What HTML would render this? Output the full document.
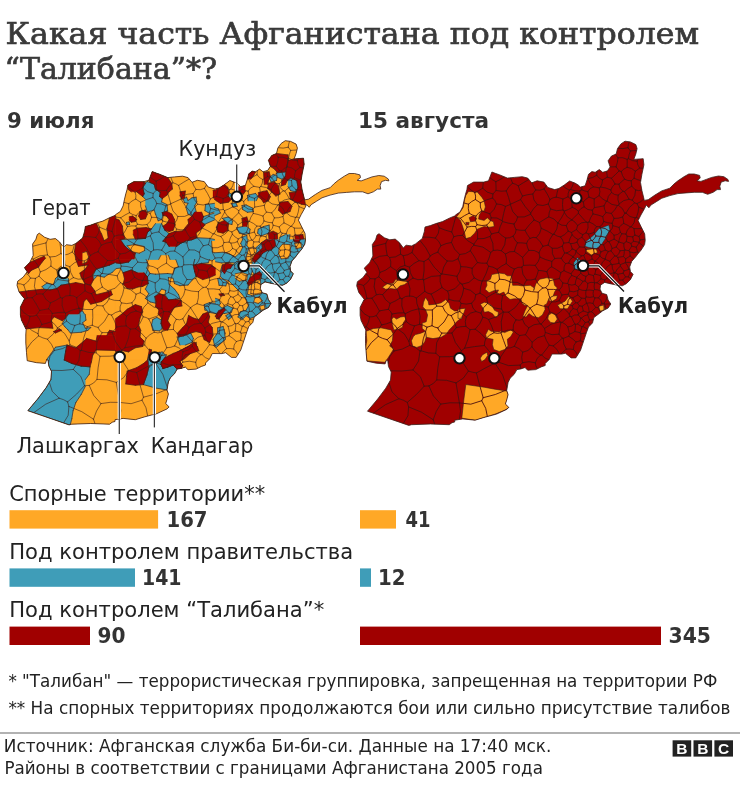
<!DOCTYPE html>
<html lang="ru"><head><meta charset="utf-8"><title>Какая часть Афганистана под контролем «Талибана»</title>
<style>html,body{margin:0;padding:0;background:#fff}svg{display:block}</style></head><body>
<svg width="740" height="786" viewBox="0 0 740 786">
<rect width="740" height="786" fill="#fff"/>
<text x="5.6" y="44.4" font-family="'DejaVu Serif', 'Liberation Serif', serif" font-size="30" font-weight="normal" fill="#3a3a3a" text-anchor="start" textLength="693.5" lengthAdjust="spacingAndGlyphs" stroke="#3a3a3a" stroke-width="0.7">Какая часть Афганистана под контролем</text>
<text x="4.6" y="79.2" font-family="'DejaVu Serif', 'Liberation Serif', serif" font-size="30" font-weight="normal" fill="#3a3a3a" text-anchor="start" textLength="212.5" lengthAdjust="spacingAndGlyphs" stroke="#3a3a3a" stroke-width="0.7">“Талибана”*?</text>
<text x="7" y="127.6" font-family="'DejaVu Sans', 'Liberation Sans', sans-serif" font-size="22" font-weight="bold" fill="#333" text-anchor="start" textLength="87.5" lengthAdjust="spacingAndGlyphs">9 июля</text>
<text x="358" y="127.6" font-family="'DejaVu Sans', 'Liberation Sans', sans-serif" font-size="22" font-weight="bold" fill="#333" text-anchor="start" textLength="131" lengthAdjust="spacingAndGlyphs">15 августа</text>
<clipPath id="cl"><polygon points="115.0,215.4 116.4,214.1 120.4,211.4 123.1,205.9 124.5,199.2 125.8,193.8 127.2,189.1 127.8,185.0 133.9,181.6 144.1,181.6 148.8,180.3 152.2,171.5 155.5,172.8 159.6,174.2 167.7,177.6 174.5,176.9 182.6,176.2 188.0,177.6 192.0,182.3 197.4,180.3 204.2,181.6 208.2,187.0 215.0,189.1 219.1,188.0 224.5,184.6 229.9,180.5 235.3,182.6 238.6,184.6 240.7,186.6 245.4,185.3 247.4,179.2 248.8,173.8 252.2,171.1 255.5,171.8 259.6,169.1 263.0,171.8 267.7,170.4 270.4,166.4 268.4,160.3 271.8,155.5 276.5,153.5 277.8,148.1 281.2,143.4 285.3,140.7 290.7,141.4 296.1,144.1 297.4,148.1 296.1,153.5 294.1,158.9 303.5,158.2 304.2,164.3 302.2,173.8 300.8,181.9 302.2,190.0 304.2,198.1 304.5,199.9 308.5,199.2 315.3,194.5 322.0,190.4 330.1,187.7 334.2,183.6 338.2,180.3 344.3,176.2 349.1,173.5 354.5,173.5 359.9,174.9 360.5,177.6 357.2,180.3 361.2,180.9 366.6,178.9 372.0,176.9 378.8,175.5 384.2,176.2 388.2,178.9 388.9,180.9 385.5,180.3 381.5,181.6 380.1,185.7 380.8,189.1 377.4,189.1 373.4,191.8 368.0,193.8 362.6,191.8 354.5,191.8 346.4,192.4 338.2,193.1 330.1,195.1 322.0,197.8 316.6,201.2 311.2,204.6 309.2,207.3 306.5,204.6 305.0,207.8 301.2,214.5 298.4,220.1 301.2,225.8 305.0,233.4 305.5,240.0 304.9,244.1 301.5,249.5 298.1,253.5 296.1,256.2 292.0,260.9 290.0,266.4 290.7,271.1 293.4,273.8 290.7,279.2 286.6,283.2 282.6,285.3 277.2,284.6 270.4,283.2 265.0,281.9 260.9,284.6 260.3,288.6 262.3,292.7 267.0,294.1 268.4,299.5 271.1,303.5 268.4,307.6 263.0,310.3 259.6,313.0 254.2,317.0 252.8,322.4 248.8,326.5 246.8,331.9 244.1,340.0 240.8,349.9 236.1,357.4 231.4,357.4 225.7,352.7 221.9,353.6 212.3,353.5 209.6,358.9 205.5,363.0 205.5,365.0 201.5,366.4 196.1,369.1 188.0,369.7 185.3,367.0 181.2,368.4 177.2,369.1 174.5,373.8 170.4,377.8 168.4,381.9 167.0,390.0 168.4,394.1 167.0,399.5 165.7,403.5 169.1,406.9 167.0,408.9 156.9,413.6 144.1,417.0 135.3,419.7 123.1,418.4 115.0,419.7 115.0,421.5 112.3,422.2 109.6,424.2 90.7,423.5 71.8,424.2 69.1,424.9 27.8,410.7 38.0,398.5 46.1,387.7 50.8,379.6 51.5,371.5 48.8,366.1 48.1,360.7 46.8,359.3 45.4,363.4 36.6,362.7 27.2,360.7 26.5,352.6 25.8,343.1 25.8,335.0 26.1,329.5 21.4,320.0 20.4,315.0 20.4,306.9 24.5,298.8 19.1,292.0 17.0,285.3 17.7,281.2 23.1,277.2 27.2,271.8 24.5,267.7 29.9,262.3 33.2,255.5 32.6,244.1 35.9,239.3 37.3,234.6 39.3,233.2 44.7,237.3 50.1,239.3 55.5,238.6 59.6,242.0 63.6,247.4 66.4,244.7 71.8,245.4 75.8,243.4 82.6,238.0 84.6,231.2 85.3,226.5 90.7,225.1 96.1,223.1 102.8,221.1 109.6,217.7"/></clipPath>
<polygon points="115.0,215.4 116.4,214.1 120.4,211.4 123.1,205.9 124.5,199.2 125.8,193.8 127.2,189.1 127.8,185.0 133.9,181.6 144.1,181.6 148.8,180.3 152.2,171.5 155.5,172.8 159.6,174.2 167.7,177.6 174.5,176.9 182.6,176.2 188.0,177.6 192.0,182.3 197.4,180.3 204.2,181.6 208.2,187.0 215.0,189.1 219.1,188.0 224.5,184.6 229.9,180.5 235.3,182.6 238.6,184.6 240.7,186.6 245.4,185.3 247.4,179.2 248.8,173.8 252.2,171.1 255.5,171.8 259.6,169.1 263.0,171.8 267.7,170.4 270.4,166.4 268.4,160.3 271.8,155.5 276.5,153.5 277.8,148.1 281.2,143.4 285.3,140.7 290.7,141.4 296.1,144.1 297.4,148.1 296.1,153.5 294.1,158.9 303.5,158.2 304.2,164.3 302.2,173.8 300.8,181.9 302.2,190.0 304.2,198.1 304.5,199.9 308.5,199.2 315.3,194.5 322.0,190.4 330.1,187.7 334.2,183.6 338.2,180.3 344.3,176.2 349.1,173.5 354.5,173.5 359.9,174.9 360.5,177.6 357.2,180.3 361.2,180.9 366.6,178.9 372.0,176.9 378.8,175.5 384.2,176.2 388.2,178.9 388.9,180.9 385.5,180.3 381.5,181.6 380.1,185.7 380.8,189.1 377.4,189.1 373.4,191.8 368.0,193.8 362.6,191.8 354.5,191.8 346.4,192.4 338.2,193.1 330.1,195.1 322.0,197.8 316.6,201.2 311.2,204.6 309.2,207.3 306.5,204.6 305.0,207.8 301.2,214.5 298.4,220.1 301.2,225.8 305.0,233.4 305.5,240.0 304.9,244.1 301.5,249.5 298.1,253.5 296.1,256.2 292.0,260.9 290.0,266.4 290.7,271.1 293.4,273.8 290.7,279.2 286.6,283.2 282.6,285.3 277.2,284.6 270.4,283.2 265.0,281.9 260.9,284.6 260.3,288.6 262.3,292.7 267.0,294.1 268.4,299.5 271.1,303.5 268.4,307.6 263.0,310.3 259.6,313.0 254.2,317.0 252.8,322.4 248.8,326.5 246.8,331.9 244.1,340.0 240.8,349.9 236.1,357.4 231.4,357.4 225.7,352.7 221.9,353.6 212.3,353.5 209.6,358.9 205.5,363.0 205.5,365.0 201.5,366.4 196.1,369.1 188.0,369.7 185.3,367.0 181.2,368.4 177.2,369.1 174.5,373.8 170.4,377.8 168.4,381.9 167.0,390.0 168.4,394.1 167.0,399.5 165.7,403.5 169.1,406.9 167.0,408.9 156.9,413.6 144.1,417.0 135.3,419.7 123.1,418.4 115.0,419.7 115.0,421.5 112.3,422.2 109.6,424.2 90.7,423.5 71.8,424.2 69.1,424.9 27.8,410.7 38.0,398.5 46.1,387.7 50.8,379.6 51.5,371.5 48.8,366.1 48.1,360.7 46.8,359.3 45.4,363.4 36.6,362.7 27.2,360.7 26.5,352.6 25.8,343.1 25.8,335.0 26.1,329.5 21.4,320.0 20.4,315.0 20.4,306.9 24.5,298.8 19.1,292.0 17.0,285.3 17.7,281.2 23.1,277.2 27.2,271.8 24.5,267.7 29.9,262.3 33.2,255.5 32.6,244.1 35.9,239.3 37.3,234.6 39.3,233.2 44.7,237.3 50.1,239.3 55.5,238.6 59.6,242.0 63.6,247.4 66.4,244.7 71.8,245.4 75.8,243.4 82.6,238.0 84.6,231.2 85.3,226.5 90.7,225.1 96.1,223.1 102.8,221.1 109.6,217.7" fill="#FFA826"/>
<g clip-path="url(#cl)" stroke-linejoin="round">
<g fill="#3F9DB8" stroke="#3b1f1a" stroke-width="1.3">
<polygon points="144.3,183.8 150.0,180.0 150.0,204.6 146.2,198.9 144.3,191.4"/>
<polygon points="119.7,240.5 131.1,236.8 146.2,234.9 150.0,236.8 150.0,244.3 142.4,246.2 131.1,245.3 123.5,246.2 118.8,244.3"/>
<polygon points="93.2,275.5 98.9,274.6 108.4,268.9 117.8,268.0 123.5,269.9 131.1,272.7 142.4,272.7 150.0,268.9 150.0,245.3 142.4,251.9 134.9,255.7 131.1,261.4 119.7,263.2 108.4,264.2 98.9,268.9 93.2,274.6"/>
<polygon points="43.1,287.8 53.5,283.1 57.3,276.5 66.8,278.4 74.3,283.1 84.7,283.1 66.8,285.0 53.5,288.2"/>
<polygon points="66.8,320.0 72.4,312.4 83.8,310.5 87.6,314.3 85.7,320.0"/>
<polygon points="62.0,325.7 66.8,320.0 85.7,320.0 86.6,325.7 89.5,328.5 81.9,332.3 72.4,333.2 66.8,329.5"/>
<polygon points="54.5,347.4 64.9,345.5 63.9,360.7 72.4,366.4 90.4,364.5 89.5,374.9 84.7,386.2 72.4,412.7 70.5,423.7 66.8,424.1 28.0,408.9 49.7,382.4 53.5,374.9 50.7,367.3 47.8,361.6"/>
<polygon points="149.1,360.7 150.0,360.7 150.0,387.2 143.4,386.2 146.2,376.8"/>
<polygon points="123.5,355.9 128.2,355.0 127.3,362.6 124.5,362.6"/>
<polygon points="150.0,183.4 155.7,189.1 161.4,196.6 165.1,198.5 168.9,204.2 167.0,210.8 163.2,213.6 157.6,209.9 153.8,210.8 150.0,209.9"/>
<polygon points="150.0,228.8 157.6,228.8 163.2,221.2 165.1,228.8 170.8,230.7 164.2,238.2 167.0,243.9 174.6,246.8 185.0,242.0 193.5,238.2 197.3,238.2 212.4,240.1 213.4,253.4 212.4,262.8 199.2,263.2 192.6,266.6 187.8,268.5 176.5,268.5 175.5,260.9 168.9,255.3 161.4,256.2 157.6,253.4 150.0,256.2"/>
<polygon points="187.8,197.6 196.4,196.6 197.3,208.0 190.7,209.9 187.8,204.2"/>
<polygon points="203.9,204.2 214.3,203.2 217.2,211.8 214.3,216.5 204.9,215.5"/>
<polygon points="224.7,218.4 232.3,219.3 233.2,224.1 228.5,223.1"/>
<polygon points="247.4,194.7 256.9,193.8 257.8,199.5 248.4,199.5"/>
<polygon points="243.6,206.1 252.2,206.1 253.1,211.8 244.6,211.8"/>
<polygon points="271.1,173.9 278.6,173.9 279.6,181.5 273.0,181.5"/>
<polygon points="234.2,227.8 240.8,226.9 248.4,230.7 255.9,234.5 263.5,240.1 261.6,247.7 255.9,253.4 253.1,260.0 248.4,260.9 244.6,255.3 240.8,257.2 238.9,245.8 242.7,240.1 235.1,234.5"/>
<polygon points="233.2,260.9 240.8,257.2 248.4,260.9 257.8,260.9 263.5,255.3 271.1,249.6 278.6,257.2 290.0,257.2 290.0,287.4 278.6,287.4 263.5,285.5 260.7,271.4 252.2,273.2 247.4,284.6 240.8,287.4 235.1,279.9 233.2,272.3 233.2,268.5"/>
<polygon points="150.0,276.1 161.4,278.0 176.5,278.0 176.5,268.5 187.8,268.5 192.6,266.6 196.4,276.1 193.5,287.4 187.8,295.0 165.1,295.0 164.2,288.4 157.6,289.3 150.0,287.4"/>
<polygon points="214.3,278.0 221.9,276.1 229.5,278.0 233.2,287.4 225.7,295.0 216.2,295.0"/>
<polygon points="238.9,287.4 247.4,285.5 248.4,295.0 240.8,295.0"/>
<polygon points="150.0,295.0 155.7,295.0 154.7,302.6 150.0,302.6"/>
<polygon points="151.9,319.6 157.6,317.7 163.2,330.9 157.6,330.9 151.9,329.1"/>
<polygon points="204.9,306.4 214.3,302.6 220.0,306.4 215.3,313.9 206.8,312.0"/>
<polygon points="178.4,338.5 187.8,333.8 192.6,340.4 190.7,344.2 180.3,346.1"/>
<polygon points="213.4,340.4 220.0,330.0 225.7,330.9 224.7,339.5 216.2,347.0"/>
<polygon points="220.0,295.0 231.4,295.0 233.2,300.7 225.7,306.4 220.9,302.6"/>
<polygon points="231.4,304.5 238.9,303.5 240.8,310.1 233.2,311.1"/>
<polygon points="238.9,313.9 248.4,313.0 249.3,318.6 239.9,320.5"/>
<polygon points="250.3,298.8 271.1,300.7 268.2,308.2 257.8,310.1 252.2,306.4"/>
<polygon points="150.0,359.3 153.8,363.1 161.4,366.9 168.9,367.8 178.4,369.7 176.5,374.5 170.8,378.2 168.0,385.8 167.0,389.6 150.0,388.6"/>
<polygon points="159.5,352.7 166.1,353.6 162.3,360.3 158.5,359.3"/>
<polygon points="270.0,174.7 275.7,175.7 276.6,180.4 270.0,182.3"/>
<polygon points="277.6,172.8 284.2,171.9 284.2,176.6 278.5,177.6"/>
<polygon points="288.0,180.4 294.6,177.6 298.4,182.3 298.4,189.9 292.7,192.7 288.9,189.9"/>
<polygon points="275.7,240.9 281.4,237.2 288.9,234.3 290.8,240.0 287.0,244.7 279.5,246.6"/>
<polygon points="270.0,248.5 274.7,246.6 279.5,246.6 278.5,256.1 288.9,258.0 288.9,248.5 298.4,248.5 305.9,244.7 301.2,250.4 298.4,256.1 294.6,261.8 293.6,267.4 288.9,275.0 270.0,275.0"/>
<polygon points="230.0,251.4 239.5,249.5 241.4,240.0 261.2,243.8 260.3,249.5 254.6,253.2 252.7,258.0 258.4,255.1 263.1,251.4 270.7,250.4 276.4,245.7 279.2,251.4 286.8,255.1 296.2,257.0 292.4,264.6 293.4,270.3 290.5,277.8 286.8,282.6 281.1,285.4 273.5,282.6 264.1,280.7 261.2,283.5 260.3,289.2 265.9,294.9 266.9,300.5 270.7,305.3 266.9,310.0 260.3,311.9 252.7,314.7 245.1,315.7 241.4,311.9 235.7,302.4 233.8,293.0 230.0,289.2"/>
<polygon points="286.8,240.0 292.4,240.0 293.4,245.7 288.6,246.6"/>
<polygon points="296.2,245.7 303.8,243.8 302.8,250.4 298.1,251.4"/>
<polygon points="195.4,208.0 204.9,207.0 205.8,216.5 197.3,217.4"/>
</g>
<g fill="#3F9DB8" stroke="#3F9DB8" stroke-width="0.25">
<polygon points="144.3,183.8 150.0,180.0 150.0,204.6 146.2,198.9 144.3,191.4"/>
<polygon points="119.7,240.5 131.1,236.8 146.2,234.9 150.0,236.8 150.0,244.3 142.4,246.2 131.1,245.3 123.5,246.2 118.8,244.3"/>
<polygon points="93.2,275.5 98.9,274.6 108.4,268.9 117.8,268.0 123.5,269.9 131.1,272.7 142.4,272.7 150.0,268.9 150.0,245.3 142.4,251.9 134.9,255.7 131.1,261.4 119.7,263.2 108.4,264.2 98.9,268.9 93.2,274.6"/>
<polygon points="43.1,287.8 53.5,283.1 57.3,276.5 66.8,278.4 74.3,283.1 84.7,283.1 66.8,285.0 53.5,288.2"/>
<polygon points="66.8,320.0 72.4,312.4 83.8,310.5 87.6,314.3 85.7,320.0"/>
<polygon points="62.0,325.7 66.8,320.0 85.7,320.0 86.6,325.7 89.5,328.5 81.9,332.3 72.4,333.2 66.8,329.5"/>
<polygon points="54.5,347.4 64.9,345.5 63.9,360.7 72.4,366.4 90.4,364.5 89.5,374.9 84.7,386.2 72.4,412.7 70.5,423.7 66.8,424.1 28.0,408.9 49.7,382.4 53.5,374.9 50.7,367.3 47.8,361.6"/>
<polygon points="149.1,360.7 150.0,360.7 150.0,387.2 143.4,386.2 146.2,376.8"/>
<polygon points="123.5,355.9 128.2,355.0 127.3,362.6 124.5,362.6"/>
<polygon points="150.0,183.4 155.7,189.1 161.4,196.6 165.1,198.5 168.9,204.2 167.0,210.8 163.2,213.6 157.6,209.9 153.8,210.8 150.0,209.9"/>
<polygon points="150.0,228.8 157.6,228.8 163.2,221.2 165.1,228.8 170.8,230.7 164.2,238.2 167.0,243.9 174.6,246.8 185.0,242.0 193.5,238.2 197.3,238.2 212.4,240.1 213.4,253.4 212.4,262.8 199.2,263.2 192.6,266.6 187.8,268.5 176.5,268.5 175.5,260.9 168.9,255.3 161.4,256.2 157.6,253.4 150.0,256.2"/>
<polygon points="187.8,197.6 196.4,196.6 197.3,208.0 190.7,209.9 187.8,204.2"/>
<polygon points="203.9,204.2 214.3,203.2 217.2,211.8 214.3,216.5 204.9,215.5"/>
<polygon points="224.7,218.4 232.3,219.3 233.2,224.1 228.5,223.1"/>
<polygon points="247.4,194.7 256.9,193.8 257.8,199.5 248.4,199.5"/>
<polygon points="243.6,206.1 252.2,206.1 253.1,211.8 244.6,211.8"/>
<polygon points="271.1,173.9 278.6,173.9 279.6,181.5 273.0,181.5"/>
<polygon points="234.2,227.8 240.8,226.9 248.4,230.7 255.9,234.5 263.5,240.1 261.6,247.7 255.9,253.4 253.1,260.0 248.4,260.9 244.6,255.3 240.8,257.2 238.9,245.8 242.7,240.1 235.1,234.5"/>
<polygon points="233.2,260.9 240.8,257.2 248.4,260.9 257.8,260.9 263.5,255.3 271.1,249.6 278.6,257.2 290.0,257.2 290.0,287.4 278.6,287.4 263.5,285.5 260.7,271.4 252.2,273.2 247.4,284.6 240.8,287.4 235.1,279.9 233.2,272.3 233.2,268.5"/>
<polygon points="150.0,276.1 161.4,278.0 176.5,278.0 176.5,268.5 187.8,268.5 192.6,266.6 196.4,276.1 193.5,287.4 187.8,295.0 165.1,295.0 164.2,288.4 157.6,289.3 150.0,287.4"/>
<polygon points="214.3,278.0 221.9,276.1 229.5,278.0 233.2,287.4 225.7,295.0 216.2,295.0"/>
<polygon points="238.9,287.4 247.4,285.5 248.4,295.0 240.8,295.0"/>
<polygon points="150.0,295.0 155.7,295.0 154.7,302.6 150.0,302.6"/>
<polygon points="151.9,319.6 157.6,317.7 163.2,330.9 157.6,330.9 151.9,329.1"/>
<polygon points="204.9,306.4 214.3,302.6 220.0,306.4 215.3,313.9 206.8,312.0"/>
<polygon points="178.4,338.5 187.8,333.8 192.6,340.4 190.7,344.2 180.3,346.1"/>
<polygon points="213.4,340.4 220.0,330.0 225.7,330.9 224.7,339.5 216.2,347.0"/>
<polygon points="220.0,295.0 231.4,295.0 233.2,300.7 225.7,306.4 220.9,302.6"/>
<polygon points="231.4,304.5 238.9,303.5 240.8,310.1 233.2,311.1"/>
<polygon points="238.9,313.9 248.4,313.0 249.3,318.6 239.9,320.5"/>
<polygon points="250.3,298.8 271.1,300.7 268.2,308.2 257.8,310.1 252.2,306.4"/>
<polygon points="150.0,359.3 153.8,363.1 161.4,366.9 168.9,367.8 178.4,369.7 176.5,374.5 170.8,378.2 168.0,385.8 167.0,389.6 150.0,388.6"/>
<polygon points="159.5,352.7 166.1,353.6 162.3,360.3 158.5,359.3"/>
<polygon points="270.0,174.7 275.7,175.7 276.6,180.4 270.0,182.3"/>
<polygon points="277.6,172.8 284.2,171.9 284.2,176.6 278.5,177.6"/>
<polygon points="288.0,180.4 294.6,177.6 298.4,182.3 298.4,189.9 292.7,192.7 288.9,189.9"/>
<polygon points="275.7,240.9 281.4,237.2 288.9,234.3 290.8,240.0 287.0,244.7 279.5,246.6"/>
<polygon points="270.0,248.5 274.7,246.6 279.5,246.6 278.5,256.1 288.9,258.0 288.9,248.5 298.4,248.5 305.9,244.7 301.2,250.4 298.4,256.1 294.6,261.8 293.6,267.4 288.9,275.0 270.0,275.0"/>
<polygon points="230.0,251.4 239.5,249.5 241.4,240.0 261.2,243.8 260.3,249.5 254.6,253.2 252.7,258.0 258.4,255.1 263.1,251.4 270.7,250.4 276.4,245.7 279.2,251.4 286.8,255.1 296.2,257.0 292.4,264.6 293.4,270.3 290.5,277.8 286.8,282.6 281.1,285.4 273.5,282.6 264.1,280.7 261.2,283.5 260.3,289.2 265.9,294.9 266.9,300.5 270.7,305.3 266.9,310.0 260.3,311.9 252.7,314.7 245.1,315.7 241.4,311.9 235.7,302.4 233.8,293.0 230.0,289.2"/>
<polygon points="286.8,240.0 292.4,240.0 293.4,245.7 288.6,246.6"/>
<polygon points="296.2,245.7 303.8,243.8 302.8,250.4 298.1,251.4"/>
<polygon points="195.4,208.0 204.9,207.0 205.8,216.5 197.3,217.4"/>
</g>
<g fill="#A00000" stroke="#3b1f1a" stroke-width="1.3">
<polygon points="128.2,184.7 134.9,181.9 142.4,183.8 144.3,191.4 140.5,196.1 131.1,191.4"/>
<polygon points="139.6,211.2 145.3,210.3 147.2,215.9 142.4,218.8 139.6,216.9"/>
<polygon points="130.1,216.9 135.8,215.0 138.6,218.8 133.0,222.6"/>
<polygon points="109.3,217.8 115.9,215.9 121.6,219.7 123.5,234.9 115.9,238.6 108.4,234.9 106.5,225.4"/>
<polygon points="85.7,226.4 95.1,224.5 98.9,233.0 102.7,240.5 108.4,236.8 115.9,239.6 123.5,236.8 131.1,244.3 134.9,255.7 131.1,261.4 119.7,263.2 108.4,264.2 98.9,268.9 93.2,274.6 87.6,278.4 81.9,274.6 80.0,268.9 85.7,265.1 87.6,259.5 81.9,265.1 76.2,265.1 74.3,255.7 74.3,248.1 78.1,242.4 84.7,236.8"/>
<polygon points="24.2,268.0 28.9,263.2 34.6,259.5 44.1,257.6 42.2,263.2 32.7,270.8 27.0,272.7"/>
<polygon points="18.5,291.6 42.2,288.8 53.5,287.8 66.8,285.0 84.7,283.1 89.5,278.4 95.1,285.9 95.1,293.5 85.7,298.2 83.8,308.6 72.4,312.4 66.8,320.0 20.4,320.0 19.5,310.5 24.2,301.1"/>
<polygon points="88.5,298.2 95.1,294.5 108.4,291.6 112.2,295.4 106.5,301.1 89.5,304.9"/>
<polygon points="125.4,270.8 133.0,272.7 144.3,274.6 146.2,285.9 140.5,291.6 131.1,293.5 123.5,287.8 124.5,278.4"/>
<polygon points="127.3,308.6 138.6,304.9 142.4,312.4 140.5,320.0 121.6,320.0 123.5,312.4"/>
<polygon points="133.9,230.1 142.4,227.3 150.0,229.2 150.0,234.9 142.4,238.6 134.9,236.8"/>
<polygon points="22.3,320.0 49.7,320.0 50.7,327.6 38.4,327.6 26.1,329.5"/>
<polygon points="64.9,345.5 72.4,348.4 85.7,340.8 96.1,339.9 95.1,350.3 91.4,351.2 90.4,364.5 72.4,366.4 63.9,360.7"/>
<polygon points="96.1,339.9 106.5,333.2 112.2,327.6 117.8,320.0 142.4,320.0 140.5,327.6 146.2,337.0 142.4,346.5 134.9,351.2 127.3,348.4 125.4,354.1 115.9,353.1 115.9,350.3 95.1,350.3"/>
<polygon points="131.1,368.2 142.4,362.6 149.1,360.7 146.2,376.8 143.4,386.2 125.4,383.4 127.3,373.0"/>
<polygon points="54.5,330.4 61.1,328.5 62.0,332.3 55.4,333.2"/>
<polygon points="150.0,173.0 153.8,171.1 161.4,174.9 170.8,178.6 171.8,186.2 168.0,192.8 165.1,198.5 161.4,196.6 155.7,189.1 150.0,183.4"/>
<polygon points="179.3,191.9 185.0,190.9 185.9,197.6 181.2,199.5"/>
<polygon points="164.2,213.6 168.9,210.8 173.6,215.5 174.6,225.0 170.8,230.7 165.1,228.8 163.2,221.2"/>
<polygon points="187.8,219.3 195.4,211.8 203.0,211.8 203.9,219.3 199.2,225.0 193.5,229.7 187.8,236.4 185.0,242.0 174.6,246.8 167.0,243.9 164.2,238.2 170.8,232.6 180.3,230.7 185.0,230.7"/>
<polygon points="213.4,190.9 220.0,186.2 225.7,183.4 230.4,188.1 231.4,192.8 230.4,200.4 224.7,202.3 216.2,199.5"/>
<polygon points="238.9,186.2 244.6,186.2 243.6,195.7 240.8,196.6"/>
<polygon points="216.2,225.9 222.8,220.3 228.5,223.1 229.5,228.8 225.7,231.6 218.1,230.7"/>
<polygon points="241.8,217.4 247.4,217.4 247.4,226.9 242.7,227.8"/>
<polygon points="268.2,158.8 273.0,155.0 290.0,155.0 290.0,166.4 286.2,173.9 289.1,189.1 282.4,189.1 280.5,181.5 274.9,179.6 271.1,173.9 268.2,168.2 271.1,162.6"/>
<polygon points="264.5,183.4 273.0,181.5 278.6,187.2 274.9,192.8 267.3,190.9"/>
<polygon points="248.4,172.0 254.1,170.1 255.0,175.8 250.3,179.6"/>
<polygon points="263.5,191.9 269.2,190.9 270.1,199.5 265.4,200.4"/>
<polygon points="278.6,203.2 290.0,201.4 290.0,211.8 280.5,213.6 275.8,209.9"/>
<polygon points="268.2,233.5 273.9,230.7 276.8,236.4 275.8,243.9 271.1,249.6 263.5,255.3 257.8,260.9 253.1,260.0 255.9,253.4 261.6,247.7 263.5,240.1"/>
<polygon points="192.6,266.6 199.2,263.2 210.5,264.7 212.4,276.1 204.9,278.9 196.4,276.1"/>
<polygon points="221.9,262.8 231.4,262.8 233.2,268.5 225.7,272.3 221.9,268.5"/>
<polygon points="252.2,273.2 260.7,271.4 259.7,279.9 253.1,285.5 247.4,284.6"/>
<polygon points="157.6,289.3 164.2,288.4 165.1,295.0 158.5,295.0"/>
<polygon points="155.7,295.0 178.4,295.0 181.2,302.6 172.7,308.2 170.8,313.9 167.0,319.6 163.2,330.9 157.6,327.2 158.5,315.8 154.7,308.2"/>
<polygon points="184.1,315.8 190.7,313.9 197.3,319.6 203.0,317.7 204.9,312.0 208.6,313.0 209.6,319.6 206.8,326.2 212.4,330.9 213.4,340.4 206.8,342.3 203.0,336.6 204.9,330.0 201.1,327.2 195.4,332.8 191.6,340.4 187.8,335.7 182.2,335.7 176.5,337.6 178.4,331.9 185.9,327.2 187.8,321.5"/>
<polygon points="178.4,348.0 195.4,341.4 199.2,346.1 197.3,351.8 184.1,353.6 183.1,359.3 185.0,367.8 178.4,369.7 168.9,367.8 161.4,366.9 162.3,360.3 168.9,355.5"/>
<polygon points="216.2,311.1 225.7,308.2 220.9,315.8 217.2,317.7"/>
<polygon points="270.0,154.9 275.7,153.0 281.4,154.9 288.9,155.8 288.0,161.5 283.2,165.3 286.1,169.1 281.4,172.8 275.7,170.9 270.0,172.8"/>
<polygon points="288.9,163.4 295.5,158.6 303.1,157.7 304.1,163.4 302.2,172.8 301.2,182.3 298.4,180.4 294.6,177.6 288.9,179.5 285.1,188.0 281.4,186.1 284.2,176.6 287.0,169.1"/>
<polygon points="298.4,182.3 301.2,182.3 302.2,191.8 305.0,200.3 305.0,205.0 298.4,199.3 292.7,195.5 288.9,191.8 296.5,191.8"/>
<polygon points="270.0,182.3 275.7,182.3 279.5,189.9 277.6,197.4 270.0,191.8"/>
<polygon points="277.6,204.1 287.0,201.2 290.8,205.9 288.9,211.6 280.4,213.5 276.6,209.7"/>
<polygon points="270.0,231.5 275.7,230.5 277.6,237.2 274.7,246.6 270.0,248.5"/>
<polygon points="290.8,234.3 300.3,233.4 304.1,239.1 298.4,240.9 291.8,240.0"/>
<polygon points="261.2,243.8 265.9,240.0 275.4,240.0 276.4,245.7 270.7,250.4 263.1,251.4 258.4,255.1 252.7,258.0 254.6,253.2 260.3,249.5"/>
<polygon points="248.9,277.8 253.6,273.1 260.3,271.2 258.4,277.8 254.6,282.6 248.9,282.6"/>
</g>
<g fill="#A00000" stroke="#A00000" stroke-width="0.25">
<polygon points="128.2,184.7 134.9,181.9 142.4,183.8 144.3,191.4 140.5,196.1 131.1,191.4"/>
<polygon points="139.6,211.2 145.3,210.3 147.2,215.9 142.4,218.8 139.6,216.9"/>
<polygon points="130.1,216.9 135.8,215.0 138.6,218.8 133.0,222.6"/>
<polygon points="109.3,217.8 115.9,215.9 121.6,219.7 123.5,234.9 115.9,238.6 108.4,234.9 106.5,225.4"/>
<polygon points="85.7,226.4 95.1,224.5 98.9,233.0 102.7,240.5 108.4,236.8 115.9,239.6 123.5,236.8 131.1,244.3 134.9,255.7 131.1,261.4 119.7,263.2 108.4,264.2 98.9,268.9 93.2,274.6 87.6,278.4 81.9,274.6 80.0,268.9 85.7,265.1 87.6,259.5 81.9,265.1 76.2,265.1 74.3,255.7 74.3,248.1 78.1,242.4 84.7,236.8"/>
<polygon points="24.2,268.0 28.9,263.2 34.6,259.5 44.1,257.6 42.2,263.2 32.7,270.8 27.0,272.7"/>
<polygon points="18.5,291.6 42.2,288.8 53.5,287.8 66.8,285.0 84.7,283.1 89.5,278.4 95.1,285.9 95.1,293.5 85.7,298.2 83.8,308.6 72.4,312.4 66.8,320.0 20.4,320.0 19.5,310.5 24.2,301.1"/>
<polygon points="88.5,298.2 95.1,294.5 108.4,291.6 112.2,295.4 106.5,301.1 89.5,304.9"/>
<polygon points="125.4,270.8 133.0,272.7 144.3,274.6 146.2,285.9 140.5,291.6 131.1,293.5 123.5,287.8 124.5,278.4"/>
<polygon points="127.3,308.6 138.6,304.9 142.4,312.4 140.5,320.0 121.6,320.0 123.5,312.4"/>
<polygon points="133.9,230.1 142.4,227.3 150.0,229.2 150.0,234.9 142.4,238.6 134.9,236.8"/>
<polygon points="22.3,320.0 49.7,320.0 50.7,327.6 38.4,327.6 26.1,329.5"/>
<polygon points="64.9,345.5 72.4,348.4 85.7,340.8 96.1,339.9 95.1,350.3 91.4,351.2 90.4,364.5 72.4,366.4 63.9,360.7"/>
<polygon points="96.1,339.9 106.5,333.2 112.2,327.6 117.8,320.0 142.4,320.0 140.5,327.6 146.2,337.0 142.4,346.5 134.9,351.2 127.3,348.4 125.4,354.1 115.9,353.1 115.9,350.3 95.1,350.3"/>
<polygon points="131.1,368.2 142.4,362.6 149.1,360.7 146.2,376.8 143.4,386.2 125.4,383.4 127.3,373.0"/>
<polygon points="54.5,330.4 61.1,328.5 62.0,332.3 55.4,333.2"/>
<polygon points="150.0,173.0 153.8,171.1 161.4,174.9 170.8,178.6 171.8,186.2 168.0,192.8 165.1,198.5 161.4,196.6 155.7,189.1 150.0,183.4"/>
<polygon points="179.3,191.9 185.0,190.9 185.9,197.6 181.2,199.5"/>
<polygon points="164.2,213.6 168.9,210.8 173.6,215.5 174.6,225.0 170.8,230.7 165.1,228.8 163.2,221.2"/>
<polygon points="187.8,219.3 195.4,211.8 203.0,211.8 203.9,219.3 199.2,225.0 193.5,229.7 187.8,236.4 185.0,242.0 174.6,246.8 167.0,243.9 164.2,238.2 170.8,232.6 180.3,230.7 185.0,230.7"/>
<polygon points="213.4,190.9 220.0,186.2 225.7,183.4 230.4,188.1 231.4,192.8 230.4,200.4 224.7,202.3 216.2,199.5"/>
<polygon points="238.9,186.2 244.6,186.2 243.6,195.7 240.8,196.6"/>
<polygon points="216.2,225.9 222.8,220.3 228.5,223.1 229.5,228.8 225.7,231.6 218.1,230.7"/>
<polygon points="241.8,217.4 247.4,217.4 247.4,226.9 242.7,227.8"/>
<polygon points="268.2,158.8 273.0,155.0 290.0,155.0 290.0,166.4 286.2,173.9 289.1,189.1 282.4,189.1 280.5,181.5 274.9,179.6 271.1,173.9 268.2,168.2 271.1,162.6"/>
<polygon points="264.5,183.4 273.0,181.5 278.6,187.2 274.9,192.8 267.3,190.9"/>
<polygon points="248.4,172.0 254.1,170.1 255.0,175.8 250.3,179.6"/>
<polygon points="263.5,191.9 269.2,190.9 270.1,199.5 265.4,200.4"/>
<polygon points="278.6,203.2 290.0,201.4 290.0,211.8 280.5,213.6 275.8,209.9"/>
<polygon points="268.2,233.5 273.9,230.7 276.8,236.4 275.8,243.9 271.1,249.6 263.5,255.3 257.8,260.9 253.1,260.0 255.9,253.4 261.6,247.7 263.5,240.1"/>
<polygon points="192.6,266.6 199.2,263.2 210.5,264.7 212.4,276.1 204.9,278.9 196.4,276.1"/>
<polygon points="221.9,262.8 231.4,262.8 233.2,268.5 225.7,272.3 221.9,268.5"/>
<polygon points="252.2,273.2 260.7,271.4 259.7,279.9 253.1,285.5 247.4,284.6"/>
<polygon points="157.6,289.3 164.2,288.4 165.1,295.0 158.5,295.0"/>
<polygon points="155.7,295.0 178.4,295.0 181.2,302.6 172.7,308.2 170.8,313.9 167.0,319.6 163.2,330.9 157.6,327.2 158.5,315.8 154.7,308.2"/>
<polygon points="184.1,315.8 190.7,313.9 197.3,319.6 203.0,317.7 204.9,312.0 208.6,313.0 209.6,319.6 206.8,326.2 212.4,330.9 213.4,340.4 206.8,342.3 203.0,336.6 204.9,330.0 201.1,327.2 195.4,332.8 191.6,340.4 187.8,335.7 182.2,335.7 176.5,337.6 178.4,331.9 185.9,327.2 187.8,321.5"/>
<polygon points="178.4,348.0 195.4,341.4 199.2,346.1 197.3,351.8 184.1,353.6 183.1,359.3 185.0,367.8 178.4,369.7 168.9,367.8 161.4,366.9 162.3,360.3 168.9,355.5"/>
<polygon points="216.2,311.1 225.7,308.2 220.9,315.8 217.2,317.7"/>
<polygon points="270.0,154.9 275.7,153.0 281.4,154.9 288.9,155.8 288.0,161.5 283.2,165.3 286.1,169.1 281.4,172.8 275.7,170.9 270.0,172.8"/>
<polygon points="288.9,163.4 295.5,158.6 303.1,157.7 304.1,163.4 302.2,172.8 301.2,182.3 298.4,180.4 294.6,177.6 288.9,179.5 285.1,188.0 281.4,186.1 284.2,176.6 287.0,169.1"/>
<polygon points="298.4,182.3 301.2,182.3 302.2,191.8 305.0,200.3 305.0,205.0 298.4,199.3 292.7,195.5 288.9,191.8 296.5,191.8"/>
<polygon points="270.0,182.3 275.7,182.3 279.5,189.9 277.6,197.4 270.0,191.8"/>
<polygon points="277.6,204.1 287.0,201.2 290.8,205.9 288.9,211.6 280.4,213.5 276.6,209.7"/>
<polygon points="270.0,231.5 275.7,230.5 277.6,237.2 274.7,246.6 270.0,248.5"/>
<polygon points="290.8,234.3 300.3,233.4 304.1,239.1 298.4,240.9 291.8,240.0"/>
<polygon points="261.2,243.8 265.9,240.0 275.4,240.0 276.4,245.7 270.7,250.4 263.1,251.4 258.4,255.1 252.7,258.0 254.6,253.2 260.3,249.5"/>
<polygon points="248.9,277.8 253.6,273.1 260.3,271.2 258.4,277.8 254.6,282.6 248.9,282.6"/>
</g>
<g fill="#FFA826" stroke="#3b1f1a" stroke-width="1.3">
<polygon points="278.6,245.8 290.0,243.9 290.0,257.2 278.6,257.2"/>
<polygon points="248.4,262.8 253.1,260.9 254.1,268.5 249.3,268.5"/>
<polygon points="233.8,275.9 241.4,273.1 248.0,275.9 247.0,282.6 237.6,283.5"/>
<polygon points="248.9,284.5 258.4,282.6 260.3,289.2 258.4,296.8 250.8,298.6 247.0,293.0"/>
<polygon points="280.1,247.6 286.8,244.7 292.4,247.6 290.5,255.1 284.9,258.9 280.1,255.1"/>
<polygon points="230.0,294.9 237.6,296.8 243.2,302.4 241.4,310.0 233.8,308.1 230.0,304.3"/>
<polygon points="275.8,173.0 282.4,171.1 285.3,175.8 282.4,181.5 280.5,186.2 276.8,183.4"/>
</g>
<g fill="#FFA826" stroke="#FFA826" stroke-width="0.25">
<polygon points="278.6,245.8 290.0,243.9 290.0,257.2 278.6,257.2"/>
<polygon points="248.4,262.8 253.1,260.9 254.1,268.5 249.3,268.5"/>
<polygon points="233.8,275.9 241.4,273.1 248.0,275.9 247.0,282.6 237.6,283.5"/>
<polygon points="248.9,284.5 258.4,282.6 260.3,289.2 258.4,296.8 250.8,298.6 247.0,293.0"/>
<polygon points="280.1,247.6 286.8,244.7 292.4,247.6 290.5,255.1 284.9,258.9 280.1,255.1"/>
<polygon points="230.0,294.9 237.6,296.8 243.2,302.4 241.4,310.0 233.8,308.1 230.0,304.3"/>
<polygon points="275.8,173.0 282.4,171.1 285.3,175.8 282.4,181.5 280.5,186.2 276.8,183.4"/>
</g>
<g fill="#3F9DB8" stroke="#3b1f1a" stroke-width="1.3">
<polygon points="271.5,173.9 276.4,173.2 277.9,181.1 273.0,181.5"/>
</g>
<g fill="#3F9DB8" stroke="#3F9DB8" stroke-width="0.25">
<polygon points="271.5,173.9 276.4,173.2 277.9,181.1 273.0,181.5"/>
</g>
<g fill="#A00000" stroke="#3b1f1a" stroke-width="1.3">
</g>
<g fill="#A00000" stroke="#A00000" stroke-width="0.25">
</g>
<polygon points="115.0,160.0 215.0,160.0 215.0,260.0 115.0,260.0" fill="#FFA826" stroke="#FFA826" stroke-width="0.3"/>
<polygon points="144.1,183.6 147.4,181.6 154.2,184.3 155.5,189.1 160.3,192.4 159.6,196.5 162.3,198.5 161.6,201.9 167.0,204.6 167.7,210.7 162.3,212.7 163.0,215.4 161.6,219.5 158.2,220.8 155.5,214.1 154.2,210.0 147.4,212.0 145.4,205.9 145.4,199.2 142.7,196.5 144.1,193.8 142.7,187.7" fill="#3F9DB8" stroke="#3F9DB8" stroke-width="0.3"/>
<path d="M144.1 183.6L147.4 181.6M147.4 181.6L154.2 184.3M154.2 184.3L155.5 189.1M155.5 189.1L160.3 192.4M160.3 192.4L159.6 196.5M159.6 196.5L162.3 198.5M162.3 198.5L161.6 201.9M161.6 201.9L167.0 204.6M167.0 204.6L167.7 210.7M167.7 210.7L162.3 212.7M162.3 212.7L163.0 215.4M163.0 215.4L161.6 219.5M161.6 219.5L158.2 220.8M158.2 220.8L155.5 214.1M155.5 214.1L154.2 210.0M154.2 210.0L147.4 212.0M147.4 212.0L145.4 205.9M145.4 199.2L142.7 196.5M142.7 196.5L144.1 193.8M144.1 193.8L142.7 187.7M142.7 187.7L144.1 183.6" fill="none" stroke="#3b1f1a" stroke-width="0.65" stroke-linecap="round"/>
<polygon points="183.2,199.2 186.6,197.2 188.0,200.5 192.0,197.8 196.1,197.2 196.8,201.9 194.7,205.9 196.1,211.4 192.0,216.1 188.0,214.1 185.9,207.3 188.0,203.2 184.6,202.6" fill="#3F9DB8" stroke="#3F9DB8" stroke-width="0.3"/>
<path d="M183.2 199.2L186.6 197.2M186.6 197.2L188.0 200.5M188.0 200.5L192.0 197.8M192.0 197.8L196.1 197.2M196.1 197.2L196.8 201.9M196.8 201.9L194.7 205.9M194.7 205.9L196.1 211.4M196.1 211.4L192.0 216.1M192.0 216.1L188.0 214.1M188.0 214.1L185.9 207.3M185.9 207.3L188.0 203.2M188.0 203.2L184.6 202.6M184.6 202.6L183.2 199.2" fill="none" stroke="#3b1f1a" stroke-width="0.65" stroke-linecap="round"/>
<polygon points="205.5,204.6 215.5,203.2 215.5,211.4 209.6,213.4 204.9,210.7" fill="#3F9DB8" stroke="#3F9DB8" stroke-width="0.3"/>
<path d="M205.5 204.6L215.5 203.2M215.5 211.4L209.6 213.4M209.6 213.4L204.9 210.7M204.9 210.7L205.5 204.6" fill="none" stroke="#3b1f1a" stroke-width="0.65" stroke-linecap="round"/>
<polygon points="202.8,216.8 215.5,212.7 215.5,219.5 204.9,224.2 201.5,222.2" fill="#3F9DB8" stroke="#3F9DB8" stroke-width="0.3"/>
<path d="M202.8 216.8L215.5 212.7M215.5 219.5L204.9 224.2M204.9 224.2L201.5 222.2M201.5 222.2L202.8 216.8" fill="none" stroke="#3b1f1a" stroke-width="0.65" stroke-linecap="round"/>
<polygon points="119.1,239.7 145.4,238.4 147.4,232.3 151.5,228.9 155.5,223.5 161.6,223.5 163.0,226.2 165.0,230.3 169.1,233.6 165.7,237.7 163.0,241.1 166.4,242.4 169.1,246.5 176.5,246.5 179.9,243.8 185.3,241.1 192.0,239.7 196.8,237.7 209.6,238.4 215.5,239.7 215.5,260.5 135.3,260.5 135.3,253.2 129.9,250.5 125.1,246.5 120.4,241.1" fill="#3F9DB8" stroke="#3F9DB8" stroke-width="0.3"/>
<path d="M119.1 239.7L145.4 238.4M145.4 238.4L147.4 232.3M147.4 232.3L151.5 228.9M151.5 228.9L155.5 223.5M161.6 223.5L163.0 226.2M163.0 226.2L165.0 230.3M165.0 230.3L169.1 233.6M169.1 233.6L165.7 237.7M165.7 237.7L163.0 241.1M163.0 241.1L166.4 242.4M166.4 242.4L169.1 246.5M176.5 246.5L179.9 243.8M179.9 243.8L185.3 241.1M185.3 241.1L192.0 239.7M192.0 239.7L196.8 237.7M196.8 237.7L209.6 238.4M209.6 238.4L215.5 239.7M135.3 253.2L129.9 250.5M129.9 250.5L125.1 246.5M125.1 246.5L120.4 241.1M120.4 241.1L119.1 239.7" fill="none" stroke="#3b1f1a" stroke-width="0.65" stroke-linecap="round"/>
<polygon points="126.5,222.4 129.2,221.9 129.6,224.6 126.9,224.9" fill="#3F9DB8" stroke="#3F9DB8" stroke-width="0.3"/>
<path d="M126.5 222.4L129.2 221.9M129.2 221.9L129.6 224.6M129.6 224.6L126.9 224.9M126.9 224.9L126.5 222.4" fill="none" stroke="#3b1f1a" stroke-width="0.65" stroke-linecap="round"/>
<polygon points="127.2,245.8 135.3,244.5 144.1,246.5 144.7,250.5 139.3,253.2 132.6,251.9" fill="#FFA826" stroke="#FFA826" stroke-width="0.3"/>
<path d="M127.2 245.8L135.3 244.5M135.3 244.5L144.1 246.5M144.1 246.5L144.7 250.5M144.7 250.5L139.3 253.2M139.3 253.2L132.6 251.9M132.6 251.9L127.2 245.8" fill="none" stroke="#3b1f1a" stroke-width="0.65" stroke-linecap="round"/>
<polygon points="158.2,260.5 160.9,255.3 168.4,255.3 170.4,260.5" fill="#FFA826" stroke="#FFA826" stroke-width="0.3"/>
<path d="M158.2 260.5L160.9 255.3M168.4 255.3L170.4 260.5" fill="none" stroke="#3b1f1a" stroke-width="0.65" stroke-linecap="round"/>
<polygon points="211.6,241.1 215.5,241.1 215.5,253.2 212.3,251.9" fill="#FFA826" stroke="#FFA826" stroke-width="0.3"/>
<path d="M215.5 253.2L212.3 251.9M212.3 251.9L211.6 241.1" fill="none" stroke="#3b1f1a" stroke-width="0.65" stroke-linecap="round"/>
<polygon points="127.8,185.0 133.9,181.6 144.1,181.6 145.4,183.6 142.7,187.7 144.1,193.8 142.7,196.5 136.6,191.8 131.2,191.8 127.8,189.1" fill="#A00000" stroke="#A00000" stroke-width="0.3"/>
<path d="M127.8 185.0L133.9 181.6M144.1 181.6L145.4 183.6M145.4 183.6L142.7 187.7M142.7 187.7L144.1 193.8M144.1 193.8L142.7 196.5M142.7 196.5L136.6 191.8M131.2 191.8L127.8 189.1" fill="none" stroke="#3b1f1a" stroke-width="0.65" stroke-linecap="round"/>
<polygon points="148.8,180.3 152.2,171.5 155.5,172.8 159.6,174.2 167.7,177.6 171.8,183.6 172.4,189.1 169.1,191.8 167.0,195.1 162.3,198.5 159.6,196.5 160.3,192.4 155.5,189.1 154.2,184.3 150.1,182.3" fill="#A00000" stroke="#A00000" stroke-width="0.3"/>
<path d="M148.8 180.3L152.2 171.5M152.2 171.5L155.5 172.8M155.5 172.8L159.6 174.2M159.6 174.2L167.7 177.6M167.7 177.6L171.8 183.6M171.8 183.6L172.4 189.1M172.4 189.1L169.1 191.8M169.1 191.8L167.0 195.1M167.0 195.1L162.3 198.5M162.3 198.5L159.6 196.5M159.6 196.5L160.3 192.4M160.3 192.4L155.5 189.1M155.5 189.1L154.2 184.3M154.2 184.3L150.1 182.3M150.1 182.3L148.8 180.3" fill="none" stroke="#3b1f1a" stroke-width="0.65" stroke-linecap="round"/>
<polygon points="179.9,191.8 185.3,191.1 184.6,197.8 181.9,199.2 179.9,195.8" fill="#A00000" stroke="#A00000" stroke-width="0.3"/>
<path d="M179.9 191.8L185.3 191.1M185.3 191.1L184.6 197.8M184.6 197.8L181.9 199.2M181.9 199.2L179.9 195.8" fill="none" stroke="#3b1f1a" stroke-width="0.65" stroke-linecap="round"/>
<polygon points="140.0,211.4 145.4,210.0 147.4,214.1 145.4,218.8 140.7,219.5 138.6,216.1" fill="#A00000" stroke="#A00000" stroke-width="0.3"/>
<path d="M140.0 211.4L145.4 210.0M145.4 210.0L147.4 214.1M147.4 214.1L145.4 218.8M145.4 218.8L140.7 219.5M140.7 219.5L138.6 216.1M138.6 216.1L140.0 211.4" fill="none" stroke="#3b1f1a" stroke-width="0.65" stroke-linecap="round"/>
<polygon points="129.2,216.8 132.6,216.1 135.3,218.1 136.6,219.5 135.3,221.5 131.2,222.2 129.2,220.1" fill="#A00000" stroke="#A00000" stroke-width="0.3"/>
<path d="M129.2 216.8L132.6 216.1M132.6 216.1L135.3 218.1M135.3 218.1L136.6 219.5M136.6 219.5L135.3 221.5M135.3 221.5L131.2 222.2M131.2 222.2L129.2 220.1" fill="none" stroke="#3b1f1a" stroke-width="0.65" stroke-linecap="round"/>
<polygon points="114.5,218.1 119.1,220.1 122.4,226.2 123.1,233.0 125.1,238.4 120.4,239.7 114.5,239.7" fill="#A00000" stroke="#A00000" stroke-width="0.3"/>
<path d="M114.5 218.1L119.1 220.1M119.1 220.1L122.4 226.2M122.4 226.2L123.1 233.0M123.1 233.0L125.1 238.4M125.1 238.4L120.4 239.7" fill="none" stroke="#3b1f1a" stroke-width="0.65" stroke-linecap="round"/>
<polygon points="133.2,230.3 137.3,228.2 146.1,227.6 151.5,228.9 147.4,232.3 145.4,238.4 135.3,239.1 133.2,234.3" fill="#A00000" stroke="#A00000" stroke-width="0.3"/>
<path d="M133.2 230.3L137.3 228.2M137.3 228.2L146.1 227.6M146.1 227.6L151.5 228.9M151.5 228.9L147.4 232.3M147.4 232.3L145.4 238.4M145.4 238.4L135.3 239.1M135.3 239.1L133.2 234.3" fill="none" stroke="#3b1f1a" stroke-width="0.65" stroke-linecap="round"/>
<polygon points="162.3,212.7 167.0,211.4 171.8,214.1 174.5,219.5 175.1,224.9 173.1,230.3 169.1,231.6 165.0,230.3 163.0,226.2 167.0,223.5 169.1,219.5 166.4,216.1 163.0,215.4" fill="#A00000" stroke="#A00000" stroke-width="0.3"/>
<path d="M162.3 212.7L167.0 211.4M167.0 211.4L171.8 214.1M171.8 214.1L174.5 219.5M174.5 219.5L175.1 224.9M175.1 224.9L173.1 230.3M173.1 230.3L169.1 231.6M169.1 231.6L165.0 230.3M165.0 230.3L163.0 226.2M163.0 226.2L167.0 223.5M167.0 223.5L169.1 219.5M169.1 219.5L166.4 216.1M166.4 216.1L163.0 215.4M163.0 215.4L162.3 212.7" fill="none" stroke="#3b1f1a" stroke-width="0.65" stroke-linecap="round"/>
<polygon points="194.7,212.0 201.5,212.0 203.5,216.8 201.5,222.2 204.9,224.9 201.5,228.9 196.1,233.0 196.8,237.7 192.0,239.7 185.3,241.1 179.9,243.8 176.5,246.5 169.1,246.5 166.4,242.4 163.0,241.1 165.7,237.7 169.1,233.6 174.5,231.6 182.6,230.9 185.3,227.6 188.6,223.5 188.0,219.5 192.0,216.1" fill="#A00000" stroke="#A00000" stroke-width="0.3"/>
<path d="M201.5 212.0L203.5 216.8M203.5 216.8L201.5 222.2M201.5 222.2L204.9 224.9M204.9 224.9L201.5 228.9M201.5 228.9L196.1 233.0M196.1 233.0L196.8 237.7M196.8 237.7L192.0 239.7M192.0 239.7L185.3 241.1M185.3 241.1L179.9 243.8M179.9 243.8L176.5 246.5M169.1 246.5L166.4 242.4M166.4 242.4L163.0 241.1M163.0 241.1L165.7 237.7M165.7 237.7L169.1 233.6M169.1 233.6L174.5 231.6M174.5 231.6L182.6 230.9M182.6 230.9L185.3 227.6M185.3 227.6L188.6 223.5M188.6 223.5L188.0 219.5M188.0 219.5L192.0 216.1M192.0 216.1L194.7 212.0" fill="none" stroke="#3b1f1a" stroke-width="0.65" stroke-linecap="round"/>
<polygon points="114.5,239.5 120.4,239.5 125.1,246.5 129.9,250.5 135.3,253.2 133.9,260.5 114.5,260.5" fill="#A00000" stroke="#A00000" stroke-width="0.3"/>
<path d="M120.4 239.5L125.1 246.5M125.1 246.5L129.9 250.5M129.9 250.5L135.3 253.2M135.3 253.2L133.9 260.5" fill="none" stroke="#3b1f1a" stroke-width="0.65" stroke-linecap="round"/>
<polygon points="213.0,190.4 215.5,189.7 215.5,198.5 213.0,197.8" fill="#A00000" stroke="#A00000" stroke-width="0.3"/>
<path d="M213.0 190.4L215.5 189.7M215.5 198.5L213.0 197.8" fill="none" stroke="#3b1f1a" stroke-width="0.65" stroke-linecap="round"/>
<polygon points="215.0,140.0 315.0,140.0 315.0,240.0 215.0,240.0" fill="#FFA826" stroke="#FFA826" stroke-width="0.3"/>
<polygon points="269.1,177.8 273.1,174.5 277.2,175.8 276.5,180.5 271.1,181.9" fill="#3F9DB8" stroke="#3F9DB8" stroke-width="0.3"/>
<path d="M269.1 177.8L273.1 174.5M273.1 174.5L277.2 175.8M277.2 175.8L276.5 180.5M276.5 180.5L271.1 181.9M271.1 181.9L269.1 177.8" fill="none" stroke="#3b1f1a" stroke-width="0.65" stroke-linecap="round"/>
<polygon points="276.5,173.1 285.3,171.8 285.3,176.5 281.9,179.2 277.2,177.2" fill="#3F9DB8" stroke="#3F9DB8" stroke-width="0.3"/>
<path d="M276.5 173.1L285.3 171.8M285.3 176.5L281.9 179.2M281.9 179.2L277.2 177.2M277.2 177.2L276.5 173.1" fill="none" stroke="#3b1f1a" stroke-width="0.65" stroke-linecap="round"/>
<polygon points="288.0,180.5 290.7,177.8 296.8,180.5 298.1,187.3 296.1,192.0 290.7,190.7 288.0,186.6" fill="#3F9DB8" stroke="#3F9DB8" stroke-width="0.3"/>
<path d="M288.0 180.5L290.7 177.8M290.7 177.8L296.8 180.5M296.8 180.5L298.1 187.3M298.1 187.3L296.1 192.0M296.1 192.0L290.7 190.7M290.7 190.7L288.0 186.6" fill="none" stroke="#3b1f1a" stroke-width="0.65" stroke-linecap="round"/>
<polygon points="247.4,195.4 255.5,193.4 258.2,196.8 256.2,200.8 248.1,200.8" fill="#3F9DB8" stroke="#3F9DB8" stroke-width="0.3"/>
<path d="M247.4 195.4L255.5 193.4M255.5 193.4L258.2 196.8M258.2 196.8L256.2 200.8M248.1 200.8L247.4 195.4" fill="none" stroke="#3b1f1a" stroke-width="0.65" stroke-linecap="round"/>
<polygon points="242.0,205.5 246.1,204.9 252.8,208.2 253.5,211.6 247.4,212.3 242.7,209.6" fill="#3F9DB8" stroke="#3F9DB8" stroke-width="0.3"/>
<path d="M242.0 205.5L246.1 204.9M246.1 204.9L252.8 208.2M252.8 208.2L253.5 211.6M253.5 211.6L247.4 212.3M247.4 212.3L242.7 209.6M242.7 209.6L242.0 205.5" fill="none" stroke="#3b1f1a" stroke-width="0.65" stroke-linecap="round"/>
<polygon points="227.8,194.1 231.2,193.4 231.2,196.8 228.5,196.8" fill="#3F9DB8" stroke="#3F9DB8" stroke-width="0.3"/>
<path d="M227.8 194.1L231.2 193.4M228.5 196.8L227.8 194.1" fill="none" stroke="#3b1f1a" stroke-width="0.65" stroke-linecap="round"/>
<polygon points="231.2,203.5 235.9,202.8 237.3,206.2 233.2,206.9" fill="#3F9DB8" stroke="#3F9DB8" stroke-width="0.3"/>
<path d="M231.2 203.5L235.9 202.8M235.9 202.8L237.3 206.2M237.3 206.2L233.2 206.9M233.2 206.9L231.2 203.5" fill="none" stroke="#3b1f1a" stroke-width="0.65" stroke-linecap="round"/>
<polygon points="214.5,207.6 218.4,208.9 220.4,213.0 214.5,215.7" fill="#3F9DB8" stroke="#3F9DB8" stroke-width="0.3"/>
<path d="M214.5 207.6L218.4 208.9M218.4 208.9L220.4 213.0M220.4 213.0L214.5 215.7" fill="none" stroke="#3b1f1a" stroke-width="0.65" stroke-linecap="round"/>
<polygon points="222.4,218.4 228.5,217.0 232.6,221.1 231.9,224.5 228.5,223.8 224.5,220.4" fill="#3F9DB8" stroke="#3F9DB8" stroke-width="0.3"/>
<path d="M222.4 218.4L228.5 217.0M228.5 217.0L232.6 221.1M232.6 221.1L231.9 224.5M231.9 224.5L228.5 223.8M228.5 223.8L224.5 220.4M224.5 220.4L222.4 218.4" fill="none" stroke="#3b1f1a" stroke-width="0.65" stroke-linecap="round"/>
<polygon points="236.6,227.8 242.7,226.5 246.8,226.5 250.1,229.2 249.5,233.2 244.7,234.6 239.3,233.2" fill="#3F9DB8" stroke="#3F9DB8" stroke-width="0.3"/>
<path d="M236.6 227.8L242.7 226.5M246.8 226.5L250.1 229.2M250.1 229.2L249.5 233.2M249.5 233.2L244.7 234.6M244.7 234.6L239.3 233.2M239.3 233.2L236.6 227.8" fill="none" stroke="#3b1f1a" stroke-width="0.65" stroke-linecap="round"/>
<polygon points="258.2,229.2 263.6,226.5 269.1,225.1 269.7,231.9 268.4,233.2 260.9,235.9 257.6,233.2" fill="#3F9DB8" stroke="#3F9DB8" stroke-width="0.3"/>
<path d="M258.2 229.2L263.6 226.5M263.6 226.5L269.1 225.1M269.1 225.1L269.7 231.9M269.7 231.9L268.4 233.2M268.4 233.2L260.9 235.9M260.9 235.9L257.6 233.2M257.6 233.2L258.2 229.2" fill="none" stroke="#3b1f1a" stroke-width="0.65" stroke-linecap="round"/>
<polygon points="279.9,237.3 285.3,234.6 290.0,234.6 289.3,240.5 279.9,240.5" fill="#3F9DB8" stroke="#3F9DB8" stroke-width="0.3"/>
<path d="M279.9 237.3L285.3 234.6M290.0 234.6L289.3 240.5" fill="none" stroke="#3b1f1a" stroke-width="0.65" stroke-linecap="round"/>
<polygon points="242.0,237.3 246.8,235.3 247.4,240.5 242.7,240.5" fill="#3F9DB8" stroke="#3F9DB8" stroke-width="0.3"/>
<path d="M242.0 237.3L246.8 235.3M246.8 235.3L247.4 240.5M242.7 240.5L242.0 237.3" fill="none" stroke="#3b1f1a" stroke-width="0.65" stroke-linecap="round"/>
<polygon points="214.5,190.7 219.1,188.0 224.5,184.6 227.8,187.3 229.2,192.7 227.2,195.4 231.2,199.5 228.5,202.2 220.4,203.5 216.4,200.8 214.5,199.5" fill="#A00000" stroke="#A00000" stroke-width="0.3"/>
<path d="M214.5 190.7L219.1 188.0M219.1 188.0L224.5 184.6M224.5 184.6L227.8 187.3M227.8 187.3L229.2 192.7M229.2 192.7L227.2 195.4M227.2 195.4L231.2 199.5M231.2 199.5L228.5 202.2M228.5 202.2L220.4 203.5M220.4 203.5L216.4 200.8M216.4 200.8L214.5 199.5" fill="none" stroke="#3b1f1a" stroke-width="0.65" stroke-linecap="round"/>
<polygon points="237.3,186.6 240.7,186.6 245.4,185.3 245.4,191.4 243.4,194.1 237.3,192.7" fill="#A00000" stroke="#A00000" stroke-width="0.3"/>
<path d="M240.7 186.6L245.4 185.3M245.4 191.4L243.4 194.1M243.4 194.1L237.3 192.7" fill="none" stroke="#3b1f1a" stroke-width="0.65" stroke-linecap="round"/>
<polygon points="247.4,179.2 248.8,173.8 252.2,171.1 255.5,171.8 253.5,175.8 250.8,179.2" fill="#A00000" stroke="#A00000" stroke-width="0.3"/>
<path d="M247.4 179.2L248.8 173.8M248.8 173.8L252.2 171.1M252.2 171.1L255.5 171.8M255.5 171.8L253.5 175.8M253.5 175.8L250.8 179.2" fill="none" stroke="#3b1f1a" stroke-width="0.65" stroke-linecap="round"/>
<polygon points="268.4,160.3 271.8,155.5 276.5,153.5 288.0,154.9 288.6,160.3 286.6,167.0 285.9,171.8 277.2,172.4 274.5,169.1 270.4,166.4" fill="#A00000" stroke="#A00000" stroke-width="0.3"/>
<path d="M268.4 160.3L271.8 155.5M271.8 155.5L276.5 153.5M276.5 153.5L288.0 154.9M288.0 154.9L288.6 160.3M288.6 160.3L286.6 167.0M286.6 167.0L285.9 171.8M285.9 171.8L277.2 172.4M277.2 172.4L274.5 169.1M274.5 169.1L270.4 166.4M270.4 166.4L268.4 160.3" fill="none" stroke="#3b1f1a" stroke-width="0.65" stroke-linecap="round"/>
<polygon points="288.6,160.3 294.1,158.9 303.5,158.2 304.2,164.3 302.2,173.8 300.8,181.9 302.2,190.0 304.2,198.1 305.5,204.9 301.5,204.2 296.1,202.2 290.7,199.5 289.3,192.7 296.1,192.0 298.1,187.3 296.8,180.5 290.7,177.8 287.3,180.5 285.3,184.6 281.2,185.9 281.9,180.5 285.3,176.5 286.6,167.0" fill="#A00000" stroke="#A00000" stroke-width="0.3"/>
<path d="M288.6 160.3L294.1 158.9M294.1 158.9L303.5 158.2M303.5 158.2L304.2 164.3M304.2 164.3L302.2 173.8M302.2 173.8L300.8 181.9M300.8 181.9L302.2 190.0M302.2 190.0L304.2 198.1M304.2 198.1L305.5 204.9M305.5 204.9L301.5 204.2M301.5 204.2L296.1 202.2M296.1 202.2L290.7 199.5M290.7 199.5L289.3 192.7M289.3 192.7L296.1 192.0M296.1 192.0L298.1 187.3M298.1 187.3L296.8 180.5M296.8 180.5L290.7 177.8M290.7 177.8L287.3 180.5M287.3 180.5L285.3 184.6M285.3 184.6L281.2 185.9M281.2 185.9L281.9 180.5M281.9 180.5L285.3 176.5M285.3 176.5L286.6 167.0M286.6 167.0L288.6 160.3" fill="none" stroke="#3b1f1a" stroke-width="0.65" stroke-linecap="round"/>
<polygon points="263.6,172.4 269.1,171.8 270.4,176.5 268.4,180.5 267.7,184.6 264.3,184.6" fill="#A00000" stroke="#A00000" stroke-width="0.3"/>
<path d="M263.6 172.4L269.1 171.8M269.1 171.8L270.4 176.5M270.4 176.5L268.4 180.5M268.4 180.5L267.7 184.6M264.3 184.6L263.6 172.4" fill="none" stroke="#3b1f1a" stroke-width="0.65" stroke-linecap="round"/>
<polygon points="268.4,183.2 274.5,181.9 278.5,185.9 279.9,194.1 275.8,196.1 271.1,191.4 267.7,188.6" fill="#A00000" stroke="#A00000" stroke-width="0.3"/>
<path d="M268.4 183.2L274.5 181.9M274.5 181.9L278.5 185.9M278.5 185.9L279.9 194.1M279.9 194.1L275.8 196.1M275.8 196.1L271.1 191.4M271.1 191.4L267.7 188.6M267.7 188.6L268.4 183.2" fill="none" stroke="#3b1f1a" stroke-width="0.65" stroke-linecap="round"/>
<polygon points="258.2,192.7 263.0,191.4 267.0,190.7 270.4,196.8 268.4,200.8 263.6,202.8 261.6,199.5 258.2,196.8" fill="#A00000" stroke="#A00000" stroke-width="0.3"/>
<path d="M258.2 192.7L263.0 191.4M263.0 191.4L267.0 190.7M267.0 190.7L270.4 196.8M270.4 196.8L268.4 200.8M268.4 200.8L263.6 202.8M263.6 202.8L261.6 199.5M261.6 199.5L258.2 196.8" fill="none" stroke="#3b1f1a" stroke-width="0.65" stroke-linecap="round"/>
<polygon points="279.9,202.2 288.0,201.5 292.0,206.2 290.0,211.6 282.6,214.3 278.5,210.3" fill="#A00000" stroke="#A00000" stroke-width="0.3"/>
<path d="M279.9 202.2L288.0 201.5M288.0 201.5L292.0 206.2M292.0 206.2L290.0 211.6M290.0 211.6L282.6 214.3M282.6 214.3L278.5 210.3M278.5 210.3L279.9 202.2" fill="none" stroke="#3b1f1a" stroke-width="0.65" stroke-linecap="round"/>
<polygon points="242.0,218.4 246.8,217.0 248.1,221.1 246.8,226.5 242.7,226.5" fill="#A00000" stroke="#A00000" stroke-width="0.3"/>
<path d="M242.0 218.4L246.8 217.0M246.8 217.0L248.1 221.1M248.1 221.1L246.8 226.5M242.7 226.5L242.0 218.4" fill="none" stroke="#3b1f1a" stroke-width="0.65" stroke-linecap="round"/>
<polygon points="218.4,223.1 224.5,220.4 228.5,223.8 227.8,230.5 223.1,233.2 217.7,231.9 216.4,227.2" fill="#A00000" stroke="#A00000" stroke-width="0.3"/>
<path d="M218.4 223.1L224.5 220.4M224.5 220.4L228.5 223.8M228.5 223.8L227.8 230.5M227.8 230.5L223.1 233.2M223.1 233.2L217.7 231.9M217.7 231.9L216.4 227.2M216.4 227.2L218.4 223.1" fill="none" stroke="#3b1f1a" stroke-width="0.65" stroke-linecap="round"/>
<polygon points="268.4,233.2 273.1,231.2 277.2,233.2 277.8,240.5 269.1,240.5" fill="#A00000" stroke="#A00000" stroke-width="0.3"/>
<path d="M268.4 233.2L273.1 231.2M273.1 231.2L277.2 233.2M277.2 233.2L277.8 240.5M269.1 240.5L268.4 233.2" fill="none" stroke="#3b1f1a" stroke-width="0.65" stroke-linecap="round"/>
<polygon points="294.7,235.3 302.8,234.6 304.2,240.5 295.4,240.5" fill="#A00000" stroke="#A00000" stroke-width="0.3"/>
<path d="M294.7 235.3L302.8 234.6M302.8 234.6L304.2 240.5M295.4 240.5L294.7 235.3" fill="none" stroke="#3b1f1a" stroke-width="0.65" stroke-linecap="round"/>
<polygon points="215.0,240.0 315.0,240.0 315.0,340.0 215.0,340.0" fill="#FFA826" stroke="#FFA826" stroke-width="0.3"/>
<polygon points="214.5,252.8 223.1,252.2 229.9,254.2 235.3,256.9 240.0,252.8 242.7,247.4 240.7,243.4 242.7,239.5 248.1,239.5 246.8,245.4 248.8,248.1 246.8,254.9 245.4,260.3 238.0,261.6 235.3,263.0 228.5,262.3 221.8,263.0 214.5,261.6" fill="#3F9DB8" stroke="#3F9DB8" stroke-width="0.3"/>
<path d="M214.5 252.8L223.1 252.2M223.1 252.2L229.9 254.2M229.9 254.2L235.3 256.9M235.3 256.9L240.0 252.8M240.0 252.8L242.7 247.4M242.7 247.4L240.7 243.4M240.7 243.4L242.7 239.5M248.1 239.5L246.8 245.4M246.8 245.4L248.8 248.1M248.8 248.1L246.8 254.9M246.8 254.9L245.4 260.3M245.4 260.3L238.0 261.6M238.0 261.6L235.3 263.0M235.3 263.0L228.5 262.3M228.5 262.3L221.8 263.0M221.8 263.0L214.5 261.6" fill="none" stroke="#3b1f1a" stroke-width="0.65" stroke-linecap="round"/>
<polygon points="255.5,248.1 261.6,242.7 266.4,239.5 305.5,239.5 304.9,244.1 301.5,249.5 298.1,253.5 296.1,256.2 292.0,260.9 290.0,266.4 290.7,271.1 293.4,273.8 290.7,279.2 286.6,283.2 282.6,285.3 277.2,284.6 270.4,283.2 265.0,281.9 260.9,284.6 260.3,280.5 261.6,274.5 259.6,271.8 254.2,274.5 252.2,271.1 250.8,267.0 252.8,261.6 254.9,262.3 259.6,257.6 262.3,253.5 258.2,252.2 255.5,253.5" fill="#3F9DB8" stroke="#3F9DB8" stroke-width="0.3"/>
<path d="M255.5 248.1L261.6 242.7M261.6 242.7L266.4 239.5M305.5 239.5L304.9 244.1M304.9 244.1L301.5 249.5M301.5 249.5L298.1 253.5M298.1 253.5L296.1 256.2M296.1 256.2L292.0 260.9M292.0 260.9L290.0 266.4M290.0 266.4L290.7 271.1M290.7 271.1L293.4 273.8M293.4 273.8L290.7 279.2M290.7 279.2L286.6 283.2M286.6 283.2L282.6 285.3M282.6 285.3L277.2 284.6M277.2 284.6L270.4 283.2M270.4 283.2L265.0 281.9M265.0 281.9L260.9 284.6M260.9 284.6L260.3 280.5M260.3 280.5L261.6 274.5M261.6 274.5L259.6 271.8M259.6 271.8L254.2 274.5M254.2 274.5L252.2 271.1M252.2 271.1L250.8 267.0M250.8 267.0L252.8 261.6M252.8 261.6L254.9 262.3M254.9 262.3L259.6 257.6M259.6 257.6L262.3 253.5M262.3 253.5L258.2 252.2M258.2 252.2L255.5 253.5" fill="none" stroke="#3b1f1a" stroke-width="0.65" stroke-linecap="round"/>
<polygon points="220.4,271.1 222.4,265.0 232.6,265.0 236.6,261.6 245.4,260.3 250.8,267.0 252.2,271.1 250.1,277.8 247.4,283.2 248.8,285.3 247.4,294.1 242.0,294.1 238.0,290.0 232.6,284.6 228.5,280.5 223.1,279.2 220.4,276.5" fill="#3F9DB8" stroke="#3F9DB8" stroke-width="0.3"/>
<path d="M220.4 271.1L222.4 265.0M232.6 265.0L236.6 261.6M236.6 261.6L245.4 260.3M245.4 260.3L250.8 267.0M250.8 267.0L252.2 271.1M252.2 271.1L250.1 277.8M250.1 277.8L247.4 283.2M247.4 283.2L248.8 285.3M248.8 285.3L247.4 294.1M242.0 294.1L238.0 290.0M238.0 290.0L232.6 284.6M232.6 284.6L228.5 280.5M228.5 280.5L223.1 279.2M223.1 279.2L220.4 276.5" fill="none" stroke="#3b1f1a" stroke-width="0.65" stroke-linecap="round"/>
<polygon points="242.0,294.1 247.4,294.1 251.5,295.4 259.6,294.1 262.3,292.7 267.0,294.1 268.4,299.5 271.1,303.5 268.4,307.6 263.0,310.3 259.6,313.0 254.2,317.0 250.1,318.4 246.1,315.7 242.0,319.7 238.0,317.0 240.7,311.6 246.1,310.3 248.8,304.9 246.1,299.5" fill="#3F9DB8" stroke="#3F9DB8" stroke-width="0.3"/>
<path d="M247.4 294.1L251.5 295.4M251.5 295.4L259.6 294.1M259.6 294.1L262.3 292.7M262.3 292.7L267.0 294.1M267.0 294.1L268.4 299.5M268.4 299.5L271.1 303.5M271.1 303.5L268.4 307.6M268.4 307.6L263.0 310.3M263.0 310.3L259.6 313.0M259.6 313.0L254.2 317.0M254.2 317.0L250.1 318.4M250.1 318.4L246.1 315.7M246.1 315.7L242.0 319.7M242.0 319.7L238.0 317.0M238.0 317.0L240.7 311.6M240.7 311.6L246.1 310.3M246.1 310.3L248.8 304.9M248.8 304.9L246.1 299.5M246.1 299.5L242.0 294.1" fill="none" stroke="#3b1f1a" stroke-width="0.65" stroke-linecap="round"/>
<polygon points="217.7,278.5 223.1,279.2 227.2,281.9 225.8,285.9 219.1,285.3" fill="#3F9DB8" stroke="#3F9DB8" stroke-width="0.3"/>
<path d="M217.7 278.5L223.1 279.2M223.1 279.2L227.2 281.9M227.2 281.9L225.8 285.9M225.8 285.9L219.1 285.3M219.1 285.3L217.7 278.5" fill="none" stroke="#3b1f1a" stroke-width="0.65" stroke-linecap="round"/>
<polygon points="217.7,327.8 223.1,326.5 225.1,333.2 223.1,340.5 217.0,340.5" fill="#3F9DB8" stroke="#3F9DB8" stroke-width="0.3"/>
<path d="M217.7 327.8L223.1 326.5M223.1 326.5L225.1 333.2M225.1 333.2L223.1 340.5M217.0 340.5L217.7 327.8" fill="none" stroke="#3b1f1a" stroke-width="0.65" stroke-linecap="round"/>
<polygon points="214.5,298.1 219.1,299.5 220.4,303.5 217.7,307.6 214.5,306.9" fill="#3F9DB8" stroke="#3F9DB8" stroke-width="0.3"/>
<path d="M214.5 298.1L219.1 299.5M219.1 299.5L220.4 303.5M220.4 303.5L217.7 307.6M217.7 307.6L214.5 306.9" fill="none" stroke="#3b1f1a" stroke-width="0.65" stroke-linecap="round"/>
<polygon points="225.8,315.7 229.9,313.0 231.9,317.0 228.5,319.7" fill="#3F9DB8" stroke="#3F9DB8" stroke-width="0.3"/>
<path d="M225.8 315.7L229.9 313.0M229.9 313.0L231.9 317.0M231.9 317.0L228.5 319.7M228.5 319.7L225.8 315.7" fill="none" stroke="#3b1f1a" stroke-width="0.65" stroke-linecap="round"/>
<polygon points="248.8,248.1 253.5,246.8 256.9,250.1 255.5,254.2 250.8,254.9" fill="#FFA826" stroke="#FFA826" stroke-width="0.3"/>
<path d="M248.8 248.1L253.5 246.8M253.5 246.8L256.9 250.1M256.9 250.1L255.5 254.2M255.5 254.2L250.8 254.9M250.8 254.9L248.8 248.1" fill="none" stroke="#3b1f1a" stroke-width="0.65" stroke-linecap="round"/>
<polygon points="279.2,248.1 282.6,244.1 290.0,244.7 290.7,252.2 288.0,258.2 281.2,258.9 278.5,253.5" fill="#FFA826" stroke="#FFA826" stroke-width="0.3"/>
<path d="M279.2 248.1L282.6 244.1M282.6 244.1L290.0 244.7M290.0 244.7L290.7 252.2M290.7 252.2L288.0 258.2M288.0 258.2L281.2 258.9M281.2 258.9L278.5 253.5M278.5 253.5L279.2 248.1" fill="none" stroke="#3b1f1a" stroke-width="0.65" stroke-linecap="round"/>
<polygon points="294.7,243.4 300.8,242.7 301.5,247.4 296.1,248.8" fill="#FFA826" stroke="#FFA826" stroke-width="0.3"/>
<path d="M294.7 243.4L300.8 242.7M300.8 242.7L301.5 247.4M301.5 247.4L296.1 248.8M296.1 248.8L294.7 243.4" fill="none" stroke="#3b1f1a" stroke-width="0.65" stroke-linecap="round"/>
<polygon points="235.3,273.8 242.0,272.4 247.4,274.5 246.8,279.9 239.3,281.2 235.3,278.5" fill="#FFA826" stroke="#FFA826" stroke-width="0.3"/>
<path d="M235.3 273.8L242.0 272.4M242.0 272.4L247.4 274.5M247.4 274.5L246.8 279.9M246.8 279.9L239.3 281.2M239.3 281.2L235.3 278.5" fill="none" stroke="#3b1f1a" stroke-width="0.65" stroke-linecap="round"/>
<polygon points="246.1,256.9 250.8,256.2 251.5,262.3 247.4,263.0" fill="#FFA826" stroke="#FFA826" stroke-width="0.3"/>
<path d="M246.1 256.9L250.8 256.2M250.8 256.2L251.5 262.3M251.5 262.3L247.4 263.0M247.4 263.0L246.1 256.9" fill="none" stroke="#3b1f1a" stroke-width="0.65" stroke-linecap="round"/>
<polygon points="251.5,284.6 255.5,281.9 260.9,284.6 261.6,292.7 255.5,294.1 250.8,293.4" fill="#FFA826" stroke="#FFA826" stroke-width="0.3"/>
<path d="M251.5 284.6L255.5 281.9M255.5 281.9L260.9 284.6M260.9 284.6L261.6 292.7M261.6 292.7L255.5 294.1M255.5 294.1L250.8 293.4M250.8 293.4L251.5 284.6" fill="none" stroke="#3b1f1a" stroke-width="0.65" stroke-linecap="round"/>
<polygon points="254.2,298.1 259.6,296.8 262.3,300.8 258.2,303.5 254.2,302.2" fill="#FFA826" stroke="#FFA826" stroke-width="0.3"/>
<path d="M254.2 298.1L259.6 296.8M259.6 296.8L262.3 300.8M262.3 300.8L258.2 303.5M258.2 303.5L254.2 302.2" fill="none" stroke="#3b1f1a" stroke-width="0.65" stroke-linecap="round"/>
<polygon points="259.6,306.2 264.3,304.9 265.0,308.9 260.9,310.3" fill="#FFA826" stroke="#FFA826" stroke-width="0.3"/>
<path d="M259.6 306.2L264.3 304.9M264.3 304.9L265.0 308.9M265.0 308.9L260.9 310.3M260.9 310.3L259.6 306.2" fill="none" stroke="#3b1f1a" stroke-width="0.65" stroke-linecap="round"/>
<polygon points="261.6,242.7 266.4,239.5 274.5,239.5 275.8,245.4 271.8,249.5 267.0,250.8 262.3,253.5 259.6,257.6 254.9,262.3 252.2,260.3 254.2,255.5 258.2,252.2 262.3,248.1" fill="#A00000" stroke="#A00000" stroke-width="0.3"/>
<path d="M261.6 242.7L266.4 239.5M274.5 239.5L275.8 245.4M275.8 245.4L271.8 249.5M271.8 249.5L267.0 250.8M267.0 250.8L262.3 253.5M262.3 253.5L259.6 257.6M259.6 257.6L254.9 262.3M254.9 262.3L252.2 260.3M252.2 260.3L254.2 255.5M254.2 255.5L258.2 252.2M258.2 252.2L262.3 248.1M262.3 248.1L261.6 242.7" fill="none" stroke="#3b1f1a" stroke-width="0.65" stroke-linecap="round"/>
<polygon points="222.4,265.0 227.2,263.0 232.6,265.0 230.5,268.4 227.2,269.1 224.5,273.8 221.8,270.4" fill="#A00000" stroke="#A00000" stroke-width="0.3"/>
<path d="M222.4 265.0L227.2 263.0M227.2 263.0L232.6 265.0M232.6 265.0L230.5 268.4M230.5 268.4L227.2 269.1M227.2 269.1L224.5 273.8M224.5 273.8L221.8 270.4M221.8 270.4L222.4 265.0" fill="none" stroke="#3b1f1a" stroke-width="0.65" stroke-linecap="round"/>
<polygon points="247.4,283.2 250.1,277.8 254.2,274.5 259.6,271.8 261.6,274.5 259.6,279.2 255.5,280.5 251.5,283.9 248.8,285.3" fill="#A00000" stroke="#A00000" stroke-width="0.3"/>
<path d="M247.4 283.2L250.1 277.8M250.1 277.8L254.2 274.5M254.2 274.5L259.6 271.8M259.6 271.8L261.6 274.5M261.6 274.5L259.6 279.2M259.6 279.2L255.5 280.5M255.5 280.5L251.5 283.9M251.5 283.9L248.8 285.3M248.8 285.3L247.4 283.2" fill="none" stroke="#3b1f1a" stroke-width="0.65" stroke-linecap="round"/>
<polygon points="219.1,294.1 223.1,293.4 224.5,295.4 220.4,296.1" fill="#A00000" stroke="#A00000" stroke-width="0.3"/>
<path d="M219.1 294.1L223.1 293.4M223.1 293.4L224.5 295.4M224.5 295.4L220.4 296.1M220.4 296.1L219.1 294.1" fill="none" stroke="#3b1f1a" stroke-width="0.65" stroke-linecap="round"/>
<polygon points="216.4,315.7 220.4,310.3 225.1,308.2 225.8,310.3 221.8,315.0 219.1,319.1 216.4,318.4" fill="#A00000" stroke="#A00000" stroke-width="0.3"/>
<path d="M216.4 315.7L220.4 310.3M220.4 310.3L225.1 308.2M225.1 308.2L225.8 310.3M225.8 310.3L221.8 315.0M221.8 315.0L219.1 319.1M219.1 319.1L216.4 318.4" fill="none" stroke="#3b1f1a" stroke-width="0.65" stroke-linecap="round"/>
<polygon points="293.4,239.5 300.1,239.5 298.8,242.7 294.7,242.0" fill="#A00000" stroke="#A00000" stroke-width="0.3"/>
<path d="M300.1 239.5L298.8 242.7M298.8 242.7L294.7 242.0M294.7 242.0L293.4 239.5" fill="none" stroke="#3b1f1a" stroke-width="0.65" stroke-linecap="round"/>
<polygon points="115.0,260.0 215.0,260.0 215.0,360.0 115.0,360.0" fill="#FFA826" stroke="#FFA826" stroke-width="0.3"/>
<polygon points="120.4,263.4 128.5,262.0 131.2,259.5 146.1,259.5 148.1,264.1 146.8,268.1 150.1,273.5 147.4,276.9 144.1,272.8 137.3,272.8 131.2,270.1 123.1,272.8 120.4,268.1" fill="#3F9DB8" stroke="#3F9DB8" stroke-width="0.3"/>
<path d="M120.4 263.4L128.5 262.0M128.5 262.0L131.2 259.5M146.1 259.5L148.1 264.1M148.1 264.1L146.8 268.1M146.8 268.1L150.1 273.5M150.1 273.5L147.4 276.9M147.4 276.9L144.1 272.8M137.3 272.8L131.2 270.1M131.2 270.1L123.1 272.8M123.1 272.8L120.4 268.1" fill="none" stroke="#3b1f1a" stroke-width="0.65" stroke-linecap="round"/>
<polygon points="150.1,273.5 155.5,274.2 167.7,273.5 173.1,274.2 173.1,278.2 168.4,277.6 169.1,284.3 174.5,289.1 178.5,294.5 179.9,298.5 175.8,299.2 168.4,299.9 165.0,294.5 165.7,290.4 161.6,289.1 158.2,293.8 154.9,296.5 155.5,303.2 150.1,301.9 145.4,298.5 148.8,293.8 145.4,289.1 148.1,283.6 147.4,276.9" fill="#3F9DB8" stroke="#3F9DB8" stroke-width="0.3"/>
<path d="M150.1 273.5L155.5 274.2M155.5 274.2L167.7 273.5M167.7 273.5L173.1 274.2M173.1 278.2L168.4 277.6M168.4 277.6L169.1 284.3M169.1 284.3L174.5 289.1M174.5 289.1L178.5 294.5M178.5 294.5L179.9 298.5M179.9 298.5L175.8 299.2M175.8 299.2L168.4 299.9M168.4 299.9L165.0 294.5M165.0 294.5L165.7 290.4M165.7 290.4L161.6 289.1M161.6 289.1L158.2 293.8M158.2 293.8L154.9 296.5M154.9 296.5L155.5 303.2M155.5 303.2L150.1 301.9M150.1 301.9L145.4 298.5M145.4 298.5L148.8 293.8M148.8 293.8L145.4 289.1M145.4 289.1L148.1 283.6M148.1 283.6L147.4 276.9M147.4 276.9L150.1 273.5" fill="none" stroke="#3b1f1a" stroke-width="0.65" stroke-linecap="round"/>
<polygon points="173.1,274.2 174.5,268.1 178.5,266.8 175.8,259.5 194.7,259.5 193.4,265.4 194.7,271.5 196.1,276.2 192.0,280.3 188.0,285.0 179.9,285.7 174.5,283.6 173.1,278.2" fill="#3F9DB8" stroke="#3F9DB8" stroke-width="0.3"/>
<path d="M173.1 274.2L174.5 268.1M174.5 268.1L178.5 266.8M178.5 266.8L175.8 259.5M194.7 259.5L193.4 265.4M193.4 265.4L194.7 271.5M194.7 271.5L196.1 276.2M196.1 276.2L192.0 280.3M192.0 280.3L188.0 285.0M188.0 285.0L179.9 285.7M179.9 285.7L174.5 283.6M174.5 283.6L173.1 278.2" fill="none" stroke="#3b1f1a" stroke-width="0.65" stroke-linecap="round"/>
<polygon points="114.5,262.7 120.4,263.4 120.4,268.1 114.5,268.8" fill="#3F9DB8" stroke="#3F9DB8" stroke-width="0.3"/>
<path d="M114.5 262.7L120.4 263.4M120.4 268.1L114.5 268.8" fill="none" stroke="#3b1f1a" stroke-width="0.65" stroke-linecap="round"/>
<polygon points="152.8,319.5 156.9,317.4 161.6,320.1 163.0,327.6 159.6,330.9 152.8,330.3 151.5,324.9" fill="#3F9DB8" stroke="#3F9DB8" stroke-width="0.3"/>
<path d="M152.8 319.5L156.9 317.4M156.9 317.4L161.6 320.1M161.6 320.1L163.0 327.6M163.0 327.6L159.6 330.9M159.6 330.9L152.8 330.3M152.8 330.3L151.5 324.9M151.5 324.9L152.8 319.5" fill="none" stroke="#3b1f1a" stroke-width="0.65" stroke-linecap="round"/>
<polygon points="177.2,337.0 183.9,335.7 190.7,333.0 193.4,338.4 192.0,342.4 185.3,345.1 179.9,345.1" fill="#3F9DB8" stroke="#3F9DB8" stroke-width="0.3"/>
<path d="M177.2 337.0L183.9 335.7M183.9 335.7L190.7 333.0M190.7 333.0L193.4 338.4M193.4 338.4L192.0 342.4M192.0 342.4L185.3 345.1M179.9 345.1L177.2 337.0" fill="none" stroke="#3b1f1a" stroke-width="0.65" stroke-linecap="round"/>
<polygon points="204.2,304.6 209.6,302.6 215.5,303.2 215.5,312.7 209.6,312.0 204.9,310.0" fill="#3F9DB8" stroke="#3F9DB8" stroke-width="0.3"/>
<path d="M204.2 304.6L209.6 302.6M209.6 302.6L215.5 303.2M215.5 312.7L209.6 312.0M209.6 312.0L204.9 310.0M204.9 310.0L204.2 304.6" fill="none" stroke="#3b1f1a" stroke-width="0.65" stroke-linecap="round"/>
<polygon points="156.9,353.2 162.3,351.9 165.0,354.6 163.6,360.5 158.2,360.5" fill="#3F9DB8" stroke="#3F9DB8" stroke-width="0.3"/>
<path d="M156.9 353.2L162.3 351.9M162.3 351.9L165.0 354.6M165.0 354.6L163.6 360.5M158.2 360.5L156.9 353.2" fill="none" stroke="#3b1f1a" stroke-width="0.65" stroke-linecap="round"/>
<polygon points="194.7,259.5 209.6,259.5 208.2,262.7 201.5,263.4 193.4,265.4" fill="#3F9DB8" stroke="#3F9DB8" stroke-width="0.3"/>
<path d="M209.6 259.5L208.2 262.7M208.2 262.7L201.5 263.4M201.5 263.4L193.4 265.4M193.4 265.4L194.7 259.5" fill="none" stroke="#3b1f1a" stroke-width="0.65" stroke-linecap="round"/>
<polygon points="123.1,272.8 131.2,270.1 137.3,272.8 144.1,272.8 147.4,276.9 148.1,283.6 142.7,286.4 138.0,287.0 132.6,289.1 127.2,288.4 123.1,284.3 124.5,278.9" fill="#A00000" stroke="#A00000" stroke-width="0.3"/>
<path d="M123.1 272.8L131.2 270.1M131.2 270.1L137.3 272.8M144.1 272.8L147.4 276.9M147.4 276.9L148.1 283.6M148.1 283.6L142.7 286.4M142.7 286.4L138.0 287.0M138.0 287.0L132.6 289.1M132.6 289.1L127.2 288.4M127.2 288.4L123.1 284.3M123.1 284.3L124.5 278.9M124.5 278.9L123.1 272.8" fill="none" stroke="#3b1f1a" stroke-width="0.65" stroke-linecap="round"/>
<polygon points="114.5,259.5 131.2,259.5 128.5,262.0 120.4,263.4 114.5,262.7" fill="#A00000" stroke="#A00000" stroke-width="0.3"/>
<path d="M131.2 259.5L128.5 262.0M128.5 262.0L120.4 263.4M120.4 263.4L114.5 262.7" fill="none" stroke="#3b1f1a" stroke-width="0.65" stroke-linecap="round"/>
<polygon points="154.9,296.5 159.6,293.8 164.3,295.1 168.4,299.9 175.8,299.2 181.2,300.5 181.9,305.9 174.5,307.3 171.8,311.4 169.1,316.8 167.7,320.8 170.4,324.9 167.7,330.3 163.6,330.3 160.9,323.5 161.6,318.1 158.2,314.1 158.9,310.0 155.5,306.6 156.2,301.9" fill="#A00000" stroke="#A00000" stroke-width="0.3"/>
<path d="M154.9 296.5L159.6 293.8M159.6 293.8L164.3 295.1M164.3 295.1L168.4 299.9M168.4 299.9L175.8 299.2M175.8 299.2L181.2 300.5M181.2 300.5L181.9 305.9M181.9 305.9L174.5 307.3M174.5 307.3L171.8 311.4M171.8 311.4L169.1 316.8M169.1 316.8L167.7 320.8M167.7 320.8L170.4 324.9M170.4 324.9L167.7 330.3M163.6 330.3L160.9 323.5M160.9 323.5L161.6 318.1M161.6 318.1L158.2 314.1M158.2 314.1L158.9 310.0M158.9 310.0L155.5 306.6M155.5 306.6L156.2 301.9M156.2 301.9L154.9 296.5" fill="none" stroke="#3b1f1a" stroke-width="0.65" stroke-linecap="round"/>
<polygon points="114.5,319.5 121.8,314.1 127.2,309.3 135.3,304.6 141.4,306.6 142.7,312.0 140.0,318.1 138.6,324.9 140.7,330.3 140.0,337.0 144.1,341.1 142.7,346.5 135.3,347.8 128.5,351.9 121.8,350.5 114.5,351.9" fill="#A00000" stroke="#A00000" stroke-width="0.3"/>
<path d="M114.5 319.5L121.8 314.1M121.8 314.1L127.2 309.3M127.2 309.3L135.3 304.6M135.3 304.6L141.4 306.6M141.4 306.6L142.7 312.0M142.7 312.0L140.0 318.1M140.0 318.1L138.6 324.9M138.6 324.9L140.7 330.3M140.7 330.3L140.0 337.0M140.0 337.0L144.1 341.1M144.1 341.1L142.7 346.5M142.7 346.5L135.3 347.8M135.3 347.8L128.5 351.9M128.5 351.9L121.8 350.5M121.8 350.5L114.5 351.9" fill="none" stroke="#3b1f1a" stroke-width="0.65" stroke-linecap="round"/>
<polygon points="193.4,265.4 201.5,263.4 210.9,264.7 215.5,268.1 215.5,274.9 209.6,277.6 202.8,279.6 196.1,276.2 194.7,271.5" fill="#A00000" stroke="#A00000" stroke-width="0.3"/>
<path d="M193.4 265.4L201.5 263.4M201.5 263.4L210.9 264.7M210.9 264.7L215.5 268.1M215.5 274.9L209.6 277.6M209.6 277.6L202.8 279.6M202.8 279.6L196.1 276.2M196.1 276.2L194.7 271.5M194.7 271.5L193.4 265.4" fill="none" stroke="#3b1f1a" stroke-width="0.65" stroke-linecap="round"/>
<polygon points="188.6,315.4 193.4,318.1 198.8,319.5 202.8,314.1 208.2,312.0 209.6,316.8 208.2,322.2 212.3,327.6 213.0,335.7 209.6,342.4 204.2,339.7 201.5,333.0 196.1,331.6 190.7,333.0 183.9,335.7 178.5,337.0 177.2,333.6 182.6,327.6 186.6,323.5" fill="#A00000" stroke="#A00000" stroke-width="0.3"/>
<path d="M188.6 315.4L193.4 318.1M193.4 318.1L198.8 319.5M198.8 319.5L202.8 314.1M202.8 314.1L208.2 312.0M208.2 312.0L209.6 316.8M209.6 316.8L208.2 322.2M208.2 322.2L212.3 327.6M212.3 327.6L213.0 335.7M213.0 335.7L209.6 342.4M209.6 342.4L204.2 339.7M204.2 339.7L201.5 333.0M201.5 333.0L196.1 331.6M196.1 331.6L190.7 333.0M190.7 333.0L183.9 335.7M183.9 335.7L178.5 337.0M178.5 337.0L177.2 333.6M177.2 333.6L182.6 327.6M182.6 327.6L186.6 323.5M186.6 323.5L188.6 315.4" fill="none" stroke="#3b1f1a" stroke-width="0.65" stroke-linecap="round"/>
<polygon points="177.8,351.9 185.3,347.8 190.7,345.1 196.1,342.4 196.8,347.8 190.7,353.2 182.6,360.5 166.4,360.5 169.1,355.9 174.5,354.6" fill="#A00000" stroke="#A00000" stroke-width="0.3"/>
<path d="M177.8 351.9L185.3 347.8M185.3 347.8L190.7 345.1M190.7 345.1L196.1 342.4M196.1 342.4L196.8 347.8M196.8 347.8L190.7 353.2M190.7 353.2L182.6 360.5M166.4 360.5L169.1 355.9M169.1 355.9L174.5 354.6M174.5 354.6L177.8 351.9" fill="none" stroke="#3b1f1a" stroke-width="0.65" stroke-linecap="round"/>
<polygon points="147.4,360.5 149.5,349.2 151.5,349.9 150.8,360.5" fill="#A00000" stroke="#A00000" stroke-width="0.3"/>
<path d="M147.4 360.5L149.5 349.2M149.5 349.2L151.5 349.9M151.5 349.9L150.8 360.5" fill="none" stroke="#3b1f1a" stroke-width="0.65" stroke-linecap="round"/>
<polygon points="115.0,360.0 215.0,360.0 215.0,440.0 115.0,440.0" fill="#FFA826" stroke="#FFA826" stroke-width="0.3"/>
<polygon points="148.8,359.5 148.1,359.5 148.8,367.0 146.8,375.1 143.4,384.6 155.5,388.0 167.0,390.0 168.4,381.9 170.4,377.8 174.5,373.8 177.2,369.1 173.1,365.0 167.7,367.0 163.0,368.4 160.9,364.3 161.6,361.6 162.3,359.5" fill="#3F9DB8" stroke="#3F9DB8" stroke-width="0.3"/>
<path d="M148.1 359.5L148.8 367.0M148.8 367.0L146.8 375.1M146.8 375.1L143.4 384.6M143.4 384.6L155.5 388.0M155.5 388.0L167.0 390.0M167.0 390.0L168.4 381.9M168.4 381.9L170.4 377.8M170.4 377.8L174.5 373.8M174.5 373.8L177.2 369.1M177.2 369.1L173.1 365.0M173.1 365.0L167.7 367.0M167.7 367.0L163.0 368.4M163.0 368.4L160.9 364.3M160.9 364.3L161.6 361.6M161.6 361.6L162.3 359.5" fill="none" stroke="#3b1f1a" stroke-width="0.65" stroke-linecap="round"/>
<polygon points="127.2,371.1 136.6,367.7 143.4,363.6 148.1,359.5 148.8,367.0 146.8,375.1 143.4,384.6 135.3,385.3 125.8,383.9 126.5,376.5" fill="#A00000" stroke="#A00000" stroke-width="0.3"/>
<path d="M127.2 371.1L136.6 367.7M136.6 367.7L143.4 363.6M143.4 363.6L148.1 359.5M148.1 359.5L148.8 367.0M148.8 367.0L146.8 375.1M146.8 375.1L143.4 384.6M143.4 384.6L135.3 385.3M135.3 385.3L125.8 383.9M125.8 383.9L126.5 376.5M126.5 376.5L127.2 371.1" fill="none" stroke="#3b1f1a" stroke-width="0.65" stroke-linecap="round"/>
<polygon points="161.6,361.6 162.3,359.5 182.6,359.5 179.9,361.6 182.6,365.7 181.2,368.4 177.2,369.1 173.1,365.0 167.7,367.0 163.0,368.4 160.9,364.3" fill="#A00000" stroke="#A00000" stroke-width="0.3"/>
<path d="M161.6 361.6L162.3 359.5M182.6 359.5L179.9 361.6M179.9 361.6L182.6 365.7M182.6 365.7L181.2 368.4M181.2 368.4L177.2 369.1M177.2 369.1L173.1 365.0M173.1 365.0L167.7 367.0M167.7 367.0L163.0 368.4M163.0 368.4L160.9 364.3M160.9 364.3L161.6 361.6" fill="none" stroke="#3b1f1a" stroke-width="0.65" stroke-linecap="round"/>
<polygon points="148.8,354.9 159.6,352.2 161.6,355.5 166.4,354.9 165.0,357.6 161.6,361.6 160.9,364.3 155.5,363.0 148.8,367.0 148.1,359.5" fill="#3F9DB8" stroke="#3F9DB8" stroke-width="0.3"/>
<path d="M148.8 354.9L159.6 352.2M159.6 352.2L161.6 355.5M161.6 355.5L166.4 354.9M166.4 354.9L165.0 357.6M165.0 357.6L161.6 361.6M161.6 361.6L160.9 364.3M160.9 364.3L155.5 363.0M155.5 363.0L148.8 367.0M148.8 367.0L148.1 359.5M148.1 359.5L148.8 354.9" fill="none" stroke="#3b1f1a" stroke-width="0.65" stroke-linecap="round"/>
<polygon points="161.6,361.6 165.0,357.6 173.1,353.5 179.9,350.8 188.0,346.8 194.1,342.0 197.4,346.8 198.8,350.8 190.7,353.5 185.3,354.9 182.6,358.9 179.9,361.6 182.6,365.7 181.2,368.4 177.2,369.1 173.1,365.0 167.7,367.0 163.0,368.4 160.9,364.3" fill="#A00000" stroke="#A00000" stroke-width="0.3"/>
<path d="M161.6 361.6L165.0 357.6M165.0 357.6L173.1 353.5M173.1 353.5L179.9 350.8M179.9 350.8L188.0 346.8M188.0 346.8L194.1 342.0M194.1 342.0L197.4 346.8M197.4 346.8L198.8 350.8M198.8 350.8L190.7 353.5M190.7 353.5L185.3 354.9M185.3 354.9L182.6 358.9M182.6 358.9L179.9 361.6M179.9 361.6L182.6 365.7M182.6 365.7L181.2 368.4M181.2 368.4L177.2 369.1M177.2 369.1L173.1 365.0M173.1 365.0L167.7 367.0M167.7 367.0L163.0 368.4M163.0 368.4L160.9 364.3M160.9 364.3L161.6 361.6" fill="none" stroke="#3b1f1a" stroke-width="0.65" stroke-linecap="round"/>
<polygon points="15.0,215.0 115.0,215.0 115.0,315.0 15.0,315.0" fill="#FFA826" stroke="#FFA826" stroke-width="0.3"/>
<polygon points="42.0,286.6 46.8,283.2 53.5,284.6 55.5,278.5 58.2,275.8 61.6,278.5 68.4,278.5 69.1,283.9 60.9,285.3 56.9,288.6 50.1,290.0 44.1,289.1" fill="#3F9DB8" stroke="#3F9DB8" stroke-width="0.3"/>
<path d="M42.0 286.6L46.8 283.2M46.8 283.2L53.5 284.6M53.5 284.6L55.5 278.5M55.5 278.5L58.2 275.8M58.2 275.8L61.6 278.5M68.4 278.5L69.1 283.9M69.1 283.9L60.9 285.3M60.9 285.3L56.9 288.6M56.9 288.6L50.1 290.0M50.1 290.0L44.1 289.1M44.1 289.1L42.0 286.6" fill="none" stroke="#3b1f1a" stroke-width="0.65" stroke-linecap="round"/>
<polygon points="93.4,274.5 96.1,269.1 102.8,267.0 109.6,265.0 115.5,262.3 115.5,269.1 112.3,272.4 108.2,274.5 104.2,277.2 97.4,275.8 93.4,279.9" fill="#3F9DB8" stroke="#3F9DB8" stroke-width="0.3"/>
<path d="M93.4 274.5L96.1 269.1M96.1 269.1L102.8 267.0M102.8 267.0L109.6 265.0M109.6 265.0L115.5 262.3M115.5 269.1L112.3 272.4M112.3 272.4L108.2 274.5M108.2 274.5L104.2 277.2M104.2 277.2L97.4 275.8M97.4 275.8L93.4 279.9" fill="none" stroke="#3b1f1a" stroke-width="0.65" stroke-linecap="round"/>
<polygon points="73.1,315.5 75.8,311.6 82.6,310.9 85.3,315.5" fill="#3F9DB8" stroke="#3F9DB8" stroke-width="0.3"/>
<path d="M73.1 315.5L75.8 311.6M75.8 311.6L82.6 310.9M82.6 310.9L85.3 315.5" fill="none" stroke="#3b1f1a" stroke-width="0.65" stroke-linecap="round"/>
<polygon points="84.6,231.2 85.3,226.5 90.7,225.1 96.1,223.1 101.5,233.9 104.2,240.7 108.2,238.0 106.9,228.5 109.6,217.7 115.5,214.5 115.5,262.3 109.6,265.0 102.8,267.0 96.1,269.1 92.7,274.5 93.4,279.9 90.7,285.3 85.3,283.9 81.2,277.2 79.9,273.1 85.3,269.1 88.0,265.0 82.6,265.7 78.5,266.4 75.8,259.6 74.5,251.5 75.8,243.4 82.6,238.0" fill="#A00000" stroke="#A00000" stroke-width="0.3"/>
<path d="M84.6 231.2L85.3 226.5M85.3 226.5L90.7 225.1M90.7 225.1L96.1 223.1M96.1 223.1L101.5 233.9M101.5 233.9L104.2 240.7M104.2 240.7L108.2 238.0M108.2 238.0L106.9 228.5M106.9 228.5L109.6 217.7M109.6 217.7L115.5 214.5M115.5 262.3L109.6 265.0M109.6 265.0L102.8 267.0M102.8 267.0L96.1 269.1M96.1 269.1L92.7 274.5M92.7 274.5L93.4 279.9M93.4 279.9L90.7 285.3M90.7 285.3L85.3 283.9M85.3 283.9L81.2 277.2M81.2 277.2L79.9 273.1M79.9 273.1L85.3 269.1M85.3 269.1L88.0 265.0M88.0 265.0L82.6 265.7M82.6 265.7L78.5 266.4M78.5 266.4L75.8 259.6M75.8 259.6L74.5 251.5M74.5 251.5L75.8 243.4M75.8 243.4L82.6 238.0M82.6 238.0L84.6 231.2" fill="none" stroke="#3b1f1a" stroke-width="0.65" stroke-linecap="round"/>
<polygon points="24.5,267.7 29.9,262.3 38.0,258.9 44.1,256.2 45.4,258.2 42.0,262.3 38.6,267.0 31.2,270.4 28.5,273.8 27.2,271.8" fill="#A00000" stroke="#A00000" stroke-width="0.3"/>
<path d="M24.5 267.7L29.9 262.3M29.9 262.3L38.0 258.9M38.0 258.9L44.1 256.2M44.1 256.2L45.4 258.2M45.4 258.2L42.0 262.3M42.0 262.3L38.6 267.0M38.6 267.0L31.2 270.4M31.2 270.4L28.5 273.8M28.5 273.8L27.2 271.8M27.2 271.8L24.5 267.7" fill="none" stroke="#3b1f1a" stroke-width="0.65" stroke-linecap="round"/>
<polygon points="19.1,292.0 28.5,290.7 42.0,289.3 50.1,290.0 56.9,288.6 60.9,285.3 69.1,283.9 75.8,282.6 82.6,283.9 85.3,283.9 90.7,285.3 94.7,290.7 96.1,294.7 106.9,292.0 110.9,290.7 112.3,294.7 101.5,301.5 90.7,304.2 86.6,298.8 83.9,301.5 82.6,309.6 77.2,315.5 20.4,315.5 20.4,306.9 24.5,298.8" fill="#A00000" stroke="#A00000" stroke-width="0.3"/>
<path d="M19.1 292.0L28.5 290.7M28.5 290.7L42.0 289.3M42.0 289.3L50.1 290.0M50.1 290.0L56.9 288.6M56.9 288.6L60.9 285.3M60.9 285.3L69.1 283.9M69.1 283.9L75.8 282.6M75.8 282.6L82.6 283.9M85.3 283.9L90.7 285.3M90.7 285.3L94.7 290.7M94.7 290.7L96.1 294.7M96.1 294.7L106.9 292.0M106.9 292.0L110.9 290.7M110.9 290.7L112.3 294.7M112.3 294.7L101.5 301.5M101.5 301.5L90.7 304.2M90.7 304.2L86.6 298.8M86.6 298.8L83.9 301.5M83.9 301.5L82.6 309.6M82.6 309.6L77.2 315.5M20.4 306.9L24.5 298.8M24.5 298.8L19.1 292.0" fill="none" stroke="#3b1f1a" stroke-width="0.65" stroke-linecap="round"/>
<polygon points="82.6,252.8 86.6,251.5 88.6,256.9 86.6,262.3 82.6,263.6" fill="#FFA826" stroke="#FFA826" stroke-width="0.3"/>
<path d="M82.6 252.8L86.6 251.5M86.6 251.5L88.6 256.9M88.6 256.9L86.6 262.3M86.6 262.3L82.6 263.6" fill="none" stroke="#3b1f1a" stroke-width="0.65" stroke-linecap="round"/>
<polygon points="15.0,335.0 115.0,335.0 115.0,435.0 15.0,435.0" fill="#FFA826" stroke="#FFA826" stroke-width="0.3"/>
<polygon points="46.8,359.3 50.8,353.9 55.5,347.2 67.0,345.1 65.7,351.2 64.3,360.0 71.8,363.4 81.2,366.1 90.0,366.8 89.3,374.2 85.3,379.6 85.3,386.4 81.2,394.5 75.8,402.6 73.1,410.7 71.8,418.8 70.4,424.2 69.1,424.9 27.8,410.7 38.0,398.5 46.1,387.7 50.8,379.6 51.5,371.5 48.8,366.1 48.1,360.7" fill="#3F9DB8" stroke="#3F9DB8" stroke-width="0.3"/>
<path d="M46.8 359.3L50.8 353.9M50.8 353.9L55.5 347.2M55.5 347.2L67.0 345.1M67.0 345.1L65.7 351.2M65.7 351.2L64.3 360.0M64.3 360.0L71.8 363.4M71.8 363.4L81.2 366.1M81.2 366.1L90.0 366.8M90.0 366.8L89.3 374.2M89.3 374.2L85.3 379.6M85.3 386.4L81.2 394.5M81.2 394.5L75.8 402.6M75.8 402.6L73.1 410.7M73.1 410.7L71.8 418.8M71.8 418.8L70.4 424.2M70.4 424.2L69.1 424.9M69.1 424.9L27.8 410.7M27.8 410.7L38.0 398.5M38.0 398.5L46.1 387.7M46.1 387.7L50.8 379.6M50.8 379.6L51.5 371.5M51.5 371.5L48.8 366.1M48.8 366.1L48.1 360.7M48.1 360.7L46.8 359.3" fill="none" stroke="#3b1f1a" stroke-width="0.65" stroke-linecap="round"/>
<polygon points="67.0,345.1 75.8,347.8 83.9,341.1 86.6,338.4 96.1,341.1 97.4,334.5 115.5,334.5 115.5,350.5 96.1,349.9 92.7,355.3 91.4,362.0 90.0,366.8 81.2,366.1 71.8,363.4 64.3,360.0 65.7,351.2" fill="#A00000" stroke="#A00000" stroke-width="0.3"/>
<path d="M67.0 345.1L75.8 347.8M75.8 347.8L83.9 341.1M83.9 341.1L86.6 338.4M86.6 338.4L96.1 341.1M96.1 341.1L97.4 334.5M115.5 350.5L96.1 349.9M96.1 349.9L92.7 355.3M92.7 355.3L91.4 362.0M91.4 362.0L90.0 366.8M90.0 366.8L81.2 366.1M81.2 366.1L71.8 363.4M71.8 363.4L64.3 360.0M64.3 360.0L65.7 351.2M65.7 351.2L67.0 345.1" fill="none" stroke="#3b1f1a" stroke-width="0.65" stroke-linecap="round"/>
<polygon points="15.0,315.0 115.0,315.0 115.0,335.0 15.0,335.0" fill="#FFA826" stroke="#FFA826" stroke-width="0.3"/>
<polygon points="14.5,314.5 68.4,314.5 65.0,318.8 62.3,320.8 54.2,316.8 51.5,320.1 52.8,328.2 39.3,327.6 25.8,328.9 23.1,322.8 14.5,322.8" fill="#A00000" stroke="#A00000" stroke-width="0.3"/>
<path d="M68.4 314.5L65.0 318.8M65.0 318.8L62.3 320.8M62.3 320.8L54.2 316.8M54.2 316.8L51.5 320.1M51.5 320.1L52.8 328.2M52.8 328.2L39.3 327.6M39.3 327.6L25.8 328.9M25.8 328.9L23.1 322.8" fill="none" stroke="#3b1f1a" stroke-width="0.65" stroke-linecap="round"/>
<polygon points="65.7,318.1 68.4,314.5 85.3,314.5 85.9,320.1 82.6,322.8 85.3,328.2 90.7,327.6 88.0,330.3 81.2,332.3 70.4,333.0 67.7,329.6 65.0,326.9 62.3,323.5" fill="#3F9DB8" stroke="#3F9DB8" stroke-width="0.3"/>
<path d="M65.7 318.1L68.4 314.5M85.3 314.5L85.9 320.1M85.9 320.1L82.6 322.8M82.6 322.8L85.3 328.2M85.3 328.2L90.7 327.6M90.7 327.6L88.0 330.3M88.0 330.3L81.2 332.3M81.2 332.3L70.4 333.0M70.4 333.0L67.7 329.6M67.7 329.6L65.0 326.9M65.0 326.9L62.3 323.5M62.3 323.5L65.7 318.1" fill="none" stroke="#3b1f1a" stroke-width="0.65" stroke-linecap="round"/>
<polygon points="53.5,331.6 59.6,328.9 61.6,330.3 55.5,333.0" fill="#A00000" stroke="#A00000" stroke-width="0.3"/>
<path d="M53.5 331.6L59.6 328.9M59.6 328.9L61.6 330.3M61.6 330.3L55.5 333.0M55.5 333.0L53.5 331.6" fill="none" stroke="#3b1f1a" stroke-width="0.65" stroke-linecap="round"/>
<polygon points="108.2,332.3 109.6,330.3 115.5,331.6 115.5,335.5 106.9,335.5" fill="#A00000" stroke="#A00000" stroke-width="0.3"/>
<path d="M108.2 332.3L109.6 330.3M109.6 330.3L115.5 331.6M106.9 335.5L108.2 332.3" fill="none" stroke="#3b1f1a" stroke-width="0.65" stroke-linecap="round"/>
<polygon points="204.5,307.4 209.9,303.4 218.0,304.7 222.0,308.1 227.4,305.4 232.8,308.1 231.5,312.2 224.7,313.5 219.3,312.8 215.3,313.5 208.5,312.2" fill="#3F9DB8" stroke="#3F9DB8" stroke-width="0.3"/>
<path d="M204.5 307.4L209.9 303.4M209.9 303.4L218.0 304.7M218.0 304.7L222.0 308.1M222.0 308.1L227.4 305.4M227.4 305.4L232.8 308.1M232.8 308.1L231.5 312.2M231.5 312.2L224.7 313.5M224.7 313.5L219.3 312.8M219.3 312.8L215.3 313.5M215.3 313.5L208.5 312.2M208.5 312.2L204.5 307.4" fill="none" stroke="#3b1f1a" stroke-width="0.65" stroke-linecap="round"/>
<polygon points="215.3,316.2 218.6,310.8 224.1,308.1 225.4,310.1 220.7,315.5 217.3,318.9" fill="#A00000" stroke="#A00000" stroke-width="0.3"/>
<path d="M215.3 316.2L218.6 310.8M218.6 310.8L224.1 308.1M224.1 308.1L225.4 310.1M225.4 310.1L220.7 315.5M220.7 315.5L217.3 318.9M217.3 318.9L215.3 316.2" fill="none" stroke="#3b1f1a" stroke-width="0.65" stroke-linecap="round"/>
<polygon points="213.2,339.2 219.3,330.4 224.1,329.7 225.4,339.2 220.7,343.2 214.6,345.9" fill="#3F9DB8" stroke="#3F9DB8" stroke-width="0.3"/>
<path d="M213.2 339.2L219.3 330.4M219.3 330.4L224.1 329.7M224.1 329.7L225.4 339.2M225.4 339.2L220.7 343.2M220.7 343.2L214.6 345.9M214.6 345.9L213.2 339.2" fill="none" stroke="#3b1f1a" stroke-width="0.65" stroke-linecap="round"/>
<defs><path id="mesh" d="M26.0 273.4L28.7 275.3L30.5 278.1M17.3 283.6L20.6 283.9L23.8 285.0M23.8 285.0L27.6 282.0L30.5 278.1M60.9 253.6L60.6 248.0L59.9 242.5M60.9 253.6L55.7 256.4L49.9 257.0M49.9 257.0L47.5 254.9M47.5 254.9L46.5 248.9L46.0 242.9M48.2 238.6L46.0 242.9M31.7 258.6L33.1 259.1M32.7 246.3L39.3 244.6L46.0 242.9M33.1 259.1L39.9 255.8L47.5 254.9M24.7 326.8L26.6 326.2M26.6 326.2L28.8 321.5L29.9 316.4M29.9 316.4L24.4 313.2L20.4 308.3M23.8 285.0L25.8 291.4L27.2 297.9M23.7 300.3L27.2 297.9M143.6 181.6L143.3 184.7L143.0 187.7M143.0 187.7L139.1 190.1L135.1 192.2M127.6 186.3L131.2 189.4L135.1 192.2M54.4 350.5L51.5 344.4L47.4 339.2M54.4 350.5L50.0 356.2L48.4 363.2M26.3 349.6L31.7 342.1L38.6 335.9M38.6 335.9L42.9 337.9L47.4 339.2M26.6 326.2L32.0 330.5L38.0 333.7M38.0 333.7L38.6 335.9M33.7 412.7L45.7 404.2L59.2 398.2M59.2 398.2L52.3 391.4L49.3 382.2M63.6 423.0L68.2 415.3L68.9 406.4M59.2 398.2L63.6 399.7L67.6 401.9M68.9 406.4L67.6 401.9M95.0 423.7L93.5 419.2M68.9 406.4L81.8 411.7L93.5 419.2M143.0 187.7L147.5 191.6L153.2 193.5M150.0 177.1L153.0 179.3L156.1 181.2M153.2 193.5L156.4 190.0M156.1 181.2L156.3 185.6L156.4 190.0M237.8 354.7L236.1 351.6L233.7 349.0M236.4 341.5L240.6 340.2M233.7 349.0L234.2 345.0L236.4 341.5M240.6 340.2L243.6 341.5M233.7 349.0L230.2 348.5L226.6 348.6M229.0 335.7L232.9 338.4L236.4 341.5M229.0 335.7L223.6 337.9M226.6 348.6L224.1 343.5L223.6 337.9M226.6 348.6L223.9 350.9L221.5 353.6M30.5 278.1L35.4 278.4M27.2 297.9L32.2 297.7M35.4 278.4L34.4 286.4L36.7 294.2M32.2 297.7L36.7 294.2M135.1 192.2L135.9 195.6L135.7 199.0M135.7 199.0L140.6 202.3M153.2 193.5L152.9 197.5M152.9 197.5L146.6 199.5L140.6 202.3M136.2 215.6L132.7 214.5L129.5 212.7M128.8 203.7L128.6 208.2L129.5 212.7M135.7 199.0L132.0 201.0L128.8 203.7M136.2 215.6L138.8 212.6L142.1 210.4M140.6 202.3L140.7 206.5L142.1 210.4M156.1 181.2L160.5 179.0L164.6 176.3M240.6 340.2L241.2 336.7L241.1 333.2M241.1 333.2L246.5 332.5M219.8 353.6L217.3 349.0L213.5 345.4M223.6 337.9L222.6 337.7M222.6 337.7L218.2 341.7L213.5 345.4M181.2 368.4L180.5 364.6M167.4 387.7L162.9 374.4L155.3 362.7M155.3 362.7L157.8 361.3M157.8 361.3L168.8 365.1L180.5 364.6M197.8 368.2L196.2 365.4L195.7 362.3M195.7 362.3L189.3 361.2L182.8 362.2M180.5 364.6L182.8 362.2M112.0 231.5L105.7 229.7L99.6 227.3M112.0 231.5L113.9 224.2L115.9 217.0M115.9 217.0L114.7 215.6M99.6 227.3L97.4 222.7M95.7 237.6L99.1 240.9L101.3 245.2M111.8 242.0L106.4 243.1L101.3 245.2M111.8 242.0L112.7 239.0L114.2 236.2M114.2 236.2L112.0 231.5M95.7 237.6L98.6 232.8L99.6 227.3M114.2 236.2L118.4 235.1L122.7 234.9M122.7 234.9L125.3 230.8L127.5 226.6M120.7 217.8L124.3 222.1L127.5 226.6M120.7 217.8L115.9 217.0M128.8 203.7L123.8 202.3M129.5 212.7L125.0 215.0L120.7 217.8M49.9 257.0L51.1 261.4L50.9 266.1M33.1 259.1L37.7 265.0L40.3 271.9M40.3 271.9L46.0 269.6L50.9 266.1M35.4 278.4L39.0 276.2M40.3 271.9L39.0 276.2M42.9 294.1L39.8 293.8L36.7 294.2M42.9 294.1L47.5 289.4L51.8 284.5M39.0 276.2L44.5 281.6L51.8 284.5M134.1 243.8L127.8 240.1L122.7 234.9M120.0 254.0L125.7 253.1L130.7 250.3M120.0 254.0L114.9 248.7L111.8 242.0M134.1 243.8L134.1 244.7M134.1 244.7L131.8 247.1L130.7 250.3M50.9 370.3L62.1 370.5L73.3 369.4M67.6 401.9L76.5 394.2L84.5 385.7M84.5 385.7L80.7 376.3L73.3 369.4M147.7 416.1L146.0 407.8L142.0 400.2M119.6 419.0L120.8 410.7L119.7 402.4M142.0 400.2L131.1 403.7L119.7 402.4M167.1 389.3L155.6 394.0L143.5 397.2M142.0 400.2L143.5 397.2M303.5 167.8L300.0 167.5M298.6 158.6L297.4 160.7M300.0 167.5L298.1 164.3L297.4 160.7M262.8 179.5L262.3 183.1L260.8 186.5M260.8 186.5L259.6 187.4M257.0 174.7L252.9 177.0L248.2 178.1M248.2 178.1L250.3 182.7L253.8 186.3M262.8 179.5L259.5 177.6L257.0 174.7M259.6 187.4L253.8 186.3M127.5 226.6L131.7 225.9L135.9 226.0M134.1 243.8L136.0 241.0L137.9 238.3M137.9 238.3L137.9 232.0L135.9 226.0M136.2 215.6L135.8 220.1L137.4 224.2M137.4 224.2L135.9 226.0M156.4 190.0L161.5 190.7L166.6 190.4M170.8 177.3L172.9 182.7M166.6 190.4L169.2 186.1L172.9 182.7M189.2 179.0L183.8 182.1L178.6 185.4M178.6 185.4L175.9 183.8L172.9 182.7M197.7 204.2L194.2 199.3L193.1 193.5M197.7 204.2L194.0 208.0L191.0 212.5M191.0 212.5L185.5 206.1L180.9 199.1M193.1 193.5L187.9 194.2L182.8 195.5M182.8 195.5L180.9 199.1M178.6 185.4L180.3 190.6L182.8 195.5M196.0 189.4L193.1 193.5M192.3 182.2L193.9 186.0L196.0 189.4M170.8 203.7L175.9 201.4L180.9 199.1M170.8 203.7L168.9 197.0L166.6 190.4M152.9 197.5L155.3 200.2L156.8 203.5M142.1 210.4L146.1 211.9L150.1 213.3M156.8 203.5L154.3 209.0L150.1 213.3M143.5 397.2L140.0 384.9L136.7 372.5M155.3 362.7L155.0 362.7M155.0 362.7L145.8 367.4L136.7 372.5M117.2 275.8L119.9 271.2L121.2 266.1M118.3 258.2L120.0 262.1L121.2 266.1M118.3 258.2L113.2 260.6L107.5 260.5M117.2 275.8L109.7 274.5L102.2 273.4M102.2 273.4L104.0 266.6L107.5 260.5M118.3 258.2L120.0 254.0M101.3 245.2L99.3 248.3L98.1 251.7M107.5 260.5L102.6 256.3L98.1 251.7M151.0 251.9L149.4 257.4L147.1 262.7M151.0 251.9L143.2 246.6L134.1 244.7M130.7 250.3L134.5 256.0L137.8 262.1M147.1 262.7L142.4 262.7L137.8 262.1M121.2 266.1L126.9 266.5L132.5 267.8M132.5 267.8L135.1 264.9L137.8 262.1M57.5 328.1L57.5 328.0M57.5 328.1L64.6 333.4L69.2 340.9M57.5 328.0L62.1 324.6L66.6 321.0M66.6 321.0L70.3 324.0L74.8 325.4M74.8 325.4L71.8 333.1L69.2 340.9M54.4 350.5L62.5 348.6L70.0 344.9M73.3 369.4L78.8 360.7L80.3 350.5M80.3 350.5L75.6 346.9L70.0 344.9M47.4 339.2L53.1 334.2L57.5 328.1M70.0 344.9L69.2 340.9M89.2 385.4L93.6 383.0L97.0 379.4M89.2 385.4L93.7 395.4L101.0 403.6M97.0 379.4L106.8 379.8L116.3 382.4M116.3 382.4L118.0 392.4L119.7 402.4M101.0 403.6L110.3 402.3L119.7 402.4M84.5 385.7L89.2 385.4M80.3 350.5L81.4 350.3M96.1 352.8L88.6 352.4L81.4 350.3M96.1 352.8L100.0 356.3M100.0 356.3L98.1 367.8L97.0 379.4M93.5 419.2L96.5 411.1L101.0 403.6M100.0 356.3L109.8 356.2L119.5 355.1M119.5 355.1L123.8 363.0L128.7 370.6M128.7 370.6L123.6 377.7L116.3 382.4M136.7 372.5L132.7 371.7L128.7 370.6M119.7 402.4L119.7 402.4M301.1 180.1L297.7 179.1L294.4 177.7M300.0 167.5L295.7 170.8M295.7 170.8L294.7 174.1L294.4 177.7M292.0 185.7L295.9 189.5M302.1 189.4L299.0 190.1L295.9 189.5M292.0 185.7L291.5 180.3M291.5 180.3L294.4 177.7M297.4 160.7L292.8 160.1L288.6 158.1M297.0 150.0L293.8 150.2L290.7 150.4M288.6 158.1L289.4 154.2L290.7 150.4M289.6 141.2L288.7 144.1L288.2 147.2M288.2 147.2L290.7 150.4M299.1 206.7L297.3 203.1M299.1 206.7L298.3 211.9L296.7 217.0M286.3 212.6L289.8 206.9L294.9 202.3M286.3 212.6L290.3 216.0L295.4 217.4M294.9 202.3L297.3 203.1M295.4 217.4L296.7 217.0M304.2 198.3L301.1 201.1L297.3 203.1M304.4 208.8L299.1 206.7M295.9 189.5L295.1 194.9L292.6 199.7M292.6 199.7L294.9 202.3M296.7 217.0L299.4 218.0M260.8 186.5L266.1 187.5L271.1 189.5M267.6 176.6L271.7 177.8M262.8 179.5L267.6 176.6M271.7 177.8L273.7 180.5L275.3 183.5M271.1 189.5L272.8 186.2L275.3 183.5M289.4 198.8L287.2 194.9L284.8 191.1M289.4 198.8L284.0 200.1L279.5 203.4M279.5 203.4L278.2 199.1L278.5 194.7M278.5 194.7L280.8 192.7L283.3 190.8M284.8 191.1L283.3 190.8M292.0 185.7L288.2 188.1L284.8 191.1M292.6 199.7L289.4 198.8M271.1 189.5L271.8 192.0M271.8 192.0L274.9 194.0L278.5 194.7M279.2 183.7L275.3 183.5M279.2 183.7L280.4 187.7L283.3 190.8M291.5 180.3L288.0 180.0L284.9 178.6M284.9 178.6L282.0 181.1L279.2 183.7M196.0 189.4L200.3 189.7L204.4 188.4M208.6 203.5L210.3 199.0M208.6 203.5L203.2 205.0L197.7 204.2M210.3 199.0L207.6 193.6L204.4 188.4M206.6 184.8L204.4 188.4M170.8 203.7L170.6 204.0M156.8 203.5L161.5 204.0L165.8 205.9M170.6 204.0L165.8 205.9M137.4 224.2L142.2 225.0L147.0 224.6M150.1 213.3L151.6 217.3M147.0 224.6L150.1 221.4L151.6 217.3M165.8 205.9L163.9 213.1L162.4 220.3M151.6 217.3L157.3 217.5L162.4 220.3M219.3 333.7L212.3 334.2L205.7 331.9M219.3 333.7L220.0 327.8L221.2 321.9M221.2 321.9L220.2 321.4M220.2 321.4L212.0 323.4L204.8 328.0M205.7 331.9L204.8 328.0M78.9 308.3L79.0 308.3M78.9 308.3L80.4 316.0L79.8 323.8M79.0 308.3L85.7 309.5L92.6 309.5M92.6 309.5L92.8 317.4L92.3 325.2M79.8 323.8L83.7 324.8L87.3 326.7M92.3 325.2L87.3 326.7M74.8 325.4L79.8 323.8M65.5 313.2L65.7 317.2L66.6 321.0M65.5 313.2L72.0 310.1L78.9 308.3M81.4 350.3L83.6 338.3L87.3 326.7M92.6 309.5L97.1 305.6M76.7 297.6L77.2 303.1L79.0 308.3M76.7 297.6L80.9 294.2L85.1 290.8M85.1 290.8L88.1 292.7L91.5 293.6M97.1 305.6L94.3 299.6L91.5 293.6M83.8 279.4L91.8 275.9L100.5 275.2M83.8 279.4L84.6 285.1L85.1 290.8M100.5 275.2L100.4 281.2L102.3 287.0M91.5 293.6L97.0 290.5L102.3 287.0M117.2 275.8L118.1 279.6L120.6 282.7M120.6 282.7L115.2 288.2L107.9 290.7M102.2 273.4L101.5 273.7M101.5 273.7L100.5 275.2M107.9 290.7L105.0 289.0L102.3 287.0M146.1 338.2L145.0 341.5L144.7 345.0M146.1 338.2L141.2 333.0L135.5 328.7M144.7 345.0L134.8 346.1L124.9 347.7M124.9 347.7L128.3 338.6L130.3 329.1M135.5 328.7L130.3 329.1M155.0 362.7L151.4 352.9L144.7 345.0M119.5 355.1L121.7 350.2M121.7 350.2L124.9 347.7M84.3 261.0L79.2 260.2M84.3 261.0L88.8 258.3M90.5 255.4L88.8 258.3M90.5 255.4L86.0 247.2L80.2 239.9M79.2 260.2L75.9 256.1L72.3 252.0M72.3 252.0L73.5 248.1L74.4 244.1M83.2 278.8L83.8 279.4M83.2 278.8L84.4 270.0L84.3 261.0M101.5 273.7L94.5 266.6L88.8 258.3M98.1 251.7L94.1 253.2L90.5 255.4M95.7 237.6L89.4 236.7L83.0 236.6M60.9 253.6L63.5 255.2M63.5 255.2L68.1 254.2L72.3 252.0M56.8 270.0L57.5 274.8L58.0 279.5M56.8 270.0L60.4 266.6L65.1 265.0M58.0 279.5L63.1 280.4L68.2 281.0M65.1 265.0L69.8 266.7M69.8 266.7L70.7 272.4L73.4 277.6M73.4 277.6L70.7 279.2L68.2 281.0M50.9 266.1L53.7 268.2L56.8 270.0M51.8 284.5L53.4 284.3M53.4 284.3L55.6 281.8L58.0 279.5M63.5 255.2L64.6 260.0L65.1 265.0M79.2 260.2L74.2 263.0L69.8 266.7M83.2 278.8L78.2 279.2L73.4 277.6M76.7 297.6L73.4 295.9L69.8 295.5M69.8 295.5L70.3 288.1L68.2 281.0M69.8 295.5L65.8 296.0L62.3 298.2M65.5 313.2L64.3 312.3M64.3 312.3L62.1 305.4L62.3 298.2M53.4 284.3L58.1 290.3L60.4 297.6M60.4 297.6L62.3 298.2M42.9 294.1L45.8 299.2L50.4 302.9M60.4 297.6L55.5 300.5L50.4 302.9M51.4 321.6L51.4 317.5L52.3 313.5M51.4 321.6L46.7 323.3L41.9 324.4M41.9 324.4L39.6 319.6L36.6 315.1M48.6 308.8L50.8 310.9L52.3 313.5M48.6 308.8L44.2 309.6L39.7 310.4M36.6 315.1L39.7 310.4M64.3 312.3L58.3 312.5L52.3 313.5M57.5 328.0L54.8 324.4L51.4 321.6M38.0 333.7L38.9 328.6L41.9 324.4M29.9 316.4L33.3 316.2L36.6 315.1M50.4 302.9L49.6 305.9L48.6 308.8M32.2 297.7L36.1 303.9L39.7 310.4M271.7 177.8L275.6 174.2L279.4 170.4M284.9 178.6L282.8 175.0L281.5 171.0M279.4 170.4L281.5 171.0M295.7 170.8L291.9 168.0L287.4 166.8M281.5 171.0L284.2 168.5L287.4 166.8M288.6 158.1L287.5 158.9M287.4 166.8L287.5 162.9L287.5 158.9M210.3 199.0L213.3 197.3L216.6 196.6M218.6 188.1L217.4 192.3L216.6 196.6M191.0 212.5L190.9 213.8M170.6 204.0L173.0 211.0L177.9 216.5M177.9 216.5L184.6 216.4L190.9 213.8M177.9 216.5L176.7 220.3L174.3 223.5M162.4 220.3L162.8 221.0M162.8 221.0L168.5 222.6L174.3 223.5M261.4 291.0L258.3 289.4L254.8 289.1M254.8 289.1L254.4 285.7L254.9 282.3M261.0 284.6L257.3 282.2M257.3 282.2L254.9 282.3M271.6 279.9L267.2 277.9M265.0 279.5L267.2 277.9M265.0 279.5L265.0 281.9M270.3 283.2L271.6 279.9M261.4 278.3L265.0 279.5M261.4 278.3L257.3 282.2M260.7 275.0L255.2 273.6M260.7 275.0L261.4 278.3M253.7 275.0L255.2 273.6M253.7 275.0L254.3 278.5L254.7 282.2M254.7 282.2L254.9 282.3M299.4 242.3L296.5 246.7M299.4 242.3L303.8 245.7M299.1 252.4L297.9 251.4M296.5 246.7L297.9 251.4M288.6 276.3L289.9 273.3L290.5 270.1M291.1 278.4L288.6 276.3M201.5 323.6L204.8 328.0M201.5 323.6L206.4 317.9L209.9 311.3M220.2 321.4L218.4 317.9L216.7 314.3M216.7 314.3L213.4 312.6L209.9 311.3M229.6 313.6L230.2 315.8M229.6 313.6L227.0 310.5L224.0 307.9M222.4 321.9L221.2 321.9M222.4 321.9L226.1 318.6L230.2 315.8M216.7 314.3L220.6 311.4L224.0 307.9M209.9 311.3L208.5 306.6M197.0 303.7L202.7 305.4L208.5 306.6M201.5 323.6L200.4 323.3M197.0 303.7L193.6 305.4L190.5 307.7M200.4 323.3L195.5 315.5L190.5 307.7M209.5 344.7L206.8 340.1L204.8 335.1M209.5 344.7L205.9 349.7L202.0 354.5M204.8 335.1L198.0 337.2L192.5 341.7M202.0 354.5L200.8 354.7M200.8 354.7L195.9 351.1L192.2 346.2M192.2 346.2L192.5 341.7M222.6 337.7L219.3 333.7M213.5 345.4L209.5 344.7M205.7 331.9L204.8 335.1M209.2 359.3L205.2 357.5L202.0 354.5M195.7 362.3L197.4 357.9L200.8 354.7M183.0 351.7L182.0 356.9L182.8 362.2M183.0 351.7L188.3 350.0L192.2 346.2M143.2 316.8L140.1 323.2L135.5 328.7M146.1 338.2L149.9 334.7L154.3 332.2M143.2 316.8L146.2 317.5L148.8 319.0M154.3 332.2L151.9 325.5L148.8 319.0M157.8 361.3L162.2 354.5L166.8 347.7M183.0 351.7L179.3 348.1L174.6 345.9M174.6 345.9L170.8 347.3L166.8 347.7M154.3 332.2L157.8 332.9L161.2 332.3M166.8 347.7L163.9 340.0L161.2 332.3M163.7 311.6L161.5 321.4L162.2 331.4M163.5 311.4L163.7 311.6M148.8 319.0L156.7 316.3L163.5 311.4M161.2 332.3L162.2 331.4M228.1 326.4L231.8 325.6L235.0 323.4M228.1 326.4L229.0 330.1L229.8 333.8M229.8 333.8L232.6 332.5L235.2 331.0M235.2 331.0L235.6 327.4L235.8 323.8M235.8 323.8L235.0 323.4M222.4 321.9L225.6 323.7L228.1 326.4M230.2 315.8L231.6 316.3M231.6 316.3L233.3 319.9L235.0 323.4M229.0 335.7L229.8 333.8M240.4 332.2L241.1 333.2M240.4 332.2L235.2 331.0M245.6 322.0L241.7 317.7M245.6 322.0L243.2 326.0M237.8 323.5L240.1 320.9L241.1 317.6M237.8 323.5L242.2 326.3M241.1 317.6L241.7 317.7M243.2 326.0L242.2 326.3M249.8 319.5L248.0 314.3M248.8 321.3L249.8 319.5M248.8 321.3L245.6 322.0M248.0 314.3L244.5 315.4L241.7 317.7M250.5 324.7L248.8 321.3M248.0 328.6L243.2 326.0M231.6 316.3L234.8 314.6L238.5 314.4M238.5 314.4L241.1 317.6M235.8 323.8L237.8 323.5M240.4 332.2L241.5 329.3L242.2 326.3M271.0 303.4L265.0 303.6M266.5 308.5L265.0 303.6M267.6 296.2L266.2 299.8L264.2 303.0M265.0 303.6L264.2 303.0M97.1 305.6L102.9 305.9M107.9 290.7L109.2 294.6L109.1 298.8M109.1 298.8L106.6 302.9L102.9 305.9M98.1 327.4L104.3 321.5L108.5 314.2M98.1 327.4L99.6 330.4L102.1 332.6M102.1 332.6L107.1 332.6L112.2 332.6M108.5 314.2L111.5 315.1M111.5 315.1L114.5 321.0L116.7 327.1M112.2 332.6L114.4 329.9L116.7 327.1M102.9 305.9L105.1 310.5L108.5 314.2M92.3 325.2L95.1 326.6L98.1 327.4M96.1 352.8L97.0 342.1L102.1 332.6M121.7 350.2L115.7 342.0L112.2 332.6M126.6 316.3L125.6 321.1L126.2 325.9M126.6 316.3L123.4 313.7L120.1 311.0M126.2 325.9L121.4 326.2L116.7 327.1M120.1 311.0L115.5 312.5L111.5 315.1M126.2 325.9L130.3 329.1M166.5 263.1L161.7 265.7L157.4 268.8M166.5 263.1L170.3 266.3L174.7 268.6M174.7 268.6L172.3 274.8L170.1 281.2M157.4 268.8L159.2 273.6L159.8 278.7M159.8 278.7L165.1 279.2L170.1 281.2M120.6 282.7L122.3 283.7M132.5 267.8L132.4 272.8L134.6 277.3M134.6 277.3L129.2 281.9L122.3 283.7M276.3 166.3L277.7 161.9L278.3 157.3M276.3 166.3L270.4 166.4M278.3 157.3L275.7 153.8M279.4 170.4L276.3 166.3M287.5 158.9L283.0 157.2L278.3 157.3M267.6 176.6L266.9 170.6M288.2 147.2L283.2 148.1L278.1 147.7M257.0 174.7L257.4 170.5M247.8 177.9L248.2 178.1M295.4 217.4L294.4 222.2L291.5 226.2M302.3 228.0L298.3 228.2L294.3 228.1M294.3 228.1L291.5 226.2M266.7 200.8L264.3 205.3M266.7 200.8L262.8 198.3L259.4 195.1M264.3 205.3L259.5 206.3L254.7 207.1M254.7 207.1L254.5 202.7L254.5 198.4M259.4 195.1L254.5 198.4M267.4 200.6L266.7 200.8M271.8 192.0L268.7 195.8L267.4 200.6M259.6 187.4L260.2 191.3L259.4 195.1M279.5 203.4L278.7 204.8M267.4 200.6L272.1 203.9L277.8 205.0M278.7 204.8L277.8 205.0M286.3 212.6L285.1 212.8M278.7 204.8L282.7 208.1L285.1 212.8M253.8 186.3L250.4 188.1L248.1 191.2M254.5 198.4L249.3 196.6M248.1 191.2L249.3 196.6M242.2 186.2L242.0 189.2M248.1 191.2L245.0 190.4L242.0 189.2M254.7 207.1L252.6 209.7M249.3 196.6L246.2 198.7L243.7 201.5M243.7 201.5L244.4 206.3M252.6 209.7L248.1 209.0L244.4 206.3M147.0 224.6L149.5 229.0L151.8 233.5M162.8 221.0L160.4 226.3L158.9 231.9M158.9 231.9L155.3 232.5L151.8 233.5M137.9 238.3L144.3 238.0L150.3 235.9M150.3 235.9L151.8 233.5M151.0 251.9L153.6 250.0M150.3 235.9L153.1 242.7L153.6 250.0M185.3 229.8L189.6 224.4L194.4 219.4M185.3 229.8L187.6 234.0L190.3 237.9M190.3 237.9L193.4 236.9L196.6 237.2M196.6 237.2L199.9 232.9L201.6 227.8M201.6 227.8L200.6 224.9L199.8 222.0M199.8 222.0L194.4 219.4M176.5 229.1L175.0 226.4L174.3 223.5M190.9 213.8L193.0 216.4L194.4 219.4M176.5 229.1L180.9 229.8L185.3 229.8M256.1 269.4L255.2 273.6M260.7 275.0L262.4 272.3L265.2 270.5M256.1 269.4L258.6 267.6L261.4 266.5M261.4 266.5L265.0 269.9M265.2 270.5L265.0 269.9M267.2 277.9L267.1 272.2M265.2 270.5L267.1 272.2M248.0 267.8L249.4 266.5M249.1 273.9L248.3 270.9L248.0 267.8M249.1 273.9L253.7 275.0M256.1 269.4L252.1 266.2M252.1 266.2L249.4 266.5M261.4 266.5L261.3 265.4M255.4 260.7L254.1 263.7L252.1 266.2M255.4 260.7L255.6 260.7M261.3 265.4L258.7 262.7L255.6 260.7M212.2 301.3L210.2 303.9L208.5 306.6M212.2 301.3L215.9 301.4L219.4 300.2M224.0 307.9L224.2 305.4M224.2 305.4L222.0 302.6L219.4 300.2M198.5 291.7L200.6 289.4L203.2 287.5M198.5 291.7L191.8 291.1L185.2 289.5M203.2 287.5L198.6 283.6L195.7 278.4M195.7 278.4L191.4 279.5L187.0 279.5M187.0 279.5L185.4 282.2L184.0 285.1M185.2 289.5L184.0 285.1M197.0 303.7L198.4 297.8L198.5 291.7M207.9 288.9L206.0 287.2M206.0 287.2L203.2 287.5M212.2 301.3L209.4 295.3L207.9 288.9M190.5 307.7L190.5 307.7M180.5 300.6L185.8 303.8L190.5 307.7M180.4 299.9L183.6 295.1L185.2 289.5M180.4 299.9L180.5 300.6M182.1 266.7L183.2 273.7L187.0 279.5M174.7 268.6L178.2 266.9L182.1 266.7M170.4 281.6L170.1 281.2M170.4 281.6L177.5 281.9L184.0 285.1M180.4 299.9L174.9 295.4L168.4 292.4M170.4 281.6L169.4 287.0L168.4 292.4M183.7 264.9L182.1 266.7M183.7 264.9L189.6 264.6L195.5 264.9M195.7 278.4L197.5 274.2L198.7 269.9M195.5 264.9L198.7 269.9M173.4 329.4L176.3 332.6L180.0 335.0M173.4 329.4L173.8 324.1L176.3 319.3M176.3 319.3L179.6 319.8L182.8 318.8M182.8 318.8L185.0 323.8L189.1 327.3M189.1 327.3L187.6 330.8L185.8 334.2M185.8 334.2L180.0 335.0M174.6 345.9L177.2 340.4L180.0 335.0M162.2 331.4L167.7 329.8L173.4 329.4M168.9 311.7L163.7 311.6M168.9 311.7L172.4 315.6L176.3 319.3M180.5 300.6L175.5 307.0L168.9 311.7M190.5 307.7L186.6 313.2L182.8 318.8M200.4 323.3L194.3 324.2L189.1 327.3M192.5 341.7L189.2 337.9L185.8 334.2M238.5 314.4L238.9 313.2M248.5 312.2L248.0 314.3M248.5 312.2L243.6 310.4M243.6 310.4L238.9 313.2M249.5 311.5L248.9 307.0L247.0 302.8M247.0 302.8L246.8 302.7M249.5 311.5L248.5 312.2M246.8 302.7L242.5 305.8M243.6 310.4L242.5 305.8M249.8 319.5L253.7 319.1M249.5 311.5L251.8 311.2M251.8 311.2L254.2 313.2L255.8 315.8M253.2 303.0L256.0 306.9M253.2 303.0L255.2 297.4M262.3 302.9L258.0 307.0M262.3 302.9L261.1 299.8L258.8 297.3M256.0 306.9L258.0 307.0M255.2 297.4L258.8 297.3M247.0 302.8L250.1 302.3L253.2 303.0M251.8 311.2L256.0 306.9M261.0 311.9L258.0 307.0M264.2 303.0L262.3 302.9M262.2 292.6L258.8 297.3M253.9 296.2L253.4 293.1L253.8 290.0M254.8 289.1L253.8 290.0M253.9 296.2L255.2 297.4M109.1 298.8L114.4 300.3L119.9 300.6M122.3 283.7L124.1 287.8M124.1 287.8L122.6 294.4L119.9 300.6M120.1 311.0L120.1 306.8L121.5 302.9M121.5 302.9L119.9 300.6M124.1 287.8L130.7 289.8L136.1 294.2M121.5 302.9L126.7 303.6L131.9 302.8M136.1 294.2L135.0 299.0L131.9 302.8M126.6 316.3L130.9 312.6L136.2 311.0M131.9 302.8L133.2 307.4L136.2 311.0M143.2 316.8L141.2 312.7M136.2 311.0L141.2 312.7M157.4 268.8L153.3 266.7L148.9 265.7M148.9 265.7L146.3 273.2L142.8 280.3M159.8 278.7L157.8 281.2L155.2 282.9M155.2 282.9L149.2 280.5L142.8 280.3M147.1 262.7L148.9 265.7M134.6 277.3L138.3 279.5L142.4 280.6M142.8 280.3L142.4 280.6M136.1 294.2L140.3 292.7M142.4 280.6L140.9 286.5L140.3 292.7M294.3 228.1L294.7 231.4L295.2 234.6M303.6 230.6L301.4 233.3L299.2 236.0M295.2 234.6L299.2 236.0M305.4 238.6L300.3 239.5M299.2 236.0L300.3 239.5M299.4 242.3L299.3 241.8M299.3 241.8L300.3 239.5M265.6 258.9L262.7 261.7L261.3 265.4M265.6 258.9L265.5 258.6M255.6 260.7L258.0 258.2L260.2 255.6M265.5 258.6L262.6 257.7L260.2 255.6M280.7 231.9L279.3 227.0M280.7 231.9L282.2 233.2M282.2 233.2L286.2 233.6M286.2 233.6L287.7 229.6L290.7 226.4M290.7 226.4L287.4 224.5L284.0 222.9M284.0 222.9L281.4 224.7L279.3 227.0M291.5 226.2L290.7 226.4M285.1 212.8L282.9 216.5M284.0 222.9L283.7 219.7L282.9 216.5M264.3 205.3L264.9 208.9L266.4 212.1M277.8 205.0L275.1 209.2L271.7 212.9M266.4 212.1L271.7 212.9M252.6 209.7L253.3 213.4M253.3 213.4L258.2 214.5L263.0 216.1M266.4 212.1L263.0 216.1M282.9 216.5L278.7 217.7L274.4 217.9M271.7 212.9L274.4 217.9M240.0 190.6L240.1 194.6L239.7 198.5M240.0 190.6L235.4 190.3L230.9 189.0M239.7 198.5L236.1 198.8L232.8 200.1M232.8 200.1L228.3 196.3M228.3 196.3L228.5 192.8L229.7 189.6M230.9 189.0L229.7 189.6M243.7 201.5L239.7 198.5M242.0 189.2L240.0 190.6M233.7 182.0L232.8 185.7L230.9 189.0M223.2 185.4L226.2 187.8L229.7 189.6M216.6 196.6L219.9 197.4L223.2 198.6M223.2 198.6L228.3 196.3M174.7 251.0L175.9 246.6L177.7 242.3M174.7 251.0L169.9 251.3L165.7 253.6M165.7 253.6L161.7 250.2M161.7 250.2L165.0 244.3L166.0 237.6M177.7 242.3L175.1 239.3L173.4 235.7M173.4 235.7L169.8 237.2L166.0 237.6M182.9 256.9L186.0 253.4L189.1 249.9M182.9 256.9L178.9 253.8L174.7 251.0M189.1 249.9L187.7 246.5L186.9 242.9M186.9 242.9L182.3 242.4L177.7 242.3M183.7 264.9L183.6 260.8L182.9 256.9M166.5 263.1L166.8 258.3L165.7 253.6M153.6 250.0L157.6 249.6L161.7 250.2M158.9 231.9L162.2 235.0L166.0 237.6M186.9 242.9L188.1 240.1L190.3 237.9M176.5 229.1L175.6 232.7L173.4 235.7M296.5 246.7L292.0 245.7M297.9 251.4L294.1 252.3L290.2 251.5M292.0 245.7L289.1 250.2M290.2 251.5L289.1 250.2M294.1 258.5L290.4 255.5M290.2 251.5L290.4 255.5M265.0 269.9L267.6 266.1L271.4 263.5M265.6 258.9L270.1 260.8M270.1 260.8L271.4 263.5M268.6 251.0L266.5 254.6L265.5 258.6M268.6 251.0L271.2 250.3M271.2 250.3L273.3 252.8L275.1 255.4M270.1 260.8L272.6 258.1L275.1 255.4M255.4 260.7L252.4 258.5M249.4 266.5L248.6 263.6L247.9 260.7M252.4 258.5L247.9 260.7M243.1 267.3L248.0 267.8M241.8 263.9L246.1 260.0M243.1 267.3L241.8 263.9M246.1 260.0L247.9 260.7M241.8 263.9L238.3 262.0M241.7 255.4L238.1 259.6M241.7 255.4L244.0 255.0M244.0 255.0L246.1 260.0M238.3 262.0L238.1 259.6M238.1 259.6L233.3 256.6M233.3 256.6L233.2 256.1M241.7 255.4L238.8 253.5L236.4 251.0M236.4 251.0L235.4 253.9L233.2 256.1M246.8 302.7L245.5 297.9M253.9 296.2L250.2 296.9L246.5 296.4M246.5 296.4L245.5 297.9M226.7 252.5L230.0 251.0L232.6 248.4M224.9 252.5L226.7 252.5M224.0 242.6L229.1 242.1M222.7 245.6L224.0 242.6M224.9 252.5L223.5 249.1L222.7 245.6M229.1 242.1L230.9 243.1M230.9 243.1L232.6 248.4M226.7 252.5L230.0 254.2L233.2 256.1M236.4 251.0L236.4 250.2M236.4 250.2L232.6 248.4M229.1 242.1L230.3 238.0L232.4 234.2M232.4 234.2L235.1 236.9L238.3 239.0M230.9 243.1L234.2 242.8L237.3 241.7M238.3 239.0L237.3 241.7M236.4 250.2L239.8 246.4M237.3 241.7L239.8 246.4M207.9 288.9L213.7 288.9L219.5 289.6M219.4 300.2L220.8 297.4L222.3 294.5M219.5 289.6L222.3 294.5M221.1 272.1L220.5 275.1L219.6 278.1M221.1 272.1L216.6 269.0L211.9 266.2M219.6 278.1L214.7 279.0L209.8 280.4M209.8 280.4L208.6 275.7L207.1 271.2M211.9 266.2L209.0 268.2L207.1 271.2M206.0 287.2L208.7 284.2L209.8 280.4M223.1 282.4L222.1 286.4L219.5 289.6M223.1 282.4L219.6 278.1M198.7 269.9L202.9 270.3L207.1 271.2M215.1 258.1L212.1 260.9M215.1 258.1L212.7 253.2L212.6 247.8M212.1 260.9L206.0 259.1L200.2 256.6M203.3 245.8L208.4 244.6M203.3 245.8L200.9 248.8L199.3 252.3M199.3 252.3L200.2 256.6M212.6 247.8L208.4 244.6M221.6 257.8L218.3 257.7L215.1 258.1M221.6 257.8L223.3 255.2L224.9 252.5M222.7 245.6L217.8 247.7L212.6 247.8M211.9 266.2L212.1 260.9M195.5 264.9L198.5 261.1L200.2 256.6M213.2 234.0L207.6 230.6L201.6 227.8M196.6 237.2L200.4 241.2L203.3 245.8M213.2 234.0L210.1 238.9L208.4 244.6M189.1 249.9L194.5 250.0L199.3 252.3M220.8 236.5L222.8 239.3L224.0 242.6M214.1 233.6L217.3 235.5L220.8 236.5M214.1 233.6L213.2 234.0M241.7 297.7L245.5 297.9M242.5 305.8L239.7 305.3M241.7 297.7L240.2 300.5L237.7 302.4M237.7 302.4L239.7 305.3M238.9 313.2L237.3 309.1M239.7 305.3L237.3 309.1M229.6 313.6L231.1 310.5L233.5 308.1M233.5 308.1L237.3 309.1M162.9 295.2L159.5 293.6L156.1 291.9M162.9 295.2L161.7 301.9L161.9 308.6M156.1 291.9L151.4 294.4L146.9 297.2M161.9 308.6L154.2 307.3L147.9 302.9M147.9 302.9L146.9 297.2M168.4 292.4L165.8 294.1L162.9 295.2M155.2 282.9L155.2 287.5L156.1 291.9M163.5 311.4L161.9 308.6M140.3 292.7L143.8 294.7L146.9 297.2M141.2 312.7L143.8 307.3L147.9 302.9M293.0 236.4L293.8 240.7M293.0 236.4L287.5 235.8M287.5 235.8L286.6 241.1M286.6 241.1L291.3 243.0M291.3 243.0L293.8 240.7M295.2 234.6L293.0 236.4M299.3 241.8L293.8 240.7M286.2 233.6L287.5 235.8M292.0 245.7L291.3 243.0M273.2 225.2L272.3 222.8M273.2 225.2L272.3 228.3L270.2 230.6M272.3 222.8L268.0 222.3L264.0 220.9M270.2 230.6L269.6 230.8M269.6 230.8L265.5 228.0L260.7 227.1M264.0 220.9L262.6 224.0L260.0 226.2M260.0 226.2L260.7 227.1M279.3 227.0L276.2 226.0L273.2 225.2M274.4 217.9L272.3 222.8M274.4 234.8L277.8 234.0L280.7 231.9M274.4 234.8L270.2 230.6M263.0 216.1L264.0 220.9M253.3 213.4L250.9 217.2L249.4 221.4M249.4 221.4L253.4 223.4L256.9 226.1M256.9 226.1L260.0 226.2M223.2 198.6L222.8 204.1L223.3 209.5M208.6 203.5L210.8 208.5M223.3 209.5L216.9 210.2L210.8 208.5M199.8 222.0L204.4 219.1L209.0 216.3M209.0 216.3L209.5 212.3L210.8 208.5M232.8 200.1L232.1 203.5L232.6 206.8M244.4 206.3L241.2 208.1L238.8 210.8M238.8 210.8L235.9 208.4L232.6 206.8M223.3 209.5L224.5 210.6M232.6 206.8L228.7 209.0L224.5 210.6M289.1 250.2L285.2 249.5M286.6 241.1L284.1 242.9M284.1 242.9L284.2 246.3L285.2 249.5M271.6 279.9L272.4 279.6M267.1 272.2L270.8 273.1L274.5 272.2M274.5 272.2L273.7 276.0L272.4 279.6M277.6 284.6L277.6 282.1M277.6 282.1L272.4 279.6M252.4 258.5L252.0 255.7M244.0 255.0L245.9 252.6M252.0 255.7L249.0 254.1L245.9 252.6M228.8 283.9L227.9 283.1M227.9 283.1L229.3 278.6L232.0 274.9M235.5 283.9L232.2 284.6L228.8 283.9M237.1 277.3L236.0 280.5L235.5 283.9M237.1 277.3L236.9 276.8M232.0 274.9L236.9 276.8M243.1 267.3L240.9 270.3M249.1 273.9L246.2 275.9M246.2 275.9L243.3 274.8L241.1 272.7M240.9 270.3L241.1 272.7M224.3 270.1L227.7 271.8L231.3 273.2M224.3 270.1L224.4 266.4L225.8 263.1M225.8 263.1L229.0 262.5M229.0 262.5L231.7 264.0L234.5 265.1M231.3 273.2L234.9 268.4M234.5 265.1L234.9 268.4M223.1 282.4L227.9 283.1M232.0 274.9L231.3 273.2M221.1 272.1L224.3 270.1M221.6 257.8L223.4 260.7L225.8 263.1M233.3 256.6L230.5 259.1L229.0 262.5M238.3 262.0L234.5 265.1M236.9 276.8L241.1 272.7M240.9 270.3L237.8 269.5L234.9 268.4M228.8 283.9L229.5 287.3L229.8 290.7M222.3 294.5L225.3 294.0L228.4 293.8M228.4 293.8L229.8 290.7M238.7 286.5L241.2 284.0L243.2 280.9M238.7 286.5L239.2 288.6M239.2 288.6L242.6 289.8L246.3 290.0M248.0 282.9L247.9 286.5L246.6 289.7M248.0 282.9L245.3 280.4M246.6 289.7L246.3 290.0M245.3 280.4L243.2 280.9M235.5 283.9L238.7 286.5M237.1 277.3L240.3 278.9L243.2 280.9M238.2 290.1L234.1 291.3L229.8 290.7M238.2 290.1L239.2 288.6M238.0 294.5L238.2 290.1M241.7 297.7L238.0 294.5M246.5 296.4L246.0 293.2L246.3 290.0M253.8 290.0L250.2 289.5L246.6 289.7M254.7 282.2L251.3 281.8L248.0 282.9M246.2 275.9L245.3 280.4M236.0 302.2L232.5 305.2M236.0 302.2L233.1 297.3M233.1 297.3L230.7 296.7M230.7 296.7L228.5 299.9L227.9 303.8M227.9 303.8L232.5 305.2M237.7 302.4L236.0 302.2M233.5 308.1L232.5 305.2M238.0 294.5L233.1 297.3M228.4 293.8L230.7 296.7M224.2 305.4L227.9 303.8M224.5 210.6L224.7 212.0M209.0 216.3L214.3 218.5L218.2 222.6M224.7 212.0L221.7 217.4L218.2 222.6M214.1 233.6L217.1 228.5L218.2 222.6M218.2 222.6L218.2 222.6M249.4 221.4L248.1 221.9M248.1 221.9L246.6 221.6M238.8 210.8L238.7 212.8M246.6 221.6L242.6 217.2L238.7 212.8M279.0 241.4L279.0 241.5M279.0 241.4L274.5 238.6M279.0 241.5L276.5 246.5M274.5 238.6L269.2 241.1M269.2 241.1L271.1 244.4L272.5 248.0M272.5 248.0L276.5 246.5M282.2 233.2L280.0 237.1L279.0 241.4M284.1 242.9L279.0 241.5M274.4 234.8L274.5 238.6M285.2 249.5L284.6 249.9M280.4 250.2L284.6 249.9M280.4 250.2L276.5 246.5M275.1 255.4L276.7 255.7M276.7 255.7L279.0 253.3L280.4 250.2M271.2 250.3L272.5 248.0M274.5 272.2L274.6 272.2M271.4 263.5L272.3 264.1M274.6 272.2L272.8 268.3L272.3 264.1M278.0 273.8L278.9 276.7L279.9 279.7M278.0 273.8L283.5 272.7M285.8 276.3L283.5 272.7M285.8 276.3L283.0 279.6M283.0 279.6L279.9 279.7M274.6 272.2L275.6 272.2M275.6 272.2L278.0 273.8M277.6 282.1L279.9 279.7M275.6 272.2L277.6 268.5L280.7 265.7M284.3 270.4L280.7 265.7M284.3 270.4L283.5 272.7M288.6 276.3L285.8 276.3M290.4 269.3L289.2 268.9M289.2 268.9L284.3 270.4M285.8 283.6L283.0 279.6M278.0 256.9L279.1 259.8L279.2 262.9M278.0 256.9L283.8 256.0M279.2 262.9L280.8 264.1M280.8 264.1L285.6 262.2M285.9 258.4L283.8 256.0M285.9 258.4L285.8 261.9M285.8 261.9L285.6 262.2M276.7 255.7L278.0 256.9M272.3 264.1L275.8 263.6L279.2 262.9M284.6 249.9L284.5 253.0L283.8 256.0M280.7 265.7L280.8 264.1M289.2 268.9L287.9 265.3L285.6 262.2M290.4 255.5L285.9 258.4M291.7 261.9L285.8 261.9M260.0 254.8L261.2 251.4M260.0 254.8L254.5 252.7M261.2 251.4L258.7 248.0M258.7 248.0L253.8 248.4M254.5 252.7L253.8 248.4M268.6 251.0L265.7 249.5M260.2 255.6L260.0 254.8M265.7 249.5L261.2 251.4M252.0 255.7L254.5 252.7M253.8 248.4L253.2 247.9M245.9 252.6L246.3 248.9M253.2 247.9L249.8 248.6L246.3 248.9M242.1 236.8L244.5 239.2L246.2 242.1M242.1 236.8L238.3 239.0M239.8 246.4L244.8 246.8M246.2 242.1L244.8 246.8M244.8 246.8L246.3 248.9M248.8 233.6L250.0 236.8L251.6 239.9M248.8 233.6L254.3 232.1M254.3 232.1L256.2 235.5M256.2 235.5L254.6 238.1L252.5 240.2M251.6 239.9L252.5 240.2M246.4 232.3L243.1 234.1M243.1 234.1L242.1 236.8M246.4 232.3L248.8 233.6M246.2 242.1L251.6 239.9M248.1 221.9L248.4 227.3L246.4 232.3M256.9 226.1L254.9 228.8L254.3 232.1M253.2 247.9L253.1 244.8L253.8 241.9M253.8 241.9L252.5 240.2M261.0 244.0L263.9 244.3M261.0 244.0L259.1 241.9M259.1 241.9L259.5 238.7L261.0 235.9M263.9 244.3L267.9 240.8M267.9 240.8L265.9 236.8M265.9 236.8L261.2 235.8M261.2 235.8L261.0 235.9M265.7 249.5L263.9 244.3M258.7 248.0L261.0 244.0M253.8 241.9L259.1 241.9M256.2 235.5L261.0 235.9M269.2 241.1L267.9 240.8M269.6 230.8L267.8 233.8L265.9 236.8M260.7 227.1L262.0 231.4L261.2 235.8M236.8 229.0L237.9 225.0M236.8 229.0L231.8 232.0M237.9 225.0L235.4 221.7L232.1 219.3M226.5 225.1L228.7 221.6L232.1 219.3M226.5 225.1L228.5 230.6M232.1 219.3L232.1 219.3M228.5 230.6L231.8 232.0M243.1 234.1L239.4 232.2L236.8 229.0M246.6 221.6L241.9 222.3L237.9 225.0M232.4 234.2L231.8 232.0M238.7 212.8L235.4 216.0L232.1 219.3M224.7 212.0L227.6 216.4L232.1 219.3M218.2 222.6L222.1 224.7L226.5 225.1M220.8 236.5L225.0 234.0L228.5 230.6"/></defs>
<use href="#mesh" fill="none" stroke="#3b1f1a" stroke-width="0.75" stroke-opacity="0.8" stroke-linecap="round"/>
</g>
<polygon points="115.0,215.4 116.4,214.1 120.4,211.4 123.1,205.9 124.5,199.2 125.8,193.8 127.2,189.1 127.8,185.0 133.9,181.6 144.1,181.6 148.8,180.3 152.2,171.5 155.5,172.8 159.6,174.2 167.7,177.6 174.5,176.9 182.6,176.2 188.0,177.6 192.0,182.3 197.4,180.3 204.2,181.6 208.2,187.0 215.0,189.1 219.1,188.0 224.5,184.6 229.9,180.5 235.3,182.6 238.6,184.6 240.7,186.6 245.4,185.3 247.4,179.2 248.8,173.8 252.2,171.1 255.5,171.8 259.6,169.1 263.0,171.8 267.7,170.4 270.4,166.4 268.4,160.3 271.8,155.5 276.5,153.5 277.8,148.1 281.2,143.4 285.3,140.7 290.7,141.4 296.1,144.1 297.4,148.1 296.1,153.5 294.1,158.9 303.5,158.2 304.2,164.3 302.2,173.8 300.8,181.9 302.2,190.0 304.2,198.1 304.5,199.9 308.5,199.2 315.3,194.5 322.0,190.4 330.1,187.7 334.2,183.6 338.2,180.3 344.3,176.2 349.1,173.5 354.5,173.5 359.9,174.9 360.5,177.6 357.2,180.3 361.2,180.9 366.6,178.9 372.0,176.9 378.8,175.5 384.2,176.2 388.2,178.9 388.9,180.9 385.5,180.3 381.5,181.6 380.1,185.7 380.8,189.1 377.4,189.1 373.4,191.8 368.0,193.8 362.6,191.8 354.5,191.8 346.4,192.4 338.2,193.1 330.1,195.1 322.0,197.8 316.6,201.2 311.2,204.6 309.2,207.3 306.5,204.6 305.0,207.8 301.2,214.5 298.4,220.1 301.2,225.8 305.0,233.4 305.5,240.0 304.9,244.1 301.5,249.5 298.1,253.5 296.1,256.2 292.0,260.9 290.0,266.4 290.7,271.1 293.4,273.8 290.7,279.2 286.6,283.2 282.6,285.3 277.2,284.6 270.4,283.2 265.0,281.9 260.9,284.6 260.3,288.6 262.3,292.7 267.0,294.1 268.4,299.5 271.1,303.5 268.4,307.6 263.0,310.3 259.6,313.0 254.2,317.0 252.8,322.4 248.8,326.5 246.8,331.9 244.1,340.0 240.8,349.9 236.1,357.4 231.4,357.4 225.7,352.7 221.9,353.6 212.3,353.5 209.6,358.9 205.5,363.0 205.5,365.0 201.5,366.4 196.1,369.1 188.0,369.7 185.3,367.0 181.2,368.4 177.2,369.1 174.5,373.8 170.4,377.8 168.4,381.9 167.0,390.0 168.4,394.1 167.0,399.5 165.7,403.5 169.1,406.9 167.0,408.9 156.9,413.6 144.1,417.0 135.3,419.7 123.1,418.4 115.0,419.7 115.0,421.5 112.3,422.2 109.6,424.2 90.7,423.5 71.8,424.2 69.1,424.9 27.8,410.7 38.0,398.5 46.1,387.7 50.8,379.6 51.5,371.5 48.8,366.1 48.1,360.7 46.8,359.3 45.4,363.4 36.6,362.7 27.2,360.7 26.5,352.6 25.8,343.1 25.8,335.0 26.1,329.5 21.4,320.0 20.4,315.0 20.4,306.9 24.5,298.8 19.1,292.0 17.0,285.3 17.7,281.2 23.1,277.2 27.2,271.8 24.5,267.7 29.9,262.3 33.2,255.5 32.6,244.1 35.9,239.3 37.3,234.6 39.3,233.2 44.7,237.3 50.1,239.3 55.5,238.6 59.6,242.0 63.6,247.4 66.4,244.7 71.8,245.4 75.8,243.4 82.6,238.0 84.6,231.2 85.3,226.5 90.7,225.1 96.1,223.1 102.8,221.1 109.6,217.7" fill="none" stroke="#3b1f1a" stroke-width="0.8" stroke-linejoin="round"/>
<clipPath id="cr"><polygon points="454.7,215.9 456.1,214.6 460.1,211.9 462.8,206.4 464.2,199.7 465.5,194.3 466.9,189.6 467.5,185.5 473.6,182.1 483.8,182.1 488.5,180.8 491.9,172.0 495.2,173.3 499.3,174.7 507.4,178.1 514.2,177.4 522.3,176.7 527.7,178.1 531.7,182.8 537.1,180.8 543.9,182.1 547.9,187.5 554.7,189.6 558.8,188.5 564.2,185.1 569.6,181.0 575.0,183.1 578.3,185.1 580.4,187.1 585.1,185.8 587.1,179.7 588.5,174.3 591.9,171.6 595.2,172.3 599.3,169.6 602.7,172.3 607.4,170.9 610.1,166.9 608.1,160.8 611.5,156.0 616.2,154.0 617.5,148.6 620.9,143.9 625.0,141.2 630.4,141.9 635.8,144.6 637.1,148.6 635.8,154.0 633.8,159.4 643.2,158.7 643.9,164.8 641.9,174.3 640.5,182.4 641.9,190.5 643.9,198.6 644.2,200.4 648.2,199.7 655.0,195.0 661.7,190.9 669.8,188.2 673.9,184.1 677.9,180.8 684.0,176.7 688.8,174.0 694.2,174.0 699.6,175.4 700.2,178.1 696.9,180.8 700.9,181.4 706.3,179.4 711.7,177.4 718.5,176.0 723.9,176.7 727.9,179.4 728.6,181.4 725.2,180.8 721.2,182.1 719.8,186.2 720.5,189.6 717.1,189.6 713.1,192.3 707.7,194.3 702.3,192.3 694.2,192.3 686.1,192.9 677.9,193.6 669.8,195.6 661.7,198.3 656.3,201.7 650.9,205.1 648.9,207.8 646.2,205.1 644.7,208.3 640.9,215.0 638.1,220.6 640.9,226.3 644.7,233.9 645.2,240.5 644.6,244.6 641.2,250.0 637.8,254.0 635.8,256.7 631.7,261.4 629.7,266.9 630.4,271.6 633.1,274.3 630.4,279.7 626.3,283.7 622.3,285.8 616.9,285.1 610.1,283.7 604.7,282.4 600.6,285.1 600.0,289.1 602.0,293.2 606.7,294.6 608.1,300.0 610.8,304.0 608.1,308.1 602.7,310.8 599.3,313.5 593.9,317.5 592.5,322.9 588.5,327.0 586.5,332.4 583.8,340.5 580.5,350.4 575.8,357.9 571.1,357.9 565.4,353.2 561.6,354.1 552.0,354.0 549.3,359.4 545.2,363.5 545.2,365.5 541.2,366.9 535.8,369.6 527.7,370.2 525.0,367.5 520.9,368.9 516.9,369.6 514.2,374.3 510.1,378.3 508.1,382.4 506.7,390.5 508.1,394.6 506.7,400.0 505.4,404.0 508.8,407.4 506.7,409.4 496.6,414.1 483.8,417.5 475.0,420.2 462.8,418.9 454.7,420.2 454.7,422.0 452.0,422.7 449.3,424.7 430.4,424.0 411.5,424.7 408.8,425.4 367.5,411.2 377.7,399.0 385.8,388.2 390.5,380.1 391.2,372.0 388.5,366.6 387.8,361.2 386.5,359.8 385.1,363.9 376.3,363.2 366.9,361.2 366.2,353.1 365.5,343.6 365.5,335.5 365.8,330.0 361.1,320.5 360.1,315.5 360.1,307.4 364.2,299.3 358.8,292.5 356.7,285.8 357.4,281.7 362.8,277.7 366.9,272.3 364.2,268.2 369.6,262.8 372.9,256.0 372.3,244.6 375.6,239.8 377.0,235.1 379.0,233.7 384.4,237.8 389.8,239.8 395.2,239.1 399.3,242.5 403.3,247.9 406.1,245.2 411.5,245.9 415.5,243.9 422.3,238.5 424.3,231.7 425.0,227.0 430.4,225.6 435.8,223.6 442.5,221.6 449.3,218.2"/></clipPath>
<clipPath id="cboth"><polygon points="454.7,215.9 456.1,214.6 460.1,211.9 462.8,206.4 464.2,199.7 465.5,194.3 466.9,189.6 467.5,185.5 473.6,182.1 483.8,182.1 488.5,180.8 491.9,172.0 495.2,173.3 499.3,174.7 507.4,178.1 514.2,177.4 522.3,176.7 527.7,178.1 531.7,182.8 537.1,180.8 543.9,182.1 547.9,187.5 554.7,189.6 558.8,188.5 564.2,185.1 569.6,181.0 575.0,183.1 578.3,185.1 580.4,187.1 585.1,185.8 587.1,179.7 588.5,174.3 591.9,171.6 595.2,172.3 599.3,169.6 602.7,172.3 607.4,170.9 610.1,166.9 608.1,160.8 611.5,156.0 616.2,154.0 617.5,148.6 620.9,143.9 625.0,141.2 630.4,141.9 635.8,144.6 637.1,148.6 635.8,154.0 633.8,159.4 643.2,158.7 643.9,164.8 641.9,174.3 640.5,182.4 641.9,190.5 643.9,198.6 644.2,200.4 648.2,199.7 655.0,195.0 661.7,190.9 669.8,188.2 673.9,184.1 677.9,180.8 684.0,176.7 688.8,174.0 694.2,174.0 699.6,175.4 700.2,178.1 696.9,180.8 700.9,181.4 706.3,179.4 711.7,177.4 718.5,176.0 723.9,176.7 727.9,179.4 728.6,181.4 725.2,180.8 721.2,182.1 719.8,186.2 720.5,189.6 717.1,189.6 713.1,192.3 707.7,194.3 702.3,192.3 694.2,192.3 686.1,192.9 677.9,193.6 669.8,195.6 661.7,198.3 656.3,201.7 650.9,205.1 648.9,207.8 646.2,205.1 644.7,208.3 640.9,215.0 638.1,220.6 640.9,226.3 644.7,233.9 645.2,240.5 644.6,244.6 641.2,250.0 637.8,254.0 635.8,256.7 631.7,261.4 629.7,266.9 630.4,271.6 633.1,274.3 630.4,279.7 626.3,283.7 622.3,285.8 616.9,285.1 610.1,283.7 604.7,282.4 600.6,285.1 600.0,289.1 602.0,293.2 606.7,294.6 608.1,300.0 610.8,304.0 608.1,308.1 602.7,310.8 599.3,313.5 593.9,317.5 592.5,322.9 588.5,327.0 586.5,332.4 583.8,340.5 580.5,350.4 575.8,357.9 571.1,357.9 565.4,353.2 561.6,354.1 552.0,354.0 549.3,359.4 545.2,363.5 545.2,365.5 541.2,366.9 535.8,369.6 527.7,370.2 525.0,367.5 520.9,368.9 516.9,369.6 514.2,374.3 510.1,378.3 508.1,382.4 506.7,390.5 508.1,394.6 506.7,400.0 505.4,404.0 508.8,407.4 506.7,409.4 496.6,414.1 483.8,417.5 475.0,420.2 462.8,418.9 454.7,420.2 454.7,422.0 452.0,422.7 449.3,424.7 430.4,424.0 411.5,424.7 408.8,425.4 367.5,411.2 377.7,399.0 385.8,388.2 390.5,380.1 391.2,372.0 388.5,366.6 387.8,361.2 386.5,359.8 385.1,363.9 376.3,363.2 366.9,361.2 366.2,353.1 365.5,343.6 365.5,335.5 365.8,330.0 361.1,320.5 360.1,315.5 360.1,307.4 364.2,299.3 358.8,292.5 356.7,285.8 357.4,281.7 362.8,277.7 366.9,272.3 364.2,268.2 369.6,262.8 372.9,256.0 372.3,244.6 375.6,239.8 377.0,235.1 379.0,233.7 384.4,237.8 389.8,239.8 395.2,239.1 399.3,242.5 403.3,247.9 406.1,245.2 411.5,245.9 415.5,243.9 422.3,238.5 424.3,231.7 425.0,227.0 430.4,225.6 435.8,223.6 442.5,221.6 449.3,218.2"/><polygon points="115.0,215.4 116.4,214.1 120.4,211.4 123.1,205.9 124.5,199.2 125.8,193.8 127.2,189.1 127.8,185.0 133.9,181.6 144.1,181.6 148.8,180.3 152.2,171.5 155.5,172.8 159.6,174.2 167.7,177.6 174.5,176.9 182.6,176.2 188.0,177.6 192.0,182.3 197.4,180.3 204.2,181.6 208.2,187.0 215.0,189.1 219.1,188.0 224.5,184.6 229.9,180.5 235.3,182.6 238.6,184.6 240.7,186.6 245.4,185.3 247.4,179.2 248.8,173.8 252.2,171.1 255.5,171.8 259.6,169.1 263.0,171.8 267.7,170.4 270.4,166.4 268.4,160.3 271.8,155.5 276.5,153.5 277.8,148.1 281.2,143.4 285.3,140.7 290.7,141.4 296.1,144.1 297.4,148.1 296.1,153.5 294.1,158.9 303.5,158.2 304.2,164.3 302.2,173.8 300.8,181.9 302.2,190.0 304.2,198.1 304.5,199.9 308.5,199.2 315.3,194.5 322.0,190.4 330.1,187.7 334.2,183.6 338.2,180.3 344.3,176.2 349.1,173.5 354.5,173.5 359.9,174.9 360.5,177.6 357.2,180.3 361.2,180.9 366.6,178.9 372.0,176.9 378.8,175.5 384.2,176.2 388.2,178.9 388.9,180.9 385.5,180.3 381.5,181.6 380.1,185.7 380.8,189.1 377.4,189.1 373.4,191.8 368.0,193.8 362.6,191.8 354.5,191.8 346.4,192.4 338.2,193.1 330.1,195.1 322.0,197.8 316.6,201.2 311.2,204.6 309.2,207.3 306.5,204.6 305.0,207.8 301.2,214.5 298.4,220.1 301.2,225.8 305.0,233.4 305.5,240.0 304.9,244.1 301.5,249.5 298.1,253.5 296.1,256.2 292.0,260.9 290.0,266.4 290.7,271.1 293.4,273.8 290.7,279.2 286.6,283.2 282.6,285.3 277.2,284.6 270.4,283.2 265.0,281.9 260.9,284.6 260.3,288.6 262.3,292.7 267.0,294.1 268.4,299.5 271.1,303.5 268.4,307.6 263.0,310.3 259.6,313.0 254.2,317.0 252.8,322.4 248.8,326.5 246.8,331.9 244.1,340.0 240.8,349.9 236.1,357.4 231.4,357.4 225.7,352.7 221.9,353.6 212.3,353.5 209.6,358.9 205.5,363.0 205.5,365.0 201.5,366.4 196.1,369.1 188.0,369.7 185.3,367.0 181.2,368.4 177.2,369.1 174.5,373.8 170.4,377.8 168.4,381.9 167.0,390.0 168.4,394.1 167.0,399.5 165.7,403.5 169.1,406.9 167.0,408.9 156.9,413.6 144.1,417.0 135.3,419.7 123.1,418.4 115.0,419.7 115.0,421.5 112.3,422.2 109.6,424.2 90.7,423.5 71.8,424.2 69.1,424.9 27.8,410.7 38.0,398.5 46.1,387.7 50.8,379.6 51.5,371.5 48.8,366.1 48.1,360.7 46.8,359.3 45.4,363.4 36.6,362.7 27.2,360.7 26.5,352.6 25.8,343.1 25.8,335.0 26.1,329.5 21.4,320.0 20.4,315.0 20.4,306.9 24.5,298.8 19.1,292.0 17.0,285.3 17.7,281.2 23.1,277.2 27.2,271.8 24.5,267.7 29.9,262.3 33.2,255.5 32.6,244.1 35.9,239.3 37.3,234.6 39.3,233.2 44.7,237.3 50.1,239.3 55.5,238.6 59.6,242.0 63.6,247.4 66.4,244.7 71.8,245.4 75.8,243.4 82.6,238.0 84.6,231.2 85.3,226.5 90.7,225.1 96.1,223.1 102.8,221.1 109.6,217.7"/></clipPath>
<polygon points="454.7,215.9 456.1,214.6 460.1,211.9 462.8,206.4 464.2,199.7 465.5,194.3 466.9,189.6 467.5,185.5 473.6,182.1 483.8,182.1 488.5,180.8 491.9,172.0 495.2,173.3 499.3,174.7 507.4,178.1 514.2,177.4 522.3,176.7 527.7,178.1 531.7,182.8 537.1,180.8 543.9,182.1 547.9,187.5 554.7,189.6 558.8,188.5 564.2,185.1 569.6,181.0 575.0,183.1 578.3,185.1 580.4,187.1 585.1,185.8 587.1,179.7 588.5,174.3 591.9,171.6 595.2,172.3 599.3,169.6 602.7,172.3 607.4,170.9 610.1,166.9 608.1,160.8 611.5,156.0 616.2,154.0 617.5,148.6 620.9,143.9 625.0,141.2 630.4,141.9 635.8,144.6 637.1,148.6 635.8,154.0 633.8,159.4 643.2,158.7 643.9,164.8 641.9,174.3 640.5,182.4 641.9,190.5 643.9,198.6 644.2,200.4 648.2,199.7 655.0,195.0 661.7,190.9 669.8,188.2 673.9,184.1 677.9,180.8 684.0,176.7 688.8,174.0 694.2,174.0 699.6,175.4 700.2,178.1 696.9,180.8 700.9,181.4 706.3,179.4 711.7,177.4 718.5,176.0 723.9,176.7 727.9,179.4 728.6,181.4 725.2,180.8 721.2,182.1 719.8,186.2 720.5,189.6 717.1,189.6 713.1,192.3 707.7,194.3 702.3,192.3 694.2,192.3 686.1,192.9 677.9,193.6 669.8,195.6 661.7,198.3 656.3,201.7 650.9,205.1 648.9,207.8 646.2,205.1 644.7,208.3 640.9,215.0 638.1,220.6 640.9,226.3 644.7,233.9 645.2,240.5 644.6,244.6 641.2,250.0 637.8,254.0 635.8,256.7 631.7,261.4 629.7,266.9 630.4,271.6 633.1,274.3 630.4,279.7 626.3,283.7 622.3,285.8 616.9,285.1 610.1,283.7 604.7,282.4 600.6,285.1 600.0,289.1 602.0,293.2 606.7,294.6 608.1,300.0 610.8,304.0 608.1,308.1 602.7,310.8 599.3,313.5 593.9,317.5 592.5,322.9 588.5,327.0 586.5,332.4 583.8,340.5 580.5,350.4 575.8,357.9 571.1,357.9 565.4,353.2 561.6,354.1 552.0,354.0 549.3,359.4 545.2,363.5 545.2,365.5 541.2,366.9 535.8,369.6 527.7,370.2 525.0,367.5 520.9,368.9 516.9,369.6 514.2,374.3 510.1,378.3 508.1,382.4 506.7,390.5 508.1,394.6 506.7,400.0 505.4,404.0 508.8,407.4 506.7,409.4 496.6,414.1 483.8,417.5 475.0,420.2 462.8,418.9 454.7,420.2 454.7,422.0 452.0,422.7 449.3,424.7 430.4,424.0 411.5,424.7 408.8,425.4 367.5,411.2 377.7,399.0 385.8,388.2 390.5,380.1 391.2,372.0 388.5,366.6 387.8,361.2 386.5,359.8 385.1,363.9 376.3,363.2 366.9,361.2 366.2,353.1 365.5,343.6 365.5,335.5 365.8,330.0 361.1,320.5 360.1,315.5 360.1,307.4 364.2,299.3 358.8,292.5 356.7,285.8 357.4,281.7 362.8,277.7 366.9,272.3 364.2,268.2 369.6,262.8 372.9,256.0 372.3,244.6 375.6,239.8 377.0,235.1 379.0,233.7 384.4,237.8 389.8,239.8 395.2,239.1 399.3,242.5 403.3,247.9 406.1,245.2 411.5,245.9 415.5,243.9 422.3,238.5 424.3,231.7 425.0,227.0 430.4,225.6 435.8,223.6 442.5,221.6 449.3,218.2" fill="#A00000"/>
<g clip-path="url(#cr)" stroke="#3b1f1a" stroke-width="0.6" stroke-linejoin="round">
<polygon points="468.5,191.4 477.3,192.0 482.0,197.4 484.1,200.8 485.4,206.9 484.1,210.9 481.4,211.6 479.3,215.0 478.6,219.1 484.1,220.4 487.4,217.7 490.1,220.4 493.5,221.8 494.2,226.5 489.5,227.2 484.1,226.5 477.3,229.2 474.6,233.2 470.5,237.3 465.8,238.6 464.5,232.6 462.4,225.8 460.4,220.4 456.4,217.0 459.1,213.6 463.1,207.6 464.5,200.1 465.8,195.4" fill="#FFA826"/>
<polygon points="382.3,287.3 387.0,283.9 393.1,283.2 395.8,279.2 399.2,279.9 405.9,280.5 408.0,281.9 404.6,284.6 399.9,285.9 396.5,289.3 390.4,288.6 385.7,289.3" fill="#FFA826"/>
<polygon points="391.8,319.1 393.8,317.0 396.5,319.1 400.5,317.0 404.6,316.4 405.9,319.1 403.2,323.1 402.6,327.2 398.5,329.2 393.8,329.9 392.4,324.5" fill="#FFA826"/>
<polygon points="366.1,331.2 373.5,328.5 380.9,327.8 391.1,329.9 393.1,333.9 392.4,340.7 389.7,346.1 393.8,348.8 390.4,354.2 387.0,359.6 385.0,362.3 366.8,360.9 365.4,348.8 366.8,340.7" fill="#FFA826"/>
<polygon points="423.5,302.2 425.5,297.4 428.2,301.5 428.9,304.9 435.7,304.2 441.1,302.8 445.8,299.5 449.2,303.5 450.5,308.2 454.6,310.9 460.0,310.9 462.0,311.6 462.0,318.4 460.0,319.1 456.6,321.8 453.2,325.8 449.2,329.9 446.5,333.9 441.1,337.3 433.0,338.6 426.2,337.3 425.5,331.2 422.2,328.5 422.2,323.1 426.2,321.8 427.6,315.0 425.5,309.6 422.8,306.9" fill="#FFA826"/>
<polygon points="411.4,340.7 413.4,336.6 415.4,334.6 420.8,333.2 425.5,331.2 426.2,337.3 424.9,341.4 422.2,345.4 416.8,347.4 412.7,346.1" fill="#FFA826"/>
<polygon points="486.4,281.2 490.4,279.2 491.8,274.5 499.2,273.1 504.6,273.8 507.3,275.8 511.4,275.8 512.0,281.2 512.7,285.3 518.1,285.3 522.2,285.9 530.3,285.3 534.3,288.0 533.6,290.7 535.7,283.9 539.7,279.2 546.5,277.8 553.2,278.5 554.6,285.3 557.3,288.0 554.6,292.0 553.2,296.1 549.2,298.1 546.5,304.2 544.5,304.9 545.1,309.6 542.4,315.0 538.4,317.7 533.0,316.4 528.9,313.6 526.2,317.0 522.8,316.4 524.9,310.9 527.6,305.5 524.9,305.5 522.2,303.5 520.8,298.8 514.1,298.8 510.0,299.5 505.9,296.1 503.9,292.0 499.2,294.1 496.5,294.1 498.5,290.0 493.8,290.7 489.1,292.7 485.0,289.3 487.0,285.3" fill="#FFA826"/>
<polygon points="480.3,304.2 484.3,302.2 489.1,303.5 492.4,306.2 494.5,310.3 498.5,312.3 497.8,316.4 495.1,317.0 492.4,313.6 488.4,311.6 484.3,312.3 483.0,308.2" fill="#FFA826"/>
<polygon points="458.0,309.6 460.0,308.9 465.4,308.2 464.1,312.3 461.4,317.7 460.0,318.4 458.0,318.4" fill="#FFA826"/>
<polygon points="548.5,315.0 551.9,313.0 555.3,315.0 557.3,319.1 554.6,323.1 550.5,322.4 547.8,319.1" fill="#FFA826"/>
<polygon points="549.2,298.1 553.2,296.1 557.3,295.4 556.6,298.8 551.9,301.5 549.2,300.8" fill="#FFA826"/>
<polygon points="485.7,334.6 488.4,329.2 491.1,331.2 499.2,331.9 500.5,331.2 504.6,332.6 510.7,329.9 513.4,331.9 510.7,336.6 507.3,339.3 508.0,346.1 504.6,349.5 499.2,351.5 493.8,349.5 492.4,344.7 493.1,339.3 486.4,338.0" fill="#FFA826"/>
<polygon points="480.3,358.2 482.3,354.9 487.0,352.2 487.7,355.5 485.0,359.6 481.6,361.6" fill="#FFA826"/>
<polygon points="465.8,384.5 484.1,387.2 494.9,389.2 507.7,391.2 508.4,397.3 507.0,404.1 509.1,407.4 505.0,410.1 494.9,414.2 475.9,420.3 461.8,418.2 463.8,400.0" fill="#FFA826"/>
<polygon points="586.2,248.8 596.2,248.8 597.5,252.5 591.2,255.0 586.2,251.2" fill="#FFA826"/>
<polygon points="600.0,307.5 603.8,306.2 605.0,310.0 601.2,311.2" fill="#FFA826"/>
<polygon points="557.5,305.0 565.0,301.2 568.8,296.2 572.5,301.2 567.5,308.8 560.0,308.8" fill="#FFA826"/>
<polygon points="598.8,306.2 603.8,305.0 603.8,310.0 600.0,311.2" fill="#FFA826"/>
<polygon points="586.2,241.2 593.8,235.0 598.8,228.8 608.8,225.0 610.0,230.0 606.2,237.5 601.2,245.0 596.2,248.8 588.8,247.5 584.5,246.2" fill="#3F9DB8"/>
<polygon points="573.8,262.5 577.5,257.5 581.2,261.2 577.5,270.0 573.8,268.8" fill="#3F9DB8"/>
<polygon points="469.2,217.7 473.2,215.7 476.6,218.4 475.3,221.1 470.5,221.8" fill="#A00000"/>
<polygon points="465.8,222.4 469.2,222.4 468.5,225.1 466.2,224.7" fill="#A00000"/>
<use href="#mesh" transform="translate(339.7,0.5)" fill="none" stroke="#4a1010" stroke-width="1" stroke-opacity="0.9" stroke-linecap="round"/>
</g>
<polygon points="454.7,215.9 456.1,214.6 460.1,211.9 462.8,206.4 464.2,199.7 465.5,194.3 466.9,189.6 467.5,185.5 473.6,182.1 483.8,182.1 488.5,180.8 491.9,172.0 495.2,173.3 499.3,174.7 507.4,178.1 514.2,177.4 522.3,176.7 527.7,178.1 531.7,182.8 537.1,180.8 543.9,182.1 547.9,187.5 554.7,189.6 558.8,188.5 564.2,185.1 569.6,181.0 575.0,183.1 578.3,185.1 580.4,187.1 585.1,185.8 587.1,179.7 588.5,174.3 591.9,171.6 595.2,172.3 599.3,169.6 602.7,172.3 607.4,170.9 610.1,166.9 608.1,160.8 611.5,156.0 616.2,154.0 617.5,148.6 620.9,143.9 625.0,141.2 630.4,141.9 635.8,144.6 637.1,148.6 635.8,154.0 633.8,159.4 643.2,158.7 643.9,164.8 641.9,174.3 640.5,182.4 641.9,190.5 643.9,198.6 644.2,200.4 648.2,199.7 655.0,195.0 661.7,190.9 669.8,188.2 673.9,184.1 677.9,180.8 684.0,176.7 688.8,174.0 694.2,174.0 699.6,175.4 700.2,178.1 696.9,180.8 700.9,181.4 706.3,179.4 711.7,177.4 718.5,176.0 723.9,176.7 727.9,179.4 728.6,181.4 725.2,180.8 721.2,182.1 719.8,186.2 720.5,189.6 717.1,189.6 713.1,192.3 707.7,194.3 702.3,192.3 694.2,192.3 686.1,192.9 677.9,193.6 669.8,195.6 661.7,198.3 656.3,201.7 650.9,205.1 648.9,207.8 646.2,205.1 644.7,208.3 640.9,215.0 638.1,220.6 640.9,226.3 644.7,233.9 645.2,240.5 644.6,244.6 641.2,250.0 637.8,254.0 635.8,256.7 631.7,261.4 629.7,266.9 630.4,271.6 633.1,274.3 630.4,279.7 626.3,283.7 622.3,285.8 616.9,285.1 610.1,283.7 604.7,282.4 600.6,285.1 600.0,289.1 602.0,293.2 606.7,294.6 608.1,300.0 610.8,304.0 608.1,308.1 602.7,310.8 599.3,313.5 593.9,317.5 592.5,322.9 588.5,327.0 586.5,332.4 583.8,340.5 580.5,350.4 575.8,357.9 571.1,357.9 565.4,353.2 561.6,354.1 552.0,354.0 549.3,359.4 545.2,363.5 545.2,365.5 541.2,366.9 535.8,369.6 527.7,370.2 525.0,367.5 520.9,368.9 516.9,369.6 514.2,374.3 510.1,378.3 508.1,382.4 506.7,390.5 508.1,394.6 506.7,400.0 505.4,404.0 508.8,407.4 506.7,409.4 496.6,414.1 483.8,417.5 475.0,420.2 462.8,418.9 454.7,420.2 454.7,422.0 452.0,422.7 449.3,424.7 430.4,424.0 411.5,424.7 408.8,425.4 367.5,411.2 377.7,399.0 385.8,388.2 390.5,380.1 391.2,372.0 388.5,366.6 387.8,361.2 386.5,359.8 385.1,363.9 376.3,363.2 366.9,361.2 366.2,353.1 365.5,343.6 365.5,335.5 365.8,330.0 361.1,320.5 360.1,315.5 360.1,307.4 364.2,299.3 358.8,292.5 356.7,285.8 357.4,281.7 362.8,277.7 366.9,272.3 364.2,268.2 369.6,262.8 372.9,256.0 372.3,244.6 375.6,239.8 377.0,235.1 379.0,233.7 384.4,237.8 389.8,239.8 395.2,239.1 399.3,242.5 403.3,247.9 406.1,245.2 411.5,245.9 415.5,243.9 422.3,238.5 424.3,231.7 425.0,227.0 430.4,225.6 435.8,223.6 442.5,221.6 449.3,218.2" fill="none" stroke="#3b1f1a" stroke-width="0.8" stroke-linejoin="round"/>
<polyline points="63.6,221.5 63.6,268" stroke="#fff" stroke-width="3.2" fill="none" clip-path="url(#cboth)"/><polyline points="63.6,221.5 63.6,268" stroke="#3a3a3a" stroke-width="1.25" fill="none"/>
<polyline points="236.7,164.5 236.7,192" stroke="#fff" stroke-width="3.2" fill="none" clip-path="url(#cboth)"/><polyline points="236.7,164.5 236.7,192" stroke="#3a3a3a" stroke-width="1.25" fill="none"/>
<polyline points="119.3,362 119.3,434" stroke="#fff" stroke-width="3.2" fill="none" clip-path="url(#cboth)"/><polyline points="119.3,362 119.3,434" stroke="#3a3a3a" stroke-width="1.25" fill="none"/>
<polyline points="154.4,362 154.4,427.4" stroke="#fff" stroke-width="3.2" fill="none" clip-path="url(#cboth)"/><polyline points="154.4,362 154.4,427.4" stroke="#3a3a3a" stroke-width="1.25" fill="none"/>
<polyline points="248,265.8 259.3,265.8 284.5,291.8" stroke="#fff" stroke-width="3.2" fill="none" clip-path="url(#cboth)"/><polyline points="248,265.8 259.3,265.8 284.5,291.8" stroke="#111" stroke-width="1.25" fill="none"/>
<circle cx="63.5" cy="273" r="5.2" fill="#fff" stroke="#111" stroke-width="2"/>
<circle cx="236.8" cy="196.8" r="5.2" fill="#fff" stroke="#111" stroke-width="2"/>
<circle cx="119.7" cy="357" r="5.2" fill="#fff" stroke="#111" stroke-width="2"/>
<circle cx="154.7" cy="357.4" r="5.2" fill="#fff" stroke="#111" stroke-width="2"/>
<circle cx="243.6" cy="266" r="5.2" fill="#fff" stroke="#111" stroke-width="2"/>
<text x="31.2" y="214.8" font-family="'DejaVu Sans', 'Liberation Sans', sans-serif" font-size="21" font-weight="normal" fill="#222" text-anchor="start" textLength="59.5" lengthAdjust="spacingAndGlyphs">Герат</text>
<text x="178.6" y="156.4" font-family="'DejaVu Sans', 'Liberation Sans', sans-serif" font-size="21" font-weight="normal" fill="#222" text-anchor="start" textLength="77.5" lengthAdjust="spacingAndGlyphs">Кундуз</text>
<text x="16.4" y="452.7" font-family="'DejaVu Sans', 'Liberation Sans', sans-serif" font-size="21" font-weight="normal" fill="#222" text-anchor="start" textLength="122.5" lengthAdjust="spacingAndGlyphs">Лашкаргах</text>
<text x="150.8" y="452.7" font-family="'DejaVu Sans', 'Liberation Sans', sans-serif" font-size="21" font-weight="normal" fill="#222" text-anchor="start" textLength="102.5" lengthAdjust="spacingAndGlyphs">Кандагар</text>
<text x="276.6" y="313.4" font-family="'DejaVu Sans', 'Liberation Sans', sans-serif" font-size="20.5" font-weight="bold" fill="#222" text-anchor="start" textLength="71" lengthAdjust="spacingAndGlyphs">Кабул</text>
<polyline points="588,265.8 598.8,265.8 624,291.5" stroke="#fff" stroke-width="3.2" fill="none" clip-path="url(#cboth)"/><polyline points="588,265.8 598.8,265.8 624,291.5" stroke="#111" stroke-width="1.25" fill="none"/>
<circle cx="403" cy="274.5" r="5.2" fill="#fff" stroke="#111" stroke-width="2"/>
<circle cx="576.3" cy="198.3" r="5.2" fill="#fff" stroke="#111" stroke-width="2"/>
<circle cx="459.5" cy="358.3" r="5.2" fill="#fff" stroke="#111" stroke-width="2"/>
<circle cx="494.3" cy="358.3" r="5.2" fill="#fff" stroke="#111" stroke-width="2"/>
<circle cx="583" cy="265.8" r="5.2" fill="#fff" stroke="#111" stroke-width="2"/>
<text x="618" y="313.4" font-family="'DejaVu Sans', 'Liberation Sans', sans-serif" font-size="20.5" font-weight="bold" fill="#222" text-anchor="start" textLength="70" lengthAdjust="spacingAndGlyphs">Кабул</text>
<text x="9.2" y="500.5" font-family="'DejaVu Sans', 'Liberation Sans', sans-serif" font-size="21" font-weight="normal" fill="#222" text-anchor="start" textLength="256" lengthAdjust="spacingAndGlyphs">Спорные территории**</text>
<rect x="9.5" y="510.2" width="148.6" height="18.4" fill="#FFA826"/>
<text x="166.5" y="526.6" font-family="'DejaVu Sans', 'Liberation Sans', sans-serif" font-size="21" font-weight="bold" fill="#333" text-anchor="start" textLength="41" lengthAdjust="spacingAndGlyphs">167</text>
<rect x="360" y="510.2" width="36" height="18.4" fill="#FFA826"/>
<text x="405.5" y="526.6" font-family="'DejaVu Sans', 'Liberation Sans', sans-serif" font-size="21" font-weight="bold" fill="#333" text-anchor="start" textLength="25" lengthAdjust="spacingAndGlyphs">41</text>
<text x="9.2" y="558.7" font-family="'DejaVu Sans', 'Liberation Sans', sans-serif" font-size="21" font-weight="normal" fill="#222" text-anchor="start" textLength="344" lengthAdjust="spacingAndGlyphs">Под контролем правительства</text>
<rect x="9.5" y="568.4" width="125.5" height="18.4" fill="#3F9DB8"/>
<text x="142" y="585" font-family="'DejaVu Sans', 'Liberation Sans', sans-serif" font-size="21" font-weight="bold" fill="#333" text-anchor="start" textLength="39.5" lengthAdjust="spacingAndGlyphs">141</text>
<rect x="360" y="568.4" width="11" height="18.4" fill="#3F9DB8"/>
<text x="378" y="585" font-family="'DejaVu Sans', 'Liberation Sans', sans-serif" font-size="21" font-weight="bold" fill="#333" text-anchor="start" textLength="27.5" lengthAdjust="spacingAndGlyphs">12</text>
<text x="9.2" y="616.9" font-family="'DejaVu Sans', 'Liberation Sans', sans-serif" font-size="21" font-weight="normal" fill="#222" text-anchor="start" textLength="315" lengthAdjust="spacingAndGlyphs">Под контролем “Талибана”*</text>
<rect x="9.5" y="626.6" width="80.5" height="18.4" fill="#A00000"/>
<text x="97.5" y="643.3" font-family="'DejaVu Sans', 'Liberation Sans', sans-serif" font-size="21" font-weight="bold" fill="#333" text-anchor="start" textLength="28" lengthAdjust="spacingAndGlyphs">90</text>
<rect x="360" y="626.6" width="301" height="18.4" fill="#A00000"/>
<text x="668.5" y="643.3" font-family="'DejaVu Sans', 'Liberation Sans', sans-serif" font-size="21" font-weight="bold" fill="#333" text-anchor="start" textLength="42.5" lengthAdjust="spacingAndGlyphs">345</text>
<text x="8.4" y="687.3" font-family="'DejaVu Sans', 'Liberation Sans', sans-serif" font-size="17" font-weight="normal" fill="#222" text-anchor="start" textLength="709" lengthAdjust="spacingAndGlyphs">* "Талибан" — террористическая группировка, запрещенная на территории РФ</text>
<text x="8.4" y="713.7" font-family="'DejaVu Sans', 'Liberation Sans', sans-serif" font-size="17" font-weight="normal" fill="#222" text-anchor="start" textLength="722" lengthAdjust="spacingAndGlyphs">** На спорных территориях продолжаются бои или сильно присутствие талибов</text>
<rect x="0" y="732.5" width="740" height="1" fill="#666"/>
<text x="3.8" y="752.4" font-family="'DejaVu Sans', 'Liberation Sans', sans-serif" font-size="17" font-weight="normal" fill="#222" text-anchor="start" textLength="547.5" lengthAdjust="spacingAndGlyphs">Источник: Афганская служба Би-би-си. Данные на 17:40 мск.</text>
<text x="4.4" y="774.4" font-family="'DejaVu Sans', 'Liberation Sans', sans-serif" font-size="17" font-weight="normal" fill="#222" text-anchor="start" textLength="538.5" lengthAdjust="spacingAndGlyphs">Районы в соответствии с границами Афганистана 2005 года</text>
<rect x="672.6" y="740.3" width="18.6" height="16.3" fill="#222"/>
<text x="681.9" y="754" font-family="'Liberation Sans', sans-serif" font-size="15.5" font-weight="bold" fill="#fff" text-anchor="middle">B</text>
<rect x="693.5" y="740.3" width="18.6" height="16.3" fill="#222"/>
<text x="702.8" y="754" font-family="'Liberation Sans', sans-serif" font-size="15.5" font-weight="bold" fill="#fff" text-anchor="middle">B</text>
<rect x="714.4" y="740.3" width="18.6" height="16.3" fill="#222"/>
<text x="723.7" y="754" font-family="'Liberation Sans', sans-serif" font-size="15.5" font-weight="bold" fill="#fff" text-anchor="middle">C</text>
</svg></body></html>
